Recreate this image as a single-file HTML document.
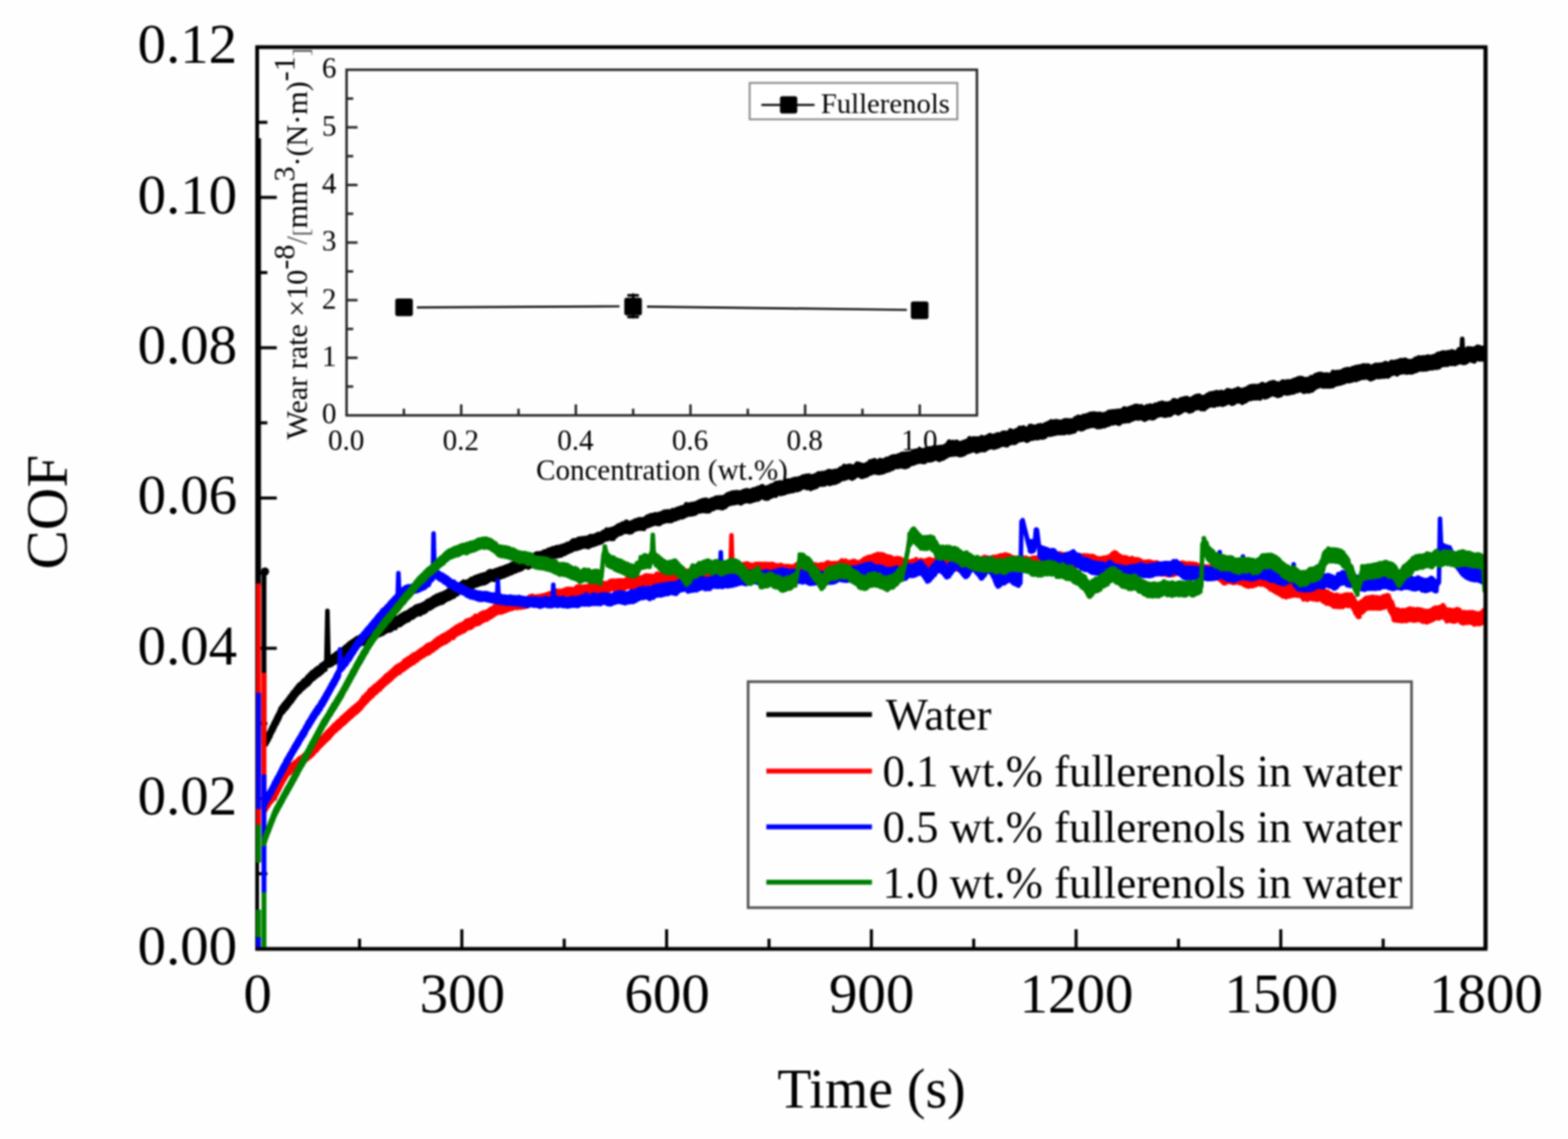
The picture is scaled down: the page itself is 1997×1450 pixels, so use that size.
<!DOCTYPE html>
<html lang="en"><head><meta charset="utf-8"><title>COF vs Time</title>
<style>html,body{margin:0;padding:0;background:#fff;}body{width:1997px;height:1450px;overflow:hidden;}svg{display:block;filter:blur(0.9px);}text{font-family:'Liberation Serif', serif;fill:#000;}</style></head><body>
<svg width="1997" height="1450" viewBox="0 0 1997 1450" role="img" aria-label="COF versus time chart">
<rect x="0" y="0" width="1997" height="1450" fill="#fefefe"/>
<g id="main-axes" stroke="#000" stroke-width="3.9" fill="none" stroke-linecap="butt">
<rect x="327.5" y="60.0" width="1564.5" height="1148.0" stroke-width="4.8"/>
<line x1="327.5" y1="1112.3" x2="340.5" y2="1112.3"/>
<line x1="327.5" y1="1016.7" x2="352.5" y2="1016.7"/>
<line x1="327.5" y1="921.0" x2="340.5" y2="921.0"/>
<line x1="327.5" y1="825.3" x2="352.5" y2="825.3"/>
<line x1="327.5" y1="729.7" x2="340.5" y2="729.7"/>
<line x1="327.5" y1="634.0" x2="352.5" y2="634.0"/>
<line x1="327.5" y1="538.3" x2="340.5" y2="538.3"/>
<line x1="327.5" y1="442.7" x2="352.5" y2="442.7"/>
<line x1="327.5" y1="347.0" x2="340.5" y2="347.0"/>
<line x1="327.5" y1="251.3" x2="352.5" y2="251.3"/>
<line x1="327.5" y1="155.7" x2="340.5" y2="155.7"/>
<line x1="457.9" y1="1208.0" x2="457.9" y2="1195.0"/>
<line x1="588.2" y1="1208.0" x2="588.2" y2="1183.0"/>
<line x1="718.6" y1="1208.0" x2="718.6" y2="1195.0"/>
<line x1="849.0" y1="1208.0" x2="849.0" y2="1183.0"/>
<line x1="979.4" y1="1208.0" x2="979.4" y2="1195.0"/>
<line x1="1109.8" y1="1208.0" x2="1109.8" y2="1183.0"/>
<line x1="1240.1" y1="1208.0" x2="1240.1" y2="1195.0"/>
<line x1="1370.5" y1="1208.0" x2="1370.5" y2="1183.0"/>
<line x1="1500.9" y1="1208.0" x2="1500.9" y2="1195.0"/>
<line x1="1631.2" y1="1208.0" x2="1631.2" y2="1183.0"/>
<line x1="1761.6" y1="1208.0" x2="1761.6" y2="1195.0"/>
</g>
<g id="main-labels" font-size="72.5">
<text x="302" y="1228.3" text-anchor="end">0.00</text>
<text x="302" y="1037.0" text-anchor="end">0.02</text>
<text x="302" y="845.6" text-anchor="end">0.04</text>
<text x="302" y="654.3" text-anchor="end">0.06</text>
<text x="302" y="463.0" text-anchor="end">0.08</text>
<text x="302" y="271.6" text-anchor="end">0.10</text>
<text x="302" y="80.3" text-anchor="end">0.12</text>
<text x="328.0" y="1288.5" text-anchor="middle">0</text>
<text x="588.8" y="1288.5" text-anchor="middle">300</text>
<text x="849.5" y="1288.5" text-anchor="middle">600</text>
<text x="1110.2" y="1288.5" text-anchor="middle">900</text>
<text x="1371.0" y="1288.5" text-anchor="middle">1200</text>
<text x="1631.8" y="1288.5" text-anchor="middle">1500</text>
<text x="1892.5" y="1288.5" text-anchor="middle">1800</text>
</g>
<text x="1110" y="1409.5" font-size="71" text-anchor="middle">Time (s)</text>
<text transform="translate(85,652) rotate(-90)" font-size="75" text-anchor="middle">COF</text>
<g id="inset-axes" stroke="#262626" stroke-width="3.1" fill="none">
<rect x="441.4" y="88.8" width="802.8" height="440.0" fill="#fefefe"/>
<line x1="441.4" y1="492.1" x2="449.9" y2="492.1"/>
<line x1="441.4" y1="455.5" x2="455.4" y2="455.5"/>
<line x1="441.4" y1="418.8" x2="449.9" y2="418.8"/>
<line x1="441.4" y1="382.1" x2="455.4" y2="382.1"/>
<line x1="441.4" y1="345.5" x2="449.9" y2="345.5"/>
<line x1="441.4" y1="308.8" x2="455.4" y2="308.8"/>
<line x1="441.4" y1="272.1" x2="449.9" y2="272.1"/>
<line x1="441.4" y1="235.5" x2="455.4" y2="235.5"/>
<line x1="441.4" y1="198.8" x2="449.9" y2="198.8"/>
<line x1="441.4" y1="162.1" x2="455.4" y2="162.1"/>
<line x1="441.4" y1="125.5" x2="449.9" y2="125.5"/>
<line x1="514.4" y1="528.8" x2="514.4" y2="520.3"/>
<line x1="587.4" y1="528.8" x2="587.4" y2="514.8"/>
<line x1="660.4" y1="528.8" x2="660.4" y2="520.3"/>
<line x1="733.4" y1="528.8" x2="733.4" y2="514.8"/>
<line x1="806.4" y1="528.8" x2="806.4" y2="520.3"/>
<line x1="879.4" y1="528.8" x2="879.4" y2="514.8"/>
<line x1="952.4" y1="528.8" x2="952.4" y2="520.3"/>
<line x1="1025.4" y1="528.8" x2="1025.4" y2="514.8"/>
<line x1="1098.4" y1="528.8" x2="1098.4" y2="520.3"/>
<line x1="1171.4" y1="528.8" x2="1171.4" y2="514.8"/>
</g>
<g id="inset-labels" font-size="37" fill="#222">
<text x="428.5" y="539.3" text-anchor="end" fill="#222">0</text>
<text x="428.5" y="466.0" text-anchor="end" fill="#222">1</text>
<text x="428.5" y="392.6" text-anchor="end" fill="#222">2</text>
<text x="428.5" y="319.3" text-anchor="end" fill="#222">3</text>
<text x="428.5" y="246.0" text-anchor="end" fill="#222">4</text>
<text x="428.5" y="172.6" text-anchor="end" fill="#222">5</text>
<text x="428.5" y="99.3" text-anchor="end" fill="#222">6</text>
<text x="440.9" y="573" text-anchor="middle" fill="#222">0.0</text>
<text x="586.9" y="573" text-anchor="middle" fill="#222">0.2</text>
<text x="732.9" y="573" text-anchor="middle" fill="#222">0.4</text>
<text x="878.9" y="573" text-anchor="middle" fill="#222">0.6</text>
<text x="1024.9" y="573" text-anchor="middle" fill="#222">0.8</text>
<text x="1170.9" y="573" text-anchor="middle" fill="#222">1.0</text>
<text x="843" y="610.5" text-anchor="middle" fill="#222">Concentration (wt.%)</text>
</g>
<text transform="translate(391,559.5) rotate(-90)" font-size="38.3" fill="#222">Wear rate ×10<tspan dy="-16">-8</tspan><tspan dy="16" fill="#555">/</tspan><tspan dy="2" font-size="30" fill="#555">[</tspan><tspan dy="-2">mm</tspan><tspan dy="-16">3</tspan><tspan dy="16">·(N·m)</tspan><tspan dy="-16">-1</tspan><tspan dy="18" font-size="30" fill="#555">]</tspan></text>
<g id="inset-data">
<path d="M531,391.3 L789,390 M824,390.3 L1155,394.5" stroke="#111" stroke-width="2.7" fill="none"/>
<path d="M806.3,375 V404 M800.3,376 H812.3 M800.3,403.5 H812.3" stroke="#000" stroke-width="3.4" fill="none" stroke-linecap="round"/>
<rect x="503.4" y="380.0" width="22.4" height="22.4" rx="3" fill="#000"/>
<rect x="795.1" y="379.1" width="22.4" height="22.4" rx="3" fill="#000"/>
<rect x="1160.1" y="383.8" width="22.4" height="22.4" rx="3" fill="#000"/>
</g>
<g id="inset-legend">
<rect x="954.8" y="105.6" width="264.4" height="46.3" fill="#fff" stroke="#8c8c8c" stroke-width="2.4"/>
<line x1="969.7" y1="133.7" x2="1037.4" y2="133.7" stroke="#111" stroke-width="2.8"/>
<rect x="993.4" y="122.6" width="22" height="22" rx="3" fill="#000"/>
<text x="1045.5" y="143.6" font-size="36.5" fill="#222">Fullerenols</text>
</g>
<clipPath id="plotclip"><rect x="325.0" y="60.0" width="1568.0" height="1149.0"/></clipPath>
<g id="curves" fill="none" stroke-linejoin="round" stroke-linecap="round" clip-path="url(#plotclip)">
<line x1="329.3" y1="176.0" x2="329.3" y2="746.0" stroke="#000" stroke-width="6.2" stroke-linecap="butt"/>
<line x1="336.2" y1="724.0" x2="336.2" y2="946.0" stroke="#000" stroke-width="6.2" stroke-linecap="butt"/>
<circle cx="337.5" cy="727.5" r="5.2" fill="#000"/>
<polyline stroke="#000000" stroke-width="5.8" points="338.0,948.1 338.3,940.2 338.7,947.8 339.0,938.6 339.3,946.3 339.7,938.3 340.0,945.7 340.3,937.3 340.7,944.4 341.0,936.3 341.3,943.2 341.5,935.0 341.8,942.4 342.1,934.0 342.3,941.2 342.6,932.8 342.9,940.3 343.1,932.0 343.4,939.0 343.7,931.3 343.9,938.3 344.2,929.9 344.5,937.1 344.7,928.6 345.0,935.8 345.2,927.3 345.5,934.3 345.8,926.3 346.0,933.4 346.3,924.9 346.6,932.2 346.8,924.6 347.1,931.4 347.4,923.4 347.6,930.7 347.9,921.9 348.2,929.2 348.4,920.8 348.7,928.6 349.0,919.5 349.2,926.9 349.5,919.1 349.8,926.3 350.0,917.6 350.3,924.9 350.6,916.9 350.8,923.6 351.1,915.3 351.4,922.7 351.6,914.1 351.9,922.2 352.2,913.3 352.4,920.8 352.7,912.0 353.0,920.1 353.2,911.6 353.5,918.5 353.8,909.8 354.0,917.8 354.3,909.5 354.5,916.5 354.8,908.6 355.1,916.2 355.3,906.9 355.6,914.8 355.9,906.0 356.1,913.2 356.4,904.9 356.7,912.5 356.9,903.0 357.2,911.0 357.5,902.0 357.7,909.7 358.0,901.5 358.4,908.5 358.7,900.1 359.1,908.1 359.5,899.5 359.9,907.0 360.2,898.2 360.6,906.7 361.0,897.3 361.3,905.0 361.7,896.1 362.1,904.3 362.5,895.7 362.8,903.1 363.2,894.7 363.6,903.0 364.0,893.5 364.3,902.2 364.7,892.8 365.1,900.8 365.4,891.9 365.8,900.4 366.2,891.1 366.6,898.8 366.9,889.9 367.3,898.3 367.7,888.9 368.0,897.1 368.4,887.9 368.8,896.2 369.2,886.7 369.5,895.5 369.9,885.9 370.3,894.2 370.7,885.1 371.0,893.5 371.4,884.0 371.8,893.0 372.1,883.3 372.5,891.2 372.9,881.4 373.3,890.3 373.6,881.0 374.0,889.4 374.4,880.3 374.7,888.6 375.1,879.6 375.5,887.4 375.9,878.3 376.2,886.2 376.6,877.2 377.0,885.4 377.4,876.8 377.7,884.4 378.1,875.3 378.5,883.6 378.8,874.6 379.2,882.5 379.6,873.7 380.0,882.0 380.3,872.7 380.7,881.3 381.1,871.6 381.6,880.8 382.0,871.1 382.5,879.5 382.9,870.7 383.4,878.5 383.8,869.7 384.3,877.9 384.7,868.9 385.2,876.8 385.6,868.0 386.1,876.2 386.5,866.7 387.0,875.6 387.4,865.9 387.9,874.6 388.3,866.0 388.7,873.7 389.2,864.9 389.6,873.0 390.1,863.8 390.5,872.6 391.0,863.0 391.4,871.8 391.9,861.2 392.3,871.2 392.8,861.8 393.2,870.2 393.7,860.8 394.1,869.4 394.6,858.6 395.0,867.8 395.5,859.2 395.9,866.9 396.3,857.5 396.8,865.8 397.2,855.8 397.7,865.2 398.1,855.8 398.6,864.7 399.0,855.0 399.5,863.9 399.9,854.3 400.4,863.1 400.8,854.0 401.3,862.3 401.7,852.7 402.2,861.5 402.6,852.2 403.1,860.4 403.5,851.4 404.0,860.3 404.5,850.5 404.9,859.2 405.4,850.4 405.9,859.2 406.4,849.9 406.9,858.5 407.3,848.9 407.8,857.0 408.3,848.1 408.8,856.8 409.3,846.3 409.7,856.2 410.2,846.4 410.7,854.9 411.2,845.6 411.7,854.2 412.1,844.7 412.6,853.6 413.1,844.5 413.6,852.8 414.1,843.1 414.5,852.3 415.0,842.5 415.5,847.5 415.5,845.9 415.5,846.2 415.5,844.7 415.6,845.0 415.6,843.5 415.6,843.8 415.6,842.4 415.6,842.7 415.6,841.1 415.6,841.4 415.6,839.9 415.7,840.2 415.7,838.7 415.7,839.0 415.7,837.5 415.7,837.9 415.7,836.3 415.7,836.7 415.7,835.2 415.8,835.4 415.8,833.9 415.8,834.3 415.8,832.7 415.8,833.0 415.8,831.5 415.8,831.8 415.9,830.3 415.9,830.7 415.9,829.1 415.9,829.4 415.9,827.9 415.9,828.2 415.9,826.7 415.9,827.0 416.0,825.5 416.0,825.8 416.0,824.4 416.0,824.7 416.0,823.2 416.0,823.5 416.0,821.9 416.0,822.3 416.1,820.7 416.1,821.1 416.1,819.5 416.1,819.8 416.1,818.3 416.1,818.7 416.1,817.1 416.2,817.5 416.2,815.9 416.2,816.2 416.2,814.6 416.2,815.0 416.2,813.5 416.2,813.9 416.2,812.3 416.3,812.6 416.3,811.1 416.3,811.4 416.3,809.9 416.3,810.2 416.3,808.7 416.3,809.0 416.3,807.5 416.4,807.8 416.4,806.3 416.4,806.7 416.4,805.1 416.4,805.5 416.4,803.9 416.4,804.2 416.5,802.7 416.5,803.0 416.5,801.5 416.5,801.8 416.5,800.3 416.5,800.6 416.5,799.1 416.5,799.4 416.6,797.9 416.6,798.3 416.6,796.7 416.6,797.1 416.6,795.6 416.6,795.9 416.6,794.4 416.6,794.7 416.7,793.1 416.7,793.5 416.7,791.9 416.7,792.3 416.7,790.7 416.7,791.1 416.7,789.5 416.8,789.9 416.8,788.3 416.8,788.6 416.8,787.1 416.8,787.5 416.8,785.9 416.8,786.2 416.8,784.7 416.9,785.1 416.9,783.5 416.9,783.8 416.9,782.3 416.9,782.7 416.9,781.1 416.9,781.5 416.9,779.9 417.0,780.3 417.0,778.7 417.0,779.1 417.0,777.6 417.0,779.1 417.0,778.7 417.0,780.3 417.1,780.0 417.1,781.5 417.1,781.1 417.1,782.7 417.1,782.4 417.1,783.9 417.1,783.6 417.2,785.1 417.2,784.8 417.2,786.3 417.2,786.0 417.2,787.5 417.2,787.2 417.2,788.7 417.2,788.4 417.3,789.9 417.3,789.6 417.3,791.1 417.3,790.7 417.3,792.3 417.3,792.0 417.3,793.5 417.4,793.2 417.4,794.7 417.4,794.4 417.4,795.9 417.4,795.6 417.4,797.2 417.4,796.8 417.5,798.3 417.5,797.9 417.5,799.5 417.5,799.3 417.5,800.8 417.5,800.5 417.5,802.0 417.6,801.6 417.6,803.2 417.6,802.8 417.6,804.4 417.6,804.0 417.6,805.6 417.6,805.2 417.7,806.8 417.7,806.4 417.7,808.0 417.7,807.6 417.7,809.1 417.7,808.8 417.7,810.3 417.8,810.0 417.8,811.5 417.8,811.2 417.8,812.7 417.8,812.4 417.8,814.0 417.8,813.6 417.8,815.1 417.9,814.8 417.9,816.4 417.9,816.0 417.9,817.6 417.9,817.3 417.9,818.8 417.9,818.5 418.0,820.0 418.0,819.7 418.0,821.2 418.0,820.9 418.0,822.5 418.0,822.1 418.0,823.7 418.1,823.3 418.1,824.8 418.1,824.5 418.1,826.0 418.1,825.7 418.1,827.2 418.1,826.9 418.2,828.4 418.2,828.1 418.2,829.7 418.2,829.3 418.2,830.8 418.2,830.6 418.2,832.0 418.2,831.7 418.3,833.2 418.3,832.9 418.3,834.5 418.3,834.2 418.3,835.6 418.3,835.3 418.3,836.9 418.4,836.5 418.4,838.1 418.4,837.8 418.4,839.3 418.4,838.9 418.4,840.4 418.4,840.2 418.5,841.6 418.5,841.4 418.5,842.9 418.5,838.3 419.0,847.5 419.6,837.7 420.1,846.7 420.6,837.4 421.2,846.8 421.7,837.2 422.2,846.0 422.8,836.6 423.3,845.5 423.9,835.2 424.4,844.2 424.9,834.6 425.5,843.4 426.0,834.1 426.5,843.7 427.0,832.9 427.4,842.7 427.9,832.2 428.4,841.6 428.9,831.7 429.4,841.5 429.8,831.2 430.3,840.3 430.8,830.1 431.3,839.9 431.8,829.7 432.2,838.7 432.7,829.5 433.2,838.1 433.7,828.3 434.1,838.1 434.6,828.2 435.1,836.7 435.6,827.1 436.1,836.7 436.5,826.5 437.0,835.4 437.5,825.6 438.0,834.6 438.5,825.1 438.9,833.8 439.4,823.9 439.9,833.5 440.4,823.0 440.9,832.0 441.3,822.6 441.8,831.6 442.3,822.0 442.8,830.5 443.2,820.7 443.7,829.9 444.2,819.9 444.7,829.1 445.2,819.1 445.6,828.8 446.1,818.2 446.6,827.9 447.1,818.1 447.6,826.6 448.0,817.1 448.5,826.5 449.0,816.4 449.5,825.3 450.1,815.7 450.6,824.5 451.2,815.2 451.7,824.0 452.2,814.1 452.8,823.9 453.3,814.0 453.9,822.7 454.4,812.4 454.9,822.0 455.5,812.2 456.0,821.6 456.6,812.2 457.1,821.6 457.6,811.4 458.2,820.4 458.7,810.3 459.3,819.9 459.8,810.0 460.4,819.8 460.9,810.1 461.4,819.6 462.0,809.3 462.5,819.4 463.1,808.9 463.6,818.0 464.1,808.7 464.7,818.5 465.2,808.0 465.8,817.2 466.3,806.5 466.8,817.5 467.4,806.4 467.9,816.4 468.5,806.0 469.0,815.3 469.5,805.2 470.1,815.2 470.6,804.9 471.2,814.0 471.7,804.2 472.2,813.9 472.8,803.7 473.3,813.4 473.9,802.8 474.4,812.7 474.9,802.1 475.5,812.4 476.0,801.3 476.6,811.9 477.1,801.4 477.7,810.8 478.2,800.7 478.7,810.3 479.3,800.0 479.8,810.0 480.4,799.5 480.9,809.1 481.4,799.9 482.0,808.9 482.5,798.8 483.1,808.7 483.6,798.1 484.1,808.0 484.7,796.6 485.2,807.1 485.8,797.5 486.3,806.6 486.9,796.9 487.4,806.8 487.9,795.7 488.5,805.4 489.0,795.4 489.6,805.0 490.1,794.8 490.6,804.8 491.2,794.7 491.7,803.8 492.3,793.9 492.8,803.2 493.3,793.4 493.9,803.2 494.4,792.2 495.0,802.8 495.5,792.3 496.0,802.3 496.6,791.6 497.1,802.5 497.7,791.2 498.2,802.1 498.8,790.4 499.3,800.8 499.8,789.4 500.4,799.4 500.9,789.3 501.5,799.1 502.0,789.4 502.5,798.6 503.1,788.1 503.6,799.6 504.1,786.5 504.6,797.5 505.2,787.9 505.7,796.8 506.2,787.3 506.7,796.4 507.3,786.3 507.8,796.1 508.3,786.0 508.8,795.8 509.4,784.5 509.9,795.6 510.4,784.9 510.9,794.4 511.5,783.1 512.0,793.8 512.5,783.5 513.0,793.2 513.6,781.9 514.1,792.4 514.6,781.8 515.1,791.9 515.7,780.7 516.2,791.1 516.7,780.3 517.2,790.6 517.8,779.8 518.3,789.8 518.8,779.9 519.4,789.9 519.9,778.9 520.4,789.4 520.9,778.1 521.5,788.2 522.0,777.8 522.5,787.0 523.0,776.6 523.6,786.3 524.1,776.0 524.6,786.6 525.1,775.9 525.7,786.0 526.2,775.1 526.7,785.3 527.2,774.4 527.8,784.4 528.3,773.2 528.8,783.7 529.3,773.1 529.9,783.0 530.4,771.9 530.9,782.1 531.4,771.7 532.0,782.2 532.5,771.5 533.0,781.3 533.6,770.8 534.1,780.8 534.6,771.0 535.2,782.0 535.7,770.6 536.2,781.1 536.8,770.2 537.3,780.3 537.9,769.4 538.4,779.1 538.9,769.5 539.5,779.2 540.0,768.3 540.5,779.4 541.1,768.1 541.6,777.6 542.1,767.3 542.7,777.9 543.2,766.4 543.7,776.2 544.3,765.5 544.8,775.4 545.3,764.6 545.9,774.8 546.4,764.9 546.9,774.8 547.5,764.2 548.0,774.5 548.6,763.2 549.1,773.2 549.6,763.2 550.2,773.0 550.7,762.3 551.2,772.6 551.8,761.0 552.3,771.1 552.8,760.4 553.4,770.6 553.9,759.9 554.4,770.5 555.0,759.8 555.5,769.9 556.0,758.4 556.6,768.9 557.1,758.8 557.6,769.2 558.2,758.4 558.7,768.2 559.3,757.2 559.8,768.1 560.3,757.4 560.9,767.3 561.4,756.4 561.9,767.3 562.5,757.0 563.0,767.3 563.5,755.7 564.1,766.8 564.6,755.9 565.1,765.9 565.7,755.7 566.2,765.0 566.8,754.1 567.3,764.3 567.8,753.7 568.4,763.6 568.9,753.6 569.4,763.1 570.0,752.8 570.5,762.9 571.0,751.5 571.6,762.4 572.1,751.7 572.6,762.1 573.2,751.0 573.7,761.4 574.2,749.6 574.8,760.7 575.3,749.4 575.9,759.5 576.4,749.7 576.9,759.6 577.5,749.1 578.0,759.5 578.5,748.5 579.1,758.2 579.6,746.7 580.1,757.4 580.7,747.1 581.2,756.6 581.8,746.3 582.3,756.7 582.8,744.8 583.4,755.3 583.9,744.3 584.4,754.7 585.0,744.0 585.5,753.9 586.0,744.0 586.6,753.5 587.1,743.6 587.6,753.6 588.2,742.2 588.7,753.2 589.2,742.5 589.8,753.1 590.3,740.5 590.9,752.1 591.4,742.1 591.9,751.8 592.5,741.7 593.0,751.4 593.6,740.9 594.1,751.4 594.7,740.3 595.2,750.5 595.8,740.3 596.4,751.3 596.9,739.5 597.5,749.2 598.1,738.8 598.6,748.8 599.2,738.2 599.8,747.7 600.3,737.0 600.9,747.6 601.4,736.9 602.0,747.4 602.6,736.7 603.1,746.7 603.7,735.9 604.2,746.2 604.8,735.0 605.4,745.4 605.9,735.2 606.5,744.7 607.1,734.3 607.6,745.2 608.2,733.7 608.8,743.6 609.3,733.3 609.9,743.5 610.4,733.6 611.0,743.9 611.6,732.6 612.1,743.0 612.7,732.2 613.2,742.6 613.8,731.8 614.4,742.8 614.9,732.4 615.5,741.9 616.1,731.3 616.6,742.5 617.2,731.0 617.8,741.6 618.3,730.8 618.9,741.5 619.4,730.6 620.0,741.0 620.6,729.9 621.1,739.6 621.7,728.4 622.3,739.4 622.8,727.6 623.4,738.7 623.9,727.2 624.5,737.9 625.1,727.1 625.6,737.6 626.2,727.6 626.8,737.2 627.3,727.1 627.9,737.6 628.5,727.6 629.0,738.3 629.6,727.0 630.1,737.6 630.7,726.4 631.3,737.3 631.8,725.7 632.4,737.0 633.0,725.3 633.5,736.6 634.1,725.8 634.6,736.3 635.2,724.9 635.8,735.4 636.3,724.1 636.9,735.0 637.5,724.6 638.0,734.8 638.6,723.4 639.2,734.2 639.7,723.8 640.3,733.3 640.8,723.0 641.4,733.8 642.0,722.4 642.5,733.1 643.1,721.8 643.7,732.6 644.2,721.4 644.8,731.8 645.4,721.0 645.9,731.9 646.5,720.6 647.0,731.4 647.6,720.2 648.2,730.7 648.7,719.8 649.3,730.1 649.9,719.3 650.4,730.1 651.0,718.5 651.5,729.7 652.1,718.4 652.7,728.8 653.2,717.3 653.8,727.8 654.4,717.2 654.9,727.7 655.5,716.8 656.1,727.7 656.6,715.9 657.2,726.4 657.7,715.7 658.3,726.6 658.9,715.6 659.4,725.5 660.0,715.4 660.6,725.8 661.1,714.2 661.7,724.9 662.3,713.9 662.8,725.0 663.4,713.9 663.9,724.5 664.5,712.5 665.1,723.5 665.6,712.8 666.2,723.1 666.8,711.9 667.3,721.9 667.9,711.4 668.5,721.4 669.0,710.9 669.6,720.8 670.1,710.3 670.7,721.4 671.3,710.7 671.8,721.0 672.4,710.1 673.0,722.5 673.5,709.4 674.1,721.6 674.6,710.2 675.2,721.3 675.8,710.1 676.3,720.7 676.9,709.3 677.5,720.0 678.0,708.9 678.6,719.5 679.2,708.3 679.7,718.2 680.3,707.0 680.8,718.1 681.4,706.7 682.0,716.7 682.5,704.9 683.1,716.5 683.7,705.6 684.2,716.1 684.8,704.3 685.4,716.4 685.9,704.6 686.5,715.3 687.0,704.6 687.6,714.7 688.2,704.3 688.7,714.3 689.3,704.2 689.9,714.1 690.4,703.3 691.0,714.1 691.5,703.1 692.1,713.8 692.7,702.3 693.2,713.4 693.8,701.9 694.4,712.9 694.9,702.0 695.5,712.6 696.1,701.6 696.6,711.5 697.2,701.4 697.7,710.9 698.3,699.9 698.9,710.7 699.4,699.8 700.0,711.1 700.6,699.3 701.1,710.2 701.7,699.3 702.3,709.4 702.9,698.7 703.4,709.0 704.0,698.0 704.6,709.0 705.1,697.9 705.7,708.8 706.3,697.7 706.9,708.4 707.4,697.2 708.0,707.5 708.6,696.6 709.1,708.2 709.7,696.5 710.3,707.6 710.9,697.1 711.4,707.9 712.0,696.4 712.6,707.4 713.1,696.4 713.7,706.7 714.3,695.5 714.9,707.1 715.4,695.6 716.0,706.2 716.6,695.4 717.1,705.7 717.7,694.3 718.3,705.1 718.9,694.1 719.4,705.0 720.0,694.3 720.6,703.9 721.1,693.6 721.7,703.5 722.3,692.4 722.9,703.2 723.4,692.3 724.0,702.5 724.6,692.1 725.1,702.1 725.7,691.9 726.3,701.5 726.9,690.7 727.4,700.7 728.0,690.4 728.6,700.7 729.1,688.7 729.7,699.4 730.3,687.8 730.9,698.6 731.4,688.1 732.0,698.4 732.6,688.0 733.1,699.0 733.7,688.0 734.3,698.7 734.9,687.9 735.4,698.3 736.0,686.4 736.6,698.0 737.1,686.0 737.7,697.6 738.3,685.7 738.9,697.3 739.4,685.3 740.0,696.3 740.6,685.8 741.1,696.1 741.7,685.3 742.3,696.0 742.9,685.1 743.4,695.8 744.0,684.8 744.6,695.4 745.1,685.2 745.7,695.9 746.3,685.1 746.9,695.4 747.4,685.2 748.0,695.1 748.6,684.2 749.1,696.7 749.7,684.2 750.3,695.5 750.9,683.9 751.4,695.4 752.0,682.5 752.6,694.7 753.1,683.2 753.7,694.1 754.3,682.6 754.9,694.1 755.4,683.1 756.0,693.8 756.6,682.1 757.1,692.3 757.7,682.4 758.3,692.3 758.9,681.3 759.4,692.6 760.0,680.9 760.6,691.4 761.1,680.1 761.7,691.6 762.3,679.7 762.9,690.8 763.4,680.5 764.0,691.1 764.6,680.0 765.1,689.8 765.7,679.5 766.3,690.0 766.9,678.4 767.4,689.1 768.0,677.5 768.6,688.1 769.1,676.9 769.7,687.3 770.3,676.3 770.9,686.7 771.4,676.0 772.0,686.0 772.6,674.2 773.1,686.6 773.7,675.1 774.3,685.8 774.9,675.1 775.4,685.9 776.0,674.8 776.6,685.7 777.1,673.9 777.7,685.6 778.3,675.2 778.9,686.0 779.4,674.8 780.0,685.2 780.6,672.8 781.1,686.0 781.7,673.7 782.3,684.4 782.9,673.3 783.4,682.6 784.0,671.3 784.6,682.4 785.1,671.5 785.7,681.2 786.3,669.6 786.9,680.6 787.4,669.6 788.0,679.8 788.6,668.4 789.1,679.0 789.7,668.7 790.3,679.5 790.9,667.8 791.4,679.1 792.0,667.2 792.6,678.1 793.1,666.5 793.7,677.4 794.3,666.1 794.9,676.9 795.4,666.7 796.0,677.1 796.6,666.4 797.1,676.1 797.7,664.1 798.3,677.0 798.9,666.3 799.4,676.8 800.0,665.5 800.6,677.4 801.2,665.6 801.7,677.8 802.3,666.7 802.9,677.6 803.5,665.8 804.0,677.3 804.6,664.9 805.2,676.8 805.8,664.9 806.4,674.9 806.9,663.9 807.5,674.2 808.1,663.1 808.7,674.4 809.2,662.6 809.8,674.2 810.4,662.3 811.0,673.4 811.6,661.8 812.1,673.2 812.7,661.8 813.3,672.6 813.9,661.2 814.5,673.0 815.0,660.8 815.6,672.0 816.2,661.2 816.8,672.9 817.3,661.6 817.9,673.1 818.5,661.2 819.1,672.7 819.7,660.9 820.2,673.4 820.8,660.3 821.4,671.2 822.0,659.7 822.5,670.3 823.1,659.6 823.7,670.1 824.3,657.6 824.9,669.8 825.4,657.5 826.0,669.1 826.6,658.2 827.2,668.8 827.7,656.6 828.3,668.6 828.9,655.9 829.5,668.1 830.1,655.9 830.6,667.5 831.2,656.1 831.8,666.7 832.4,655.3 832.9,666.9 833.5,655.4 834.1,666.7 834.7,654.6 835.3,666.4 835.8,655.0 836.4,666.7 837.0,655.4 837.6,667.2 838.2,654.7 838.7,666.9 839.3,654.7 839.9,667.0 840.5,654.0 841.0,666.1 841.6,654.3 842.2,664.7 842.8,653.2 843.4,664.8 843.9,653.1 844.5,664.1 845.1,652.0 845.7,664.1 846.2,651.3 846.8,662.8 847.4,651.7 848.0,663.0 848.6,651.1 849.1,662.6 849.7,651.7 850.3,663.4 850.9,651.0 851.4,663.0 852.0,651.7 852.6,663.4 853.2,651.6 853.8,662.6 854.3,650.8 854.9,663.4 855.5,650.6 856.1,662.4 856.6,649.3 857.2,661.4 857.8,650.4 858.4,661.3 859.0,649.5 859.5,661.4 860.1,649.3 860.7,660.7 861.3,648.3 861.8,660.3 862.4,648.5 863.0,659.8 863.6,647.4 864.2,659.7 864.7,647.3 865.3,658.1 865.9,647.0 866.5,658.2 867.1,647.1 867.6,658.4 868.2,645.9 868.8,658.6 869.4,646.1 869.9,658.2 870.5,645.3 871.1,657.7 871.7,645.7 872.3,656.6 872.8,644.2 873.4,656.3 874.0,642.0 874.6,655.8 875.1,642.8 875.7,654.3 876.3,643.1 876.9,654.9 877.5,642.3 878.0,654.1 878.6,642.2 879.2,655.2 879.8,642.2 880.3,654.4 880.9,642.6 881.5,653.9 882.1,641.5 882.7,654.6 883.2,641.8 883.8,653.9 884.4,641.7 885.0,653.8 885.5,640.9 886.1,653.4 886.7,641.1 887.3,652.0 887.9,640.0 888.4,651.6 889.0,639.8 889.6,651.0 890.2,638.7 890.8,650.5 891.3,639.2 891.9,651.1 892.5,637.7 893.1,650.9 893.6,637.4 894.2,650.0 894.8,636.9 895.4,649.9 896.0,637.0 896.5,649.3 897.1,636.5 897.7,650.9 898.3,638.0 898.8,649.3 899.4,636.2 900.0,649.9 900.6,637.5 901.2,651.0 901.8,639.0 902.3,650.2 902.9,637.5 903.5,650.5 904.1,637.4 904.7,648.8 905.3,636.4 905.9,648.5 906.4,636.4 907.0,647.6 907.6,635.3 908.2,648.0 908.8,635.4 909.4,646.9 910.0,634.9 910.5,646.2 911.1,634.2 911.7,646.4 912.3,633.4 912.9,646.4 913.5,633.8 914.1,645.3 914.6,633.7 915.2,645.8 915.8,633.2 916.4,646.2 917.0,634.0 917.6,646.6 918.2,633.1 918.8,645.5 919.3,632.8 919.9,647.0 920.5,634.0 921.1,646.3 921.7,633.5 922.3,645.2 922.9,632.9 923.4,645.7 924.0,631.5 924.6,644.1 925.2,630.7 925.8,643.4 926.4,629.5 927.0,642.0 927.5,629.8 928.1,641.9 928.7,628.6 929.3,641.7 929.9,628.1 930.5,640.4 931.1,627.6 931.6,641.1 932.2,627.5 932.8,639.8 933.4,626.9 934.0,640.7 934.6,627.3 935.2,640.5 935.7,626.8 936.3,639.5 936.9,627.5 937.5,640.1 938.1,626.5 938.7,639.0 939.3,627.0 939.8,639.5 940.4,626.9 941.0,639.6 941.6,626.8 942.2,639.7 942.8,627.2 943.4,640.9 943.9,628.1 944.5,639.5 945.1,626.2 945.7,639.5 946.3,626.2 946.9,638.8 947.5,625.0 948.0,637.5 948.6,624.6 949.2,638.2 949.8,625.0 950.4,636.9 951.0,624.1 951.6,637.8 952.1,624.2 952.7,638.2 953.3,625.0 953.9,638.3 954.5,625.2 955.1,638.6 955.7,625.0 956.2,637.7 956.8,624.4 957.4,637.8 958.0,623.9 958.6,636.7 959.2,623.1 959.8,636.2 960.4,623.2 960.9,636.9 961.5,623.4 962.1,636.2 962.7,622.4 963.3,635.4 963.9,622.8 964.5,635.8 965.0,621.1 965.6,635.8 966.2,621.5 966.8,633.8 967.4,621.4 968.0,634.0 968.6,620.1 969.1,632.8 969.7,619.4 970.3,632.5 970.9,618.8 971.5,632.4 972.1,620.1 972.7,632.9 973.2,620.4 973.8,634.4 974.4,621.2 975.0,634.7 975.6,621.4 976.2,634.9 976.8,620.5 977.3,634.1 977.9,620.6 978.5,634.5 979.1,620.2 979.7,632.7 980.3,619.1 980.9,632.4 981.4,618.7 982.0,632.4 982.6,618.0 983.2,631.2 983.8,617.9 984.4,631.2 985.0,617.6 985.5,630.5 986.1,616.6 986.7,629.3 987.3,615.8 987.9,631.1 988.5,614.9 989.1,629.2 989.6,614.7 990.2,629.0 990.8,614.8 991.4,627.8 992.0,614.5 992.6,628.6 993.2,614.1 993.8,628.7 994.3,614.2 994.9,628.8 995.5,614.5 996.1,627.9 996.7,614.9 997.3,627.7 997.9,614.5 998.4,628.1 999.0,613.9 999.6,627.3 1000.2,613.2 1000.8,627.1 1001.4,612.0 1002.0,625.4 1002.5,611.9 1003.1,625.8 1003.7,612.9 1004.3,626.1 1004.9,611.7 1005.5,625.4 1006.1,611.9 1006.6,625.6 1007.2,612.5 1007.8,625.4 1008.4,611.2 1009.0,624.5 1009.6,610.3 1010.2,625.2 1010.7,610.1 1011.3,623.7 1011.9,609.9 1012.5,623.5 1013.1,609.6 1013.7,623.5 1014.3,609.6 1014.8,624.0 1015.4,609.9 1016.0,623.6 1016.6,609.5 1017.2,622.8 1017.8,609.0 1018.4,623.0 1018.9,609.0 1019.5,621.8 1020.1,608.2 1020.7,621.1 1021.3,607.7 1021.9,620.1 1022.5,606.7 1023.0,620.5 1023.6,606.8 1024.2,620.2 1024.8,606.4 1025.4,619.1 1026.0,606.3 1026.6,619.2 1027.1,605.6 1027.7,621.5 1028.3,605.9 1028.9,620.0 1029.5,605.6 1030.1,620.1 1030.7,605.5 1031.2,620.7 1031.8,606.7 1032.4,622.5 1033.0,606.7 1033.6,621.7 1034.2,607.7 1034.8,620.8 1035.4,606.8 1035.9,621.2 1036.5,605.7 1037.1,620.0 1037.7,605.4 1038.3,619.3 1038.9,606.0 1039.5,619.9 1040.0,604.5 1040.6,618.9 1041.2,603.6 1041.8,617.1 1042.4,602.7 1043.0,617.1 1043.6,602.6 1044.1,616.2 1044.7,602.9 1045.3,616.8 1045.9,603.1 1046.5,617.2 1047.1,602.1 1047.7,616.6 1048.2,603.7 1048.8,616.2 1049.4,603.5 1050.0,616.9 1050.6,602.0 1051.2,615.7 1051.8,601.4 1052.3,614.8 1052.9,601.2 1053.5,614.7 1054.1,600.7 1054.7,615.6 1055.3,599.6 1055.9,614.6 1056.4,600.0 1057.0,616.1 1057.6,599.9 1058.2,614.3 1058.8,600.9 1059.4,614.6 1060.0,601.6 1060.5,614.8 1061.1,601.5 1061.7,614.9 1062.3,599.7 1062.9,614.7 1063.5,600.1 1064.1,614.3 1064.6,599.4 1065.2,612.6 1065.8,599.5 1066.4,613.3 1067.0,599.0 1067.6,612.6 1068.2,598.6 1068.8,612.2 1069.3,597.9 1069.9,610.3 1070.5,596.4 1071.1,610.2 1071.7,596.5 1072.3,610.0 1072.9,596.0 1073.4,608.9 1074.0,595.0 1074.6,609.7 1075.2,593.2 1075.8,609.3 1076.4,594.4 1077.0,608.8 1077.5,594.6 1078.1,608.1 1078.7,594.2 1079.3,608.1 1079.9,593.5 1080.5,607.5 1081.1,593.2 1081.6,607.1 1082.2,593.0 1082.8,607.3 1083.4,594.3 1084.0,608.6 1084.6,593.6 1085.2,609.3 1085.7,595.5 1086.3,608.7 1086.9,594.8 1087.5,608.1 1088.1,594.2 1088.7,606.8 1089.3,592.8 1089.8,605.8 1090.4,591.9 1091.0,605.3 1091.6,590.2 1092.2,604.2 1092.8,591.7 1093.4,604.8 1093.9,590.7 1094.5,605.7 1095.1,592.2 1095.7,605.4 1096.3,591.5 1096.9,606.9 1097.5,592.3 1098.0,607.2 1098.6,592.4 1099.2,606.6 1099.8,592.1 1100.4,606.4 1101.0,592.3 1101.6,606.0 1102.1,591.8 1102.7,605.2 1103.3,591.3 1103.9,605.3 1104.5,590.3 1105.1,604.5 1105.7,590.3 1106.2,603.2 1106.8,589.6 1107.4,602.5 1108.0,587.5 1108.6,602.8 1109.2,588.5 1109.8,602.5 1110.4,587.8 1110.9,600.8 1111.5,586.7 1112.1,600.6 1112.7,586.2 1113.3,601.3 1113.9,586.0 1114.5,600.7 1115.0,587.1 1115.6,601.7 1116.2,587.5 1116.8,601.0 1117.4,587.4 1118.0,601.6 1118.6,587.2 1119.1,602.1 1119.7,587.9 1120.3,602.1 1120.9,585.7 1121.5,601.2 1122.1,586.7 1122.7,600.8 1123.2,587.0 1123.8,601.4 1124.4,586.8 1125.0,601.1 1125.6,585.9 1126.2,599.9 1126.8,586.4 1127.3,599.1 1127.9,585.7 1128.5,599.7 1129.1,584.1 1129.7,598.1 1130.3,584.4 1130.9,598.3 1131.4,584.1 1132.0,598.6 1132.6,583.5 1133.2,597.8 1133.8,582.8 1134.4,597.5 1135.0,581.9 1135.5,596.8 1136.1,582.2 1136.7,596.7 1137.3,581.2 1137.9,595.3 1138.5,580.9 1139.1,594.7 1139.6,581.5 1140.2,594.6 1140.8,581.0 1141.4,594.4 1142.0,580.9 1142.6,594.0 1143.2,580.5 1143.8,594.5 1144.3,579.6 1144.9,593.3 1145.5,579.5 1146.1,592.9 1146.7,578.9 1147.3,593.9 1147.9,578.8 1148.4,592.8 1149.0,577.6 1149.6,593.0 1150.2,578.5 1150.8,594.3 1151.4,577.6 1152.0,592.4 1152.5,578.0 1153.1,594.7 1153.7,578.4 1154.3,592.8 1154.9,577.2 1155.5,593.0 1156.1,578.5 1156.6,593.5 1157.2,578.0 1157.8,591.4 1158.4,576.8 1159.0,591.4 1159.6,577.7 1160.2,590.5 1160.7,577.0 1161.3,590.4 1161.9,576.6 1162.5,589.4 1163.1,574.9 1163.7,590.1 1164.3,575.2 1164.8,588.7 1165.4,573.9 1166.0,588.3 1166.6,574.4 1167.2,588.6 1167.8,573.6 1168.4,588.0 1168.9,573.5 1169.5,588.0 1170.1,573.1 1170.7,587.5 1171.3,573.8 1171.9,587.7 1172.5,572.7 1173.0,587.3 1173.6,574.1 1174.2,587.9 1174.8,573.5 1175.4,588.2 1176.0,573.7 1176.6,587.6 1177.1,573.1 1177.7,588.1 1178.3,572.3 1178.9,586.2 1179.5,572.0 1180.1,586.0 1180.7,572.1 1181.2,585.9 1181.8,571.2 1182.4,586.0 1183.0,570.8 1183.6,586.0 1184.2,570.8 1184.8,585.5 1185.4,571.6 1185.9,585.8 1186.5,571.6 1187.1,584.9 1187.7,570.2 1188.3,585.1 1188.9,570.2 1189.5,584.1 1190.0,569.6 1190.6,583.0 1191.2,569.7 1191.8,583.5 1192.4,569.8 1193.0,583.0 1193.6,569.3 1194.1,584.3 1194.7,569.3 1195.3,585.0 1195.9,570.3 1196.5,585.5 1197.1,570.5 1197.7,583.8 1198.2,569.0 1198.8,584.0 1199.4,570.1 1200.0,584.0 1200.6,568.8 1201.2,583.7 1201.8,569.6 1202.4,582.8 1203.0,568.2 1203.5,581.6 1204.1,567.5 1204.7,581.3 1205.3,566.9 1205.9,581.0 1206.5,565.6 1207.1,579.6 1207.7,564.0 1208.3,579.3 1208.9,562.2 1209.4,578.2 1210.0,564.3 1210.6,579.2 1211.2,563.3 1211.8,578.8 1212.4,564.5 1213.0,578.6 1213.6,562.7 1214.2,578.6 1214.8,563.3 1215.4,577.8 1215.9,563.6 1216.5,578.4 1217.1,563.2 1217.7,577.5 1218.3,562.5 1218.9,578.3 1219.5,563.1 1220.1,578.7 1220.7,564.1 1221.3,579.0 1221.9,564.7 1222.4,579.3 1223.0,564.8 1223.6,579.4 1224.2,563.8 1224.8,579.0 1225.4,563.9 1226.0,578.7 1226.6,563.0 1227.2,578.5 1227.8,562.8 1228.3,577.3 1228.9,562.1 1229.5,577.0 1230.1,562.5 1230.7,575.6 1231.3,561.3 1231.9,574.9 1232.5,560.7 1233.1,575.4 1233.7,559.8 1234.3,574.0 1234.8,557.9 1235.4,574.5 1236.0,558.6 1236.6,574.1 1237.2,559.3 1237.8,573.7 1238.4,558.6 1239.0,573.4 1239.6,558.2 1240.2,572.2 1240.7,559.0 1241.3,572.7 1241.9,558.2 1242.5,572.6 1243.1,558.6 1243.7,574.9 1244.3,559.1 1244.9,573.2 1245.5,558.2 1246.1,573.9 1246.7,559.5 1247.2,573.6 1247.8,558.7 1248.4,572.9 1249.0,559.3 1249.6,572.2 1250.2,556.4 1250.8,572.8 1251.4,557.9 1252.0,573.0 1252.6,557.3 1253.1,572.5 1253.7,557.9 1254.3,573.0 1254.9,557.3 1255.5,571.8 1256.1,556.5 1256.7,570.7 1257.3,555.9 1257.9,570.7 1258.5,555.9 1259.1,570.2 1259.6,554.6 1260.2,568.3 1260.8,553.8 1261.4,569.0 1262.0,554.6 1262.6,568.8 1263.2,554.9 1263.8,569.5 1264.4,555.4 1265.0,569.6 1265.6,555.2 1266.1,569.8 1266.7,554.5 1267.3,568.6 1267.9,554.3 1268.5,569.3 1269.1,554.6 1269.7,568.7 1270.3,552.9 1270.9,567.8 1271.5,553.6 1272.0,568.1 1272.6,553.5 1273.2,567.4 1273.8,553.1 1274.4,566.7 1275.0,552.5 1275.6,565.6 1276.2,551.8 1276.8,565.8 1277.4,550.8 1278.0,566.0 1278.5,552.4 1279.1,565.9 1279.7,550.8 1280.3,566.7 1280.9,551.9 1281.5,566.3 1282.1,552.4 1282.7,566.9 1283.3,551.0 1283.9,565.1 1284.4,550.9 1285.0,563.8 1285.6,549.9 1286.2,564.3 1286.8,548.0 1287.4,562.3 1288.0,549.0 1288.6,562.7 1289.2,549.2 1289.8,563.6 1290.4,549.2 1290.9,563.2 1291.5,549.2 1292.1,563.8 1292.7,549.5 1293.3,563.3 1293.9,547.9 1294.5,562.2 1295.1,548.1 1295.7,561.2 1296.3,547.2 1296.9,561.0 1297.4,546.1 1298.0,559.2 1298.6,544.7 1299.2,559.6 1299.8,545.0 1300.4,560.1 1301.0,544.8 1301.6,560.0 1302.2,545.4 1302.8,559.0 1303.3,544.2 1303.9,558.7 1304.5,544.8 1305.1,559.1 1305.7,546.1 1306.3,560.4 1306.9,546.0 1307.5,561.1 1308.1,546.4 1308.7,560.9 1309.3,545.9 1309.8,560.0 1310.4,544.6 1311.0,559.5 1311.6,542.4 1312.2,558.8 1312.8,542.1 1313.4,558.3 1314.0,542.7 1314.6,556.4 1315.2,543.0 1315.7,558.3 1316.3,543.5 1316.9,557.7 1317.5,543.6 1318.1,557.4 1318.7,544.2 1319.3,557.6 1319.9,542.9 1320.5,557.0 1321.1,543.1 1321.7,557.9 1322.2,541.8 1322.8,556.9 1323.4,542.5 1324.0,556.8 1324.6,541.5 1325.2,555.8 1325.8,541.4 1326.4,556.9 1327.0,542.5 1327.6,556.5 1328.1,542.1 1328.7,557.0 1329.3,541.5 1329.9,555.7 1330.5,541.6 1331.1,556.0 1331.7,540.0 1332.3,554.3 1332.9,540.5 1333.5,553.6 1334.1,540.0 1334.6,553.3 1335.2,538.5 1335.8,553.4 1336.4,537.9 1337.0,553.5 1337.6,538.1 1338.2,553.3 1338.8,536.4 1339.4,552.4 1340.0,538.3 1340.6,552.9 1341.1,537.0 1341.7,552.4 1342.3,536.8 1342.9,552.3 1343.5,536.3 1344.1,551.1 1344.7,537.4 1345.3,551.2 1345.9,536.2 1346.5,551.7 1347.0,536.9 1347.6,550.5 1348.2,537.3 1348.8,550.7 1349.4,536.9 1350.0,551.5 1350.6,536.8 1351.2,551.4 1351.8,537.9 1352.4,550.9 1353.0,537.0 1353.5,551.1 1354.1,536.1 1354.7,551.5 1355.3,535.4 1355.9,549.9 1356.5,535.6 1357.1,550.9 1357.7,535.0 1358.3,550.5 1358.9,535.6 1359.4,550.1 1360.0,535.1 1360.6,549.7 1361.2,535.6 1361.8,550.9 1362.4,535.9 1363.0,549.8 1363.6,535.2 1364.2,549.4 1364.8,535.4 1365.4,549.9 1365.9,535.5 1366.5,548.8 1367.1,535.0 1367.7,549.4 1368.3,534.3 1368.9,548.6 1369.5,532.5 1370.1,546.6 1370.7,532.2 1371.3,545.7 1371.9,531.9 1372.4,544.9 1373.0,530.7 1373.6,545.6 1374.2,531.2 1374.8,545.9 1375.4,530.9 1376.0,545.3 1376.6,531.9 1377.2,546.7 1377.8,531.3 1378.3,545.6 1378.9,531.5 1379.5,545.8 1380.1,529.5 1380.7,544.8 1381.3,529.7 1381.9,544.4 1382.5,529.5 1383.1,542.7 1383.7,528.9 1384.3,542.4 1384.8,528.5 1385.4,543.3 1386.0,528.3 1386.6,542.3 1387.2,527.8 1387.8,542.6 1388.4,526.8 1389.0,542.4 1389.6,527.4 1390.2,541.5 1390.7,526.6 1391.3,541.6 1391.9,526.3 1392.5,542.2 1393.1,527.0 1393.7,540.8 1394.3,526.6 1394.9,541.0 1395.5,526.7 1396.1,542.9 1396.7,527.7 1397.2,543.3 1397.8,528.1 1398.4,543.9 1399.0,529.1 1399.6,543.6 1400.2,526.6 1400.8,542.5 1401.4,528.6 1402.0,543.5 1402.6,528.2 1403.1,542.2 1403.7,527.4 1404.3,542.5 1404.9,527.8 1405.5,541.3 1406.1,527.4 1406.7,542.6 1407.3,527.2 1407.9,541.4 1408.5,527.1 1409.1,541.1 1409.6,526.2 1410.2,541.1 1410.8,526.6 1411.4,540.3 1412.0,524.4 1412.6,540.3 1413.2,524.4 1413.8,538.7 1414.4,524.1 1415.0,538.2 1415.6,524.7 1416.1,538.3 1416.7,523.7 1417.3,539.2 1417.9,524.0 1418.5,537.8 1419.1,523.6 1419.7,538.1 1420.3,523.6 1420.9,538.2 1421.5,523.7 1422.0,538.2 1422.6,523.2 1423.2,539.0 1423.8,523.5 1424.4,538.4 1425.0,523.0 1425.6,539.5 1426.2,523.8 1426.8,537.1 1427.4,523.0 1428.0,537.2 1428.6,523.1 1429.2,537.0 1429.8,522.2 1430.4,536.2 1431.0,520.6 1431.5,535.9 1432.1,519.9 1432.7,536.5 1433.3,520.8 1433.9,536.2 1434.5,521.8 1435.1,535.9 1435.7,521.0 1436.3,535.5 1436.9,520.2 1437.5,536.1 1438.1,520.8 1438.7,535.0 1439.3,519.3 1439.9,534.8 1440.5,519.6 1441.1,533.1 1441.7,518.4 1442.3,533.9 1442.9,518.5 1443.5,533.5 1444.0,518.3 1444.6,532.8 1445.2,516.8 1445.8,532.6 1446.4,518.2 1447.0,532.0 1447.6,516.7 1448.2,532.5 1448.8,516.8 1449.4,532.8 1450.0,518.1 1450.6,531.6 1451.2,517.7 1451.8,532.4 1452.4,518.2 1453.0,532.4 1453.6,517.1 1454.2,532.6 1454.8,518.8 1455.4,533.0 1456.0,518.8 1456.5,533.1 1457.1,519.7 1457.7,534.3 1458.3,518.6 1458.9,532.9 1459.5,518.8 1460.1,533.1 1460.7,517.2 1461.3,532.0 1461.9,517.9 1462.5,532.2 1463.1,517.6 1463.7,531.3 1464.3,516.3 1464.9,531.1 1465.5,516.4 1466.1,531.8 1466.7,516.6 1467.3,532.7 1467.9,517.6 1468.5,532.4 1469.0,517.6 1469.6,532.2 1470.2,516.9 1470.8,531.2 1471.4,515.2 1472.0,529.9 1472.6,515.6 1473.2,529.6 1473.8,515.2 1474.4,529.2 1475.0,514.8 1475.6,528.7 1476.2,513.6 1476.8,528.5 1477.4,514.3 1478.0,527.9 1478.6,513.8 1479.2,528.1 1479.8,512.7 1480.4,528.4 1481.0,514.2 1481.5,528.6 1482.1,513.3 1482.7,529.1 1483.3,514.2 1483.9,528.4 1484.5,513.7 1485.1,529.1 1485.7,514.2 1486.3,527.9 1486.9,514.2 1487.5,528.1 1488.1,514.3 1488.7,528.1 1489.3,513.1 1489.9,528.5 1490.5,513.0 1491.1,527.6 1491.7,512.6 1492.3,526.2 1492.9,512.1 1493.5,526.0 1494.0,510.2 1494.6,524.3 1495.2,509.5 1495.8,524.2 1496.4,510.0 1497.0,524.4 1497.6,510.5 1498.2,525.1 1498.8,510.5 1499.4,524.9 1500.0,511.3 1500.6,526.3 1501.2,510.5 1501.8,525.7 1502.4,510.2 1503.0,523.7 1503.5,508.7 1504.1,524.4 1504.7,508.2 1505.3,523.5 1505.9,508.6 1506.5,522.1 1507.1,507.7 1507.7,522.3 1508.3,507.1 1508.9,521.7 1509.4,506.8 1510.0,521.5 1510.6,507.4 1511.2,521.3 1511.8,506.7 1512.4,522.7 1513.0,508.1 1513.6,521.8 1514.2,508.4 1514.8,523.9 1515.4,508.8 1515.9,522.9 1516.5,509.6 1517.1,523.1 1517.7,507.3 1518.3,522.9 1518.9,507.0 1519.5,521.7 1520.1,506.5 1520.7,520.3 1521.3,505.4 1521.9,520.0 1522.4,504.6 1523.0,519.1 1523.6,504.5 1524.2,519.8 1524.8,504.0 1525.4,518.7 1526.0,504.7 1526.6,518.4 1527.2,503.7 1527.8,518.7 1528.3,504.9 1528.9,519.9 1529.5,505.1 1530.1,520.9 1530.7,505.8 1531.3,520.5 1531.9,506.8 1532.5,520.6 1533.1,506.1 1533.7,521.0 1534.3,504.8 1534.8,519.8 1535.4,504.9 1536.0,519.0 1536.6,504.6 1537.2,518.1 1537.8,502.6 1538.4,516.7 1539.0,503.2 1539.6,516.6 1540.2,501.8 1540.7,516.3 1541.3,500.9 1541.9,515.3 1542.5,501.7 1543.1,515.5 1543.7,500.7 1544.3,516.1 1544.9,500.4 1545.5,516.0 1546.1,500.5 1546.7,516.5 1547.2,499.9 1547.8,514.9 1548.4,500.8 1549.0,514.3 1549.6,499.1 1550.2,515.1 1550.8,500.0 1551.4,515.1 1552.0,499.7 1552.6,514.9 1553.1,499.8 1553.7,514.4 1554.3,499.8 1554.9,514.6 1555.5,499.0 1556.1,515.0 1556.7,499.6 1557.3,515.3 1557.9,500.0 1558.5,514.5 1559.1,500.8 1559.6,514.0 1560.2,499.3 1560.8,514.0 1561.4,498.5 1562.0,513.2 1562.6,497.3 1563.2,511.4 1563.8,496.7 1564.4,510.9 1565.0,497.8 1565.6,511.5 1566.1,498.1 1566.7,512.9 1567.3,497.4 1567.9,512.2 1568.5,498.2 1569.1,514.2 1569.7,499.0 1570.3,513.0 1570.9,498.6 1571.5,513.3 1572.0,497.0 1572.6,511.7 1573.2,496.5 1573.8,510.6 1574.4,496.4 1575.0,511.1 1575.6,496.2 1576.2,511.2 1576.8,494.9 1577.4,510.5 1578.0,496.0 1578.6,510.8 1579.2,496.2 1579.8,511.2 1580.4,497.5 1581.0,512.0 1581.5,496.9 1582.1,512.9 1582.7,497.4 1583.3,511.4 1583.9,495.9 1584.5,511.1 1585.1,495.6 1585.7,511.2 1586.3,495.7 1586.9,510.3 1587.5,495.0 1588.1,509.1 1588.7,494.8 1589.3,508.1 1589.9,493.2 1590.5,508.1 1591.1,493.3 1591.7,507.4 1592.3,492.0 1592.9,508.0 1593.5,493.0 1594.0,507.3 1594.6,491.7 1595.2,507.2 1595.8,491.3 1596.4,506.7 1597.0,491.3 1597.6,507.1 1598.2,491.8 1598.8,506.8 1599.4,491.6 1600.0,506.0 1600.6,491.5 1601.2,507.0 1601.8,492.7 1602.4,506.4 1603.0,492.1 1603.6,506.0 1604.2,490.9 1604.8,507.3 1605.4,490.5 1606.0,504.0 1606.5,489.7 1607.1,503.7 1607.7,488.9 1608.3,504.3 1608.9,489.3 1609.5,504.2 1610.1,490.2 1610.7,505.8 1611.3,490.9 1611.9,505.6 1612.5,490.8 1613.1,505.3 1613.7,489.7 1614.3,504.9 1614.9,489.2 1615.5,503.3 1616.1,488.1 1616.7,502.2 1617.3,487.6 1617.9,503.0 1618.5,487.1 1619.0,502.3 1619.6,487.1 1620.2,501.4 1620.8,487.7 1621.4,501.2 1622.0,486.4 1622.6,502.1 1623.2,487.2 1623.8,501.3 1624.4,487.9 1625.0,503.1 1625.6,488.1 1626.2,503.4 1626.8,488.2 1627.4,504.2 1628.0,490.1 1628.6,503.6 1629.2,489.5 1629.8,503.2 1630.4,488.1 1631.0,503.1 1631.5,488.1 1632.1,501.7 1632.7,486.5 1633.3,500.6 1633.9,485.6 1634.5,500.0 1635.1,486.0 1635.7,500.4 1636.3,486.2 1636.9,500.3 1637.5,486.5 1638.1,500.8 1638.7,487.0 1639.3,500.4 1639.9,485.4 1640.5,500.8 1641.1,486.6 1641.7,500.7 1642.3,485.7 1642.9,500.0 1643.5,485.6 1644.0,500.2 1644.6,485.6 1645.2,499.3 1645.8,485.0 1646.4,498.5 1647.0,484.4 1647.6,499.6 1648.2,483.7 1648.8,498.4 1649.4,483.4 1650.0,497.4 1650.6,483.2 1651.2,497.6 1651.8,482.4 1652.4,498.0 1653.0,482.5 1653.5,496.1 1654.1,481.4 1654.7,496.2 1655.3,481.9 1655.9,496.2 1656.5,481.2 1657.1,497.0 1657.7,483.0 1658.3,497.1 1658.9,481.7 1659.4,498.0 1660.0,483.5 1660.6,498.9 1661.2,483.2 1661.8,498.6 1662.4,483.0 1663.0,498.0 1663.6,482.7 1664.2,497.7 1664.8,482.4 1665.4,497.1 1665.9,483.2 1666.5,498.3 1667.1,482.9 1667.7,496.8 1668.3,482.3 1668.9,496.9 1669.5,480.2 1670.1,497.4 1670.7,481.8 1671.3,497.0 1671.9,480.7 1672.4,495.1 1673.0,480.9 1673.6,494.9 1674.2,478.7 1674.8,494.0 1675.4,477.7 1676.0,492.8 1676.6,478.0 1677.2,491.7 1677.8,477.0 1678.3,492.3 1678.9,476.5 1679.5,491.5 1680.1,476.7 1680.7,490.8 1681.3,475.9 1681.9,490.9 1682.5,476.2 1683.1,491.5 1683.7,477.2 1684.3,491.9 1684.8,476.6 1685.4,492.2 1686.0,477.5 1686.6,491.7 1687.2,477.4 1687.8,491.8 1688.4,477.0 1689.0,491.3 1689.6,476.7 1690.2,492.0 1690.7,477.3 1691.3,491.7 1691.9,477.7 1692.5,492.2 1693.1,477.1 1693.7,491.3 1694.3,477.2 1694.9,491.9 1695.5,476.7 1696.1,489.9 1696.7,475.7 1697.2,491.7 1697.8,473.5 1698.4,490.9 1699.0,474.0 1699.6,488.9 1700.2,475.1 1700.8,489.4 1701.4,473.9 1702.0,488.9 1702.6,474.0 1703.1,489.0 1703.7,473.5 1704.3,488.3 1704.9,474.5 1705.5,488.1 1706.1,473.8 1706.7,488.4 1707.3,474.1 1707.9,487.8 1708.5,472.6 1709.1,487.1 1709.6,473.0 1710.2,487.2 1710.8,471.8 1711.4,486.8 1712.0,470.8 1712.6,485.4 1713.2,470.6 1713.8,485.3 1714.4,470.6 1715.0,485.4 1715.6,470.0 1716.1,484.4 1716.7,470.9 1717.3,485.1 1717.9,469.8 1718.5,485.3 1719.1,470.6 1719.7,484.5 1720.3,469.8 1720.9,484.7 1721.5,470.4 1722.0,484.4 1722.6,468.6 1723.2,483.3 1723.8,468.3 1724.4,483.1 1725.0,468.5 1725.6,482.2 1726.2,467.7 1726.8,483.8 1727.4,467.1 1728.0,482.2 1728.6,467.9 1729.2,482.6 1729.8,467.0 1730.4,482.6 1731.0,466.7 1731.5,481.4 1732.1,466.4 1732.7,481.2 1733.3,466.8 1733.9,481.1 1734.5,466.1 1735.1,480.5 1735.7,465.5 1736.3,480.9 1736.9,465.2 1737.5,480.8 1738.1,465.4 1738.7,480.2 1739.3,465.7 1739.9,480.1 1740.5,465.4 1741.1,480.6 1741.7,465.5 1742.3,480.7 1742.9,465.4 1743.5,481.4 1744.0,467.1 1744.6,482.3 1745.2,467.4 1745.8,482.8 1746.4,467.2 1747.0,481.4 1747.6,467.4 1748.2,481.9 1748.8,466.1 1749.4,481.3 1750.0,465.3 1750.6,480.6 1751.2,464.8 1751.8,479.4 1752.4,464.3 1753.0,479.1 1753.6,465.1 1754.2,479.6 1754.8,465.4 1755.4,480.2 1756.0,464.5 1756.5,479.4 1757.1,464.5 1757.7,479.9 1758.3,464.4 1758.9,479.2 1759.5,464.4 1760.1,479.3 1760.7,464.0 1761.3,479.2 1761.9,464.8 1762.5,479.6 1763.1,463.8 1763.7,479.2 1764.3,462.2 1764.9,478.8 1765.5,464.8 1766.1,478.6 1766.7,463.0 1767.3,479.3 1767.9,463.9 1768.5,478.8 1769.0,463.2 1769.6,477.4 1770.2,463.1 1770.8,476.9 1771.4,461.4 1772.0,476.3 1772.6,460.7 1773.2,475.9 1773.8,460.8 1774.4,475.0 1775.0,461.1 1775.6,474.7 1776.2,461.1 1776.8,475.4 1777.4,460.8 1778.0,475.2 1778.6,460.2 1779.2,476.7 1779.8,460.7 1780.4,474.0 1781.0,460.0 1781.5,475.0 1782.1,459.1 1782.7,473.7 1783.3,459.8 1783.9,473.7 1784.5,458.5 1785.1,474.2 1785.7,459.4 1786.3,473.8 1786.9,459.5 1787.5,473.7 1788.1,458.4 1788.7,473.3 1789.3,458.0 1789.9,473.6 1790.5,459.0 1791.1,474.4 1791.7,458.8 1792.3,473.7 1792.9,459.3 1793.5,474.2 1794.0,460.5 1794.6,473.9 1795.2,460.0 1795.8,473.8 1796.4,460.4 1797.0,474.2 1797.6,459.6 1798.2,474.2 1798.8,459.2 1799.4,473.4 1800.0,458.9 1800.6,473.1 1801.2,458.7 1801.8,472.6 1802.4,456.9 1803.0,472.3 1803.6,456.3 1804.2,470.7 1804.8,456.5 1805.3,471.4 1805.9,455.9 1806.5,470.8 1807.1,455.0 1807.7,469.7 1808.3,455.4 1808.9,469.6 1809.5,455.8 1810.1,469.6 1810.7,455.8 1811.3,470.7 1811.9,454.8 1812.5,470.4 1813.1,455.6 1813.7,469.2 1814.3,454.9 1814.9,470.1 1815.4,454.8 1816.0,470.3 1816.6,454.6 1817.2,469.1 1817.8,454.2 1818.4,469.6 1819.0,453.8 1819.6,468.9 1820.2,454.8 1820.8,469.2 1821.4,455.0 1822.0,468.3 1822.6,454.5 1823.2,468.0 1823.8,454.2 1824.4,469.0 1825.0,453.7 1825.5,467.7 1826.1,453.6 1826.7,467.9 1827.3,453.1 1827.9,466.8 1828.5,452.7 1829.1,468.3 1829.7,452.6 1830.3,466.2 1830.9,450.7 1831.5,466.4 1832.1,450.4 1832.7,467.6 1833.3,450.3 1833.9,464.8 1834.5,449.8 1835.1,465.1 1835.7,449.9 1836.2,465.2 1836.8,448.8 1837.4,464.3 1838.0,449.8 1838.6,463.6 1839.2,448.6 1839.8,464.7 1840.4,449.2 1841.0,464.0 1841.6,449.9 1842.2,464.1 1842.8,449.0 1843.4,464.5 1844.0,448.5 1844.6,462.9 1845.2,448.3 1845.8,462.8 1846.3,448.6 1846.9,462.3 1847.5,448.2 1848.1,463.4 1848.7,447.3 1849.3,463.0 1849.9,447.5 1850.5,462.4 1851.1,448.7 1851.7,463.4 1852.3,448.6 1852.9,463.5 1853.5,449.0 1854.1,463.1 1854.7,448.3 1855.3,462.1 1855.9,447.6 1856.4,461.8 1857.0,446.3 1857.6,460.9 1858.2,444.7 1858.8,461.3 1859.4,445.7 1860.0,459.7 1860.6,445.7 1861.2,455.0 1861.2,452.9 1861.3,453.9 1861.3,451.7 1861.3,452.6 1861.3,450.6 1861.4,451.5 1861.4,449.5 1861.4,450.3 1861.5,448.2 1861.5,449.2 1861.5,447.1 1861.6,448.0 1861.6,445.9 1861.6,446.7 1861.6,444.6 1861.7,445.4 1861.7,443.4 1861.7,444.2 1861.8,442.1 1861.8,443.0 1861.8,441.0 1861.9,441.7 1861.9,439.7 1861.9,440.6 1861.9,438.5 1862.0,439.5 1862.0,437.3 1862.0,438.3 1862.1,436.3 1862.1,437.1 1862.1,435.1 1862.2,436.1 1862.2,433.7 1862.2,434.7 1862.2,432.6 1862.3,433.4 1862.3,431.3 1862.3,433.4 1862.4,432.5 1862.4,434.6 1862.4,433.7 1862.5,435.9 1862.5,435.0 1862.5,437.1 1862.6,436.3 1862.6,438.4 1862.6,437.5 1862.7,439.7 1862.7,438.7 1862.7,440.9 1862.8,439.9 1862.8,441.9 1862.8,441.1 1862.9,443.2 1862.9,442.3 1863.0,444.3 1863.0,443.5 1863.0,445.4 1863.1,444.6 1863.1,446.8 1863.1,445.7 1863.2,448.0 1863.2,447.1 1863.2,449.2 1863.3,448.4 1863.3,450.7 1863.3,449.7 1863.4,451.7 1863.4,451.0 1863.4,453.1 1863.5,452.2 1863.5,462.1 1864.1,446.9 1864.7,461.5 1865.3,447.3 1865.9,461.9 1866.5,445.7 1867.0,460.8 1867.6,446.4 1868.2,460.7 1868.8,443.9 1869.4,458.8 1870.0,443.3 1870.6,458.5 1871.2,443.6 1871.8,458.5 1872.3,444.0 1872.9,458.5 1873.5,443.7 1874.1,458.5 1874.7,443.9 1875.3,459.5 1875.9,445.5 1876.5,459.7 1877.1,445.0 1877.7,460.1 1878.2,444.0 1878.8,458.3 1879.4,443.0 1880.0,457.6 1880.6,442.7 1881.2,457.2 1881.8,441.3 1882.4,456.9 1883.0,441.7 1883.6,456.5 1884.2,441.8 1884.7,457.7 1885.3,443.1 1885.9,457.4 1886.5,443.2 1887.1,457.4 1887.7,443.0 1888.3,457.7 1888.9,442.9 1889.5,457.1 1890.0,442.9 1890.6,456.7 1891.2,442.4 1891.8,457.9 1892.4,442.0 1893.0,458.8"/>
<line x1="329.3" y1="742.8" x2="329.3" y2="1050.0" stroke="#f00" stroke-width="6.2" stroke-linecap="butt"/>
<line x1="336.2" y1="856.6" x2="336.2" y2="1026.0" stroke="#f00" stroke-width="6.2" stroke-linecap="butt"/>
<polyline stroke="#ff0000" stroke-width="5.8" points="336.0,1033.7 336.4,1026.0 336.7,1033.2 337.1,1025.0 337.4,1031.8 337.8,1024.1 338.1,1031.4 338.4,1023.5 338.8,1030.2 339.1,1021.9 339.5,1029.1 339.9,1021.1 340.2,1027.4 340.6,1019.6 340.9,1026.9 341.2,1018.8 341.6,1025.8 341.9,1017.9 342.3,1024.3 342.6,1016.1 343.0,1023.5 343.4,1015.6 343.7,1022.4 344.1,1014.3 344.5,1021.7 344.8,1013.6 345.2,1020.3 345.6,1012.8 345.9,1020.0 346.3,1011.9 346.7,1018.6 347.1,1011.1 347.4,1018.4 347.8,1010.0 348.2,1017.0 348.5,1009.5 348.9,1016.8 349.3,1008.1 349.6,1015.3 350.0,1007.8 350.3,1014.1 350.6,1006.5 350.9,1013.7 351.1,1005.1 351.4,1012.1 351.7,1004.4 352.0,1011.3 352.3,1003.2 352.6,1009.9 352.9,1001.9 353.1,1009.3 353.4,1000.6 353.7,1008.0 354.0,999.4 354.3,1007.1 354.6,998.3 354.9,1006.2 355.1,997.5 355.4,1004.5 355.7,996.7 356.0,1003.4 356.3,995.0 356.6,1002.8 356.9,994.6 357.1,1001.2 357.4,992.8 357.7,1000.3 358.0,992.4 358.3,999.2 358.6,991.0 358.9,998.1 359.2,990.4 359.5,997.0 359.8,989.1 360.1,996.0 360.4,988.1 360.7,994.9 361.0,986.6 361.3,993.7 361.6,985.8 361.9,992.6 362.2,984.4 362.5,992.1 362.8,983.7 363.1,990.7 363.4,982.4 363.7,990.0 364.0,981.3 364.3,989.0 364.6,980.0 364.9,987.4 365.2,979.6 365.5,986.8 366.0,977.8 366.5,985.9 366.9,977.6 367.4,984.3 367.9,976.7 368.4,983.7 368.8,976.1 369.3,984.0 369.8,974.7 370.3,982.5 370.7,974.6 371.2,981.4 371.7,973.2 372.2,981.1 372.6,972.6 373.1,980.4 373.6,972.5 374.1,979.4 374.6,971.7 375.0,979.0 375.5,970.3 376.0,978.2 376.5,970.2 376.9,977.7 377.4,969.4 377.9,976.5 378.4,968.5 378.8,976.3 379.3,967.7 379.8,975.1 380.3,966.6 380.8,974.8 381.2,965.5 381.7,974.0 382.2,965.9 382.7,973.4 383.1,964.7 383.6,973.1 384.1,963.9 384.6,972.2 385.0,963.9 385.5,970.8 386.0,962.7 386.5,970.8 386.9,961.6 387.4,969.5 387.9,960.9 388.4,968.7 388.9,960.4 389.3,968.1 389.8,959.7 390.3,967.1 390.8,959.1 391.2,966.4 391.7,958.1 392.2,965.9 392.7,957.6 393.1,965.2 393.6,956.5 394.1,964.1 394.6,955.9 395.0,963.4 395.5,954.9 396.0,962.5 396.4,954.0 396.8,961.6 397.2,953.0 397.7,961.1 398.1,952.5 398.5,960.5 398.9,951.0 399.3,959.0 399.8,950.7 400.2,958.1 400.6,949.6 401.0,956.9 401.4,949.0 401.8,956.5 402.2,948.1 402.7,955.9 403.1,946.8 403.5,955.0 403.9,946.1 404.3,954.1 404.8,944.8 405.2,952.9 405.6,944.0 406.0,951.6 406.4,943.0 406.8,951.2 407.2,942.3 407.7,950.1 408.1,941.5 408.5,949.0 408.9,940.2 409.3,948.8 409.8,940.0 410.2,947.5 410.6,939.1 411.0,946.8 411.4,937.9 411.8,946.2 412.2,937.6 412.7,944.8 413.1,936.5 413.5,944.5 413.9,935.1 414.3,943.5 414.8,934.4 415.2,942.2 415.6,933.5 416.0,942.1 416.4,932.9 416.8,940.9 417.2,931.6 417.7,940.3 418.1,930.7 418.5,939.1 418.9,930.5 419.3,939.2 419.8,929.1 420.2,937.5 420.6,928.7 421.0,936.6 421.4,927.6 421.8,935.9 422.2,926.6 422.7,935.2 423.1,926.1 423.5,933.6 423.9,924.8 424.3,933.2 424.8,924.7 425.2,932.0 425.6,923.0 426.0,931.4 426.4,922.7 426.9,930.2 427.4,921.6 427.8,930.2 428.2,920.8 428.7,928.8 429.1,919.8 429.6,928.1 430.1,918.7 430.5,927.5 430.9,918.2 431.4,927.1 431.9,917.3 432.3,926.0 432.8,917.0 433.2,925.0 433.6,916.1 434.1,924.4 434.6,914.7 435.0,922.9 435.4,913.8 435.9,922.6 436.4,913.1 436.8,921.9 437.2,912.1 437.7,921.0 438.2,911.6 438.6,920.5 439.1,910.9 439.5,919.6 439.9,909.8 440.4,918.0 440.9,909.0 441.3,918.0 441.8,908.5 442.2,917.1 442.7,907.8 443.1,916.0 443.6,906.7 444.0,915.3 444.4,905.7 444.9,914.5 445.4,905.3 445.8,913.9 446.2,904.1 446.7,913.1 447.2,904.2 447.6,911.8 448.1,903.0 448.5,911.6 449.0,901.7 449.4,910.1 449.9,901.4 450.3,909.8 450.8,900.4 451.2,909.1 451.7,900.3 452.1,908.3 452.6,898.6 453.0,907.8 453.5,898.6 453.9,906.6 454.4,897.3 454.8,906.4 455.2,897.2 455.7,905.6 456.2,895.9 456.6,904.5 457.0,895.1 457.4,903.6 457.8,894.7 458.2,903.0 458.6,893.8 459.0,901.9 459.5,892.8 459.9,901.2 460.3,891.2 460.7,900.3 461.1,890.8 461.5,898.5 461.9,889.3 462.3,897.7 462.7,887.5 463.1,897.4 463.5,887.5 463.9,895.6 464.4,886.9 464.8,895.5 465.2,885.3 465.6,894.0 466.0,885.4 466.4,893.6 466.8,883.7 467.2,893.1 467.6,883.4 468.0,892.0 468.4,882.1 468.8,890.8 469.3,881.9 469.7,890.2 470.1,880.3 470.5,889.5 470.9,878.5 471.3,887.8 471.7,878.4 472.2,887.8 472.6,877.4 473.1,886.4 473.5,876.8 474.0,886.5 474.4,876.7 474.9,885.1 475.3,875.2 475.8,884.3 476.2,874.5 476.7,883.1 477.1,873.7 477.6,882.2 478.0,872.7 478.5,882.1 478.9,872.5 479.4,881.4 479.8,872.0 480.3,880.3 480.7,871.0 481.2,879.0 481.6,869.9 482.1,878.7 482.6,869.2 483.0,877.9 483.5,868.5 483.9,877.8 484.4,867.2 484.8,876.0 485.3,866.9 485.7,875.4 486.2,866.2 486.6,874.8 487.1,864.8 487.5,873.9 488.0,864.4 488.4,872.6 488.9,863.4 489.3,871.7 489.8,862.5 490.2,871.4 490.7,861.4 491.1,869.9 491.6,860.1 492.1,869.6 492.5,860.2 493.0,868.4 493.4,859.6 493.9,868.2 494.3,858.1 494.8,867.6 495.2,858.0 495.7,866.4 496.1,857.4 496.6,865.9 497.0,856.5 497.5,865.1 497.9,855.2 498.4,864.0 498.8,854.9 499.3,863.5 499.7,854.1 500.2,862.2 500.6,852.6 501.1,861.3 501.5,852.0 502.0,860.9 502.5,851.3 503.0,860.1 503.5,850.2 504.0,859.4 504.5,848.9 504.9,857.8 505.4,849.1 505.9,857.9 506.4,848.4 506.9,856.7 507.4,847.2 507.9,856.4 508.4,846.8 508.9,856.5 509.4,846.4 509.8,855.4 510.3,846.0 510.8,854.2 511.3,845.1 511.8,853.5 512.3,844.6 512.8,853.1 513.3,843.5 513.8,852.9 514.3,843.0 514.7,851.7 515.2,840.9 515.7,850.9 516.2,841.6 516.7,850.5 517.2,840.4 517.7,849.7 518.2,839.5 518.7,849.2 519.2,838.4 519.7,848.0 520.1,838.3 520.6,847.5 521.1,837.4 521.6,846.9 522.1,837.6 522.6,846.4 523.1,836.1 523.6,845.6 524.1,835.3 524.6,844.8 525.0,834.6 525.5,844.2 526.0,834.1 526.5,843.1 527.0,833.2 527.5,843.5 528.0,833.3 528.5,842.0 529.0,832.4 529.5,841.3 529.9,832.5 530.4,841.2 530.9,831.6 531.4,840.8 531.9,831.0 532.4,839.3 532.9,829.8 533.4,838.5 533.9,829.4 534.4,838.1 534.9,828.4 535.4,837.7 535.9,828.0 536.5,836.3 537.0,826.8 537.5,836.0 538.0,826.3 538.5,835.5 539.0,826.3 539.5,835.2 540.0,825.2 540.5,834.4 541.0,824.5 541.5,833.3 542.0,823.5 542.5,832.5 543.0,823.1 543.5,832.1 544.1,821.5 544.6,832.4 545.1,821.8 545.6,831.0 546.1,820.6 546.6,831.3 547.1,820.8 547.6,829.8 548.1,819.8 548.6,829.5 549.1,819.8 549.6,829.2 550.1,819.3 550.6,828.1 551.1,818.4 551.7,827.8 552.2,817.7 552.7,826.3 553.2,816.7 553.7,825.7 554.2,815.6 554.7,825.5 555.2,815.0 555.7,824.9 556.2,815.0 556.7,823.5 557.2,813.3 557.7,822.6 558.2,812.5 558.7,822.7 559.3,812.1 559.8,821.4 560.3,811.9 560.8,820.9 561.3,810.9 561.8,820.7 562.3,810.5 562.8,819.9 563.3,809.4 563.8,819.1 564.4,809.0 564.9,818.9 565.4,809.0 565.9,818.0 566.4,807.9 567.0,818.1 567.5,807.5 568.0,817.4 568.5,806.9 569.0,816.7 569.6,806.5 570.1,816.0 570.6,805.6 571.1,814.8 571.7,804.6 572.2,814.7 572.7,804.3 573.2,813.2 573.7,803.6 574.3,812.5 574.8,803.4 575.3,812.0 575.8,801.7 576.3,811.5 576.9,801.4 577.4,812.1 577.9,800.8 578.4,810.2 578.9,799.6 579.5,809.3 580.0,799.6 580.5,808.7 581.0,798.4 581.5,807.5 582.1,797.5 582.6,807.4 583.1,797.3 583.6,806.8 584.1,797.1 584.7,806.2 585.2,795.8 585.7,805.9 586.2,795.3 586.8,804.5 587.3,795.0 587.8,804.8 588.3,794.6 588.8,804.1 589.4,794.3 589.9,803.5 590.4,793.4 590.9,803.5 591.4,793.4 592.0,802.6 592.5,791.6 593.0,801.4 593.5,790.8 594.1,801.0 594.6,790.0 595.2,799.5 595.7,789.9 596.2,798.9 596.8,789.6 597.3,799.0 597.9,789.0 598.4,799.5 598.9,789.3 599.5,798.8 600.0,789.0 600.6,798.6 601.1,788.2 601.6,797.6 602.2,786.9 602.7,796.5 603.3,786.3 603.8,795.6 604.3,785.8 604.9,795.0 605.4,783.8 606.0,794.7 606.5,784.5 607.0,794.1 607.6,785.0 608.1,794.6 608.7,783.8 609.2,794.1 609.7,784.1 610.3,793.9 610.8,783.7 611.4,792.7 611.9,781.4 612.4,791.6 613.0,781.4 613.5,791.5 614.1,780.5 614.6,789.9 615.1,780.2 615.7,789.7 616.2,779.3 616.8,789.8 617.3,779.7 617.8,789.4 618.4,779.4 618.9,789.1 619.5,778.8 620.0,788.9 620.5,778.3 621.1,788.0 621.6,777.6 622.2,787.4 622.7,777.5 623.2,786.5 623.8,776.3 624.3,785.6 624.8,775.2 625.4,785.6 625.9,775.4 626.5,784.1 627.0,774.3 627.5,784.2 628.1,773.9 628.6,783.1 629.2,772.7 629.7,782.3 630.2,771.5 630.8,781.7 631.3,771.9 631.8,781.3 632.4,771.2 632.9,780.4 633.5,770.2 634.0,779.5 634.6,769.7 635.2,779.8 635.8,769.2 636.4,779.5 637.0,769.2 637.5,779.6 638.1,769.1 638.7,779.9 639.3,769.0 639.9,779.3 640.5,768.4 641.1,778.0 641.7,768.6 642.3,778.3 642.9,767.7 643.4,778.0 644.0,767.6 644.6,777.5 645.2,768.0 645.8,776.8 646.4,766.8 647.0,776.5 647.6,767.0 648.2,775.8 648.8,766.4 649.3,775.7 649.9,765.3 650.5,775.0 651.1,765.2 651.7,775.3 652.3,764.7 652.9,774.4 653.5,764.2 654.1,774.3 654.7,764.7 655.2,773.7 655.8,763.4 656.4,773.6 657.0,764.1 657.6,773.0 658.2,763.4 658.8,774.0 659.4,762.9 660.0,772.9 660.6,763.1 661.1,772.7 661.7,763.3 662.3,773.5 662.9,763.7 663.5,773.4 664.1,763.0 664.7,773.4 665.3,762.8 665.9,773.2 666.5,762.8 667.0,772.8 667.6,762.7 668.2,772.8 668.8,762.5 669.4,771.5 670.0,762.1 670.6,771.3 671.2,761.6 671.8,772.1 672.4,760.9 673.0,770.8 673.6,760.6 674.2,769.6 674.8,759.5 675.4,769.8 676.0,758.9 676.6,768.9 677.2,759.1 677.8,768.4 678.4,758.3 679.0,769.2 679.6,759.1 680.2,769.5 680.8,759.9 681.4,769.2 682.0,759.7 682.6,770.1 683.2,759.8 683.8,769.5 684.4,759.1 685.0,769.5 685.6,759.6 686.2,769.4 686.8,759.0 687.4,768.6 688.0,758.9 688.6,769.0 689.2,758.4 689.8,768.9 690.4,758.3 691.0,768.8 691.6,758.0 692.2,768.5 692.8,758.2 693.4,768.0 694.0,758.5 694.6,769.0 695.2,756.9 695.8,767.3 696.4,756.8 697.0,766.3 697.6,756.3 698.2,765.7 698.8,755.6 699.4,765.6 700.0,755.8 700.6,765.4 701.2,755.1 701.8,766.0 702.4,756.1 702.9,765.8 703.5,755.6 704.1,766.1 704.7,755.9 705.3,764.9 705.9,755.1 706.5,764.1 707.1,754.5 707.6,763.5 708.2,753.7 708.8,763.2 709.4,752.0 710.0,762.6 710.6,752.9 711.2,763.0 711.8,752.4 712.4,762.5 712.9,752.5 713.5,762.8 714.1,752.7 714.7,763.3 715.3,753.4 715.9,762.1 716.5,751.6 717.1,762.5 717.6,751.6 718.2,761.9 718.8,751.1 719.4,761.3 720.0,751.0 720.6,760.2 721.2,750.0 721.8,760.8 722.4,749.9 722.9,759.5 723.5,749.7 724.1,759.8 724.7,749.7 725.3,759.7 725.9,749.7 726.5,759.5 727.1,750.2 727.6,760.0 728.2,750.0 728.8,760.0 729.4,750.1 730.0,760.1 730.6,750.1 731.2,760.3 731.8,749.9 732.4,759.2 732.9,748.9 733.5,758.3 734.1,747.9 734.7,757.2 735.3,746.6 735.9,756.4 736.5,746.6 737.1,756.8 737.6,746.5 738.2,756.3 738.8,746.6 739.4,757.2 740.0,747.2 740.6,756.9 741.2,746.8 741.8,757.1 742.4,746.8 743.0,757.3 743.6,747.1 744.2,756.7 744.8,747.0 745.3,757.1 745.9,746.5 746.5,757.2 747.1,747.2 747.7,756.3 748.3,746.3 748.9,756.1 749.5,745.9 750.1,755.9 750.7,744.9 751.3,755.1 751.9,743.9 752.5,754.2 753.1,744.6 753.7,754.1 754.3,743.4 754.9,753.4 755.4,743.9 756.0,753.9 756.6,743.2 757.2,753.8 757.8,743.3 758.4,753.9 759.0,744.0 759.6,754.4 760.2,743.8 760.8,753.9 761.4,744.1 762.0,754.7 762.6,745.2 763.2,754.6 763.8,744.2 764.4,754.4 765.0,743.9 765.5,753.7 766.1,743.0 766.7,752.9 767.3,742.7 767.9,752.0 768.5,742.1 769.1,753.1 769.7,742.5 770.3,752.8 770.9,742.4 771.5,752.5 772.1,742.8 772.7,753.2 773.3,742.6 773.9,752.5 774.5,741.8 775.0,751.8 775.6,740.9 776.2,751.6 776.8,740.4 777.4,750.1 778.0,739.5 778.6,749.5 779.2,739.9 779.8,749.4 780.4,739.2 781.0,750.2 781.6,739.5 782.2,749.9 782.8,739.6 783.4,749.4 784.0,740.1 784.6,750.4 785.1,739.2 785.7,749.8 786.3,739.6 786.9,749.7 787.5,739.0 788.1,749.3 788.7,739.0 789.3,748.7 789.9,739.1 790.5,749.2 791.1,738.6 791.7,749.0 792.3,739.5 792.9,749.9 793.5,739.1 794.1,749.3 794.7,739.7 795.2,749.4 795.8,738.6 796.4,748.7 797.0,738.2 797.6,748.2 798.2,737.2 798.8,747.3 799.4,737.2 800.0,746.5 800.6,736.5 801.2,747.0 801.8,737.8 802.4,747.6 803.0,738.1 803.6,747.6 804.2,738.8 804.8,749.1 805.4,738.9 806.0,747.8 806.6,737.8 807.2,747.4 807.8,737.0 808.4,746.1 809.0,735.7 809.6,746.3 810.1,734.6 810.7,744.6 811.3,735.3 811.9,745.6 812.5,734.9 813.1,746.0 813.7,735.8 814.3,746.4 814.9,736.2 815.5,746.0 816.1,736.6 816.7,746.4 817.3,735.0 817.9,745.2 818.5,734.6 819.1,745.1 819.7,734.4 820.3,744.1 820.9,733.2 821.5,743.7 822.1,732.6 822.7,743.4 823.3,732.5 823.9,743.7 824.5,733.3 825.1,743.1 825.7,733.3 826.3,742.8 826.9,732.6 827.5,743.0 828.1,732.9 828.7,743.6 829.3,733.5 829.9,744.3 830.4,733.2 831.0,744.0 831.6,734.3 832.2,744.8 832.8,733.4 833.4,743.8 834.0,733.4 834.6,743.3 835.2,732.3 835.8,741.8 836.4,730.5 837.0,741.9 837.6,730.7 838.2,741.0 838.8,730.7 839.4,741.2 840.0,730.7 840.6,740.6 841.2,731.0 841.8,740.9 842.4,730.5 843.0,740.8 843.6,730.4 844.2,740.8 844.8,731.1 845.5,741.4 846.1,731.5 846.7,741.9 847.3,730.9 847.9,742.2 848.5,731.3 849.1,741.8 849.7,731.0 850.3,741.2 850.9,730.5 851.5,741.5 852.1,730.7 852.7,740.5 853.3,729.9 853.9,740.2 854.5,729.1 855.2,740.3 855.8,729.5 856.4,739.9 857.0,729.7 857.6,738.8 858.2,729.1 858.8,739.1 859.4,728.1 860.0,739.4 860.6,729.5 861.2,739.0 861.8,729.5 862.4,739.8 863.0,730.3 863.6,740.2 864.2,730.4 864.8,741.7 865.5,730.6 866.1,740.2 866.7,729.5 867.3,740.3 867.9,728.9 868.5,738.8 869.1,728.0 869.7,738.2 870.3,727.3 870.9,737.4 871.5,727.1 872.1,738.0 872.7,727.6 873.3,736.9 873.9,727.3 874.5,736.9 875.2,726.4 875.8,736.7 876.4,727.0 877.0,737.1 877.6,727.0 878.2,737.7 878.8,726.5 879.4,738.8 880.0,727.3 880.6,737.8 881.2,726.8 881.8,737.2 882.4,726.7 883.0,737.2 883.6,727.5 884.2,737.6 884.8,727.3 885.4,737.3 886.0,727.7 886.6,737.9 887.2,727.6 887.8,737.6 888.4,726.9 889.0,737.8 889.6,727.5 890.2,738.0 890.8,726.9 891.4,738.1 892.0,727.4 892.6,736.8 893.2,726.1 893.8,737.2 894.4,726.2 895.0,735.6 895.6,725.0 896.2,735.7 896.8,724.4 897.4,734.9 898.0,724.7 898.6,734.8 899.2,724.0 899.8,734.4 900.4,724.4 901.0,735.0 901.6,725.0 902.2,734.5 902.8,724.3 903.4,734.7 904.0,723.9 904.6,734.8 905.2,723.5 905.8,733.7 906.4,723.5 907.0,734.1 907.6,722.9 908.2,733.1 908.8,722.7 909.4,733.1 910.0,723.6 910.6,733.7 911.2,723.2 911.8,733.8 912.4,722.5 913.0,734.2 913.6,723.5 914.2,734.3 914.8,723.1 915.4,734.1 916.0,724.1 916.6,735.3 917.2,723.7 917.8,734.6 918.4,724.2 919.0,734.6 919.6,723.7 920.2,734.0 920.8,724.0 921.4,734.3 922.0,723.9 922.6,734.4 923.2,724.0 923.8,733.4 924.4,723.6 925.0,733.6 925.6,723.7 926.2,734.1 926.8,723.3 927.4,733.4 928.0,722.8 928.6,733.7 929.2,723.3 929.8,733.4 930.4,726.6 930.4,727.1 930.4,725.4 930.4,725.9 930.5,724.2 930.5,724.7 930.5,722.9 930.5,723.4 930.5,721.6 930.5,722.1 930.6,720.5 930.6,720.9 930.6,719.3 930.6,719.8 930.6,718.0 930.6,718.5 930.7,716.9 930.7,717.4 930.7,715.7 930.7,716.1 930.7,714.3 930.7,714.9 930.8,713.3 930.8,713.7 930.8,712.0 930.8,712.5 930.8,710.8 930.8,711.2 930.8,709.5 930.9,710.0 930.9,708.3 930.9,708.7 930.9,707.1 930.9,707.5 930.9,705.8 931.0,706.3 931.0,704.6 931.0,705.0 931.0,703.3 931.0,703.8 931.0,702.2 931.1,702.6 931.1,700.9 931.1,701.3 931.1,699.7 931.1,700.2 931.1,698.5 931.2,699.0 931.2,697.3 931.2,697.8 931.2,696.1 931.2,696.7 931.2,694.9 931.2,695.4 931.3,693.8 931.3,694.3 931.3,692.5 931.3,693.0 931.3,691.2 931.3,691.8 931.4,690.0 931.4,690.5 931.4,688.8 931.4,689.2 931.4,687.6 931.4,688.0 931.5,686.3 931.5,686.8 931.5,685.2 931.5,685.6 931.5,683.9 931.5,684.3 931.6,682.7 931.6,683.1 931.6,681.4 931.6,681.9 931.6,681.5 931.6,683.2 931.6,682.7 931.7,684.4 931.7,684.0 931.7,685.6 931.7,685.3 931.7,686.9 931.8,686.5 931.8,688.1 931.8,687.7 931.8,689.3 931.8,688.9 931.8,690.6 931.9,690.2 931.9,691.8 931.9,691.2 931.9,692.9 931.9,692.5 931.9,694.1 932.0,693.6 932.0,695.3 932.0,694.7 932.0,696.4 932.0,696.0 932.0,697.6 932.0,697.3 932.1,698.9 932.1,698.5 932.1,700.1 932.1,699.8 932.1,701.4 932.1,700.9 932.2,702.6 932.2,702.1 932.2,703.8 932.2,703.3 932.2,704.9 932.2,704.5 932.3,706.2 932.3,705.7 932.3,707.3 932.3,707.0 932.3,708.6 932.4,708.1 932.4,709.8 932.4,709.3 932.4,711.1 932.4,710.6 932.4,712.3 932.4,711.8 932.5,713.4 932.5,713.0 932.5,714.6 932.5,714.1 932.5,715.8 932.5,715.4 932.6,717.0 932.6,716.5 932.6,718.2 932.6,717.8 932.6,719.4 932.6,719.1 932.7,720.7 932.7,720.3 932.7,722.0 932.7,721.6 932.7,723.3 932.8,722.8 932.8,724.5 932.8,723.9 932.8,732.2 933.4,719.6 934.0,729.8 934.6,719.6 935.2,729.9 935.8,718.8 936.4,728.7 937.0,718.0 937.6,729.2 938.2,718.5 938.8,729.1 939.4,718.3 940.0,729.9 940.6,719.0 941.2,729.3 941.8,718.9 942.4,729.7 943.0,718.9 943.6,729.7 944.2,719.4 944.8,729.2 945.4,718.4 946.0,729.7 946.6,718.8 947.2,729.6 947.8,718.0 948.4,728.9 949.0,717.9 949.6,728.7 950.2,717.9 950.9,728.1 951.5,717.2 952.1,728.4 952.7,718.1 953.3,728.9 953.9,718.2 954.5,729.4 955.1,718.7 955.7,729.7 956.3,718.9 956.9,730.0 957.5,719.8 958.1,730.6 958.7,720.0 959.3,729.8 959.9,719.0 960.5,729.4 961.1,718.9 961.7,729.2 962.3,718.0 962.9,729.3 963.5,718.1 964.1,729.3 964.8,718.0 965.4,728.4 966.0,718.0 966.6,729.2 967.2,717.7 967.8,728.4 968.4,718.7 969.0,729.3 969.6,718.0 970.2,729.1 970.8,718.3 971.4,729.0 972.0,717.8 972.7,729.0 973.3,717.8 973.9,728.6 974.5,718.1 975.1,728.9 975.7,718.0 976.3,729.5 976.9,718.1 977.5,729.3 978.1,718.6 978.7,729.3 979.3,718.0 979.9,728.8 980.6,718.7 981.2,729.6 981.8,718.2 982.4,729.6 983.0,717.9 983.6,728.5 984.2,718.2 984.8,728.6 985.4,718.4 986.0,729.8 986.6,719.2 987.2,730.1 987.8,719.8 988.5,730.6 989.1,719.7 989.7,730.4 990.3,720.2 990.9,731.1 991.5,720.5 992.1,731.0 992.7,719.5 993.3,730.7 993.9,719.7 994.5,730.8 995.1,719.1 995.7,731.0 996.4,720.2 997.0,731.1 997.6,720.8 998.2,731.7 998.8,721.1 999.4,731.9 1000.0,721.4 1000.6,731.5 1001.2,720.4 1001.8,731.7 1002.4,721.0 1003.0,731.7 1003.6,720.9 1004.2,732.0 1004.8,720.8 1005.4,731.7 1006.0,720.9 1006.6,731.7 1007.2,721.3 1007.8,731.7 1008.4,721.5 1009.0,731.9 1009.6,721.2 1010.2,731.8 1010.8,721.3 1011.4,731.2 1012.0,720.5 1012.6,732.0 1013.2,720.5 1013.8,731.2 1014.4,718.4 1015.0,731.2 1015.6,719.1 1016.2,729.6 1016.8,718.6 1017.4,728.6 1018.0,718.4 1018.6,728.6 1019.2,718.7 1019.8,728.9 1020.4,718.3 1021.0,729.6 1021.6,717.4 1022.2,729.8 1022.8,718.1 1023.4,729.0 1024.0,718.8 1024.6,729.0 1025.2,718.7 1025.8,729.4 1026.4,717.7 1027.0,728.9 1027.6,718.1 1028.2,728.9 1028.8,718.3 1029.4,728.5 1030.0,718.0 1030.6,729.6 1031.2,718.3 1031.8,729.7 1032.4,718.4 1033.0,729.3 1033.6,719.3 1034.2,730.2 1034.8,719.1 1035.4,729.6 1036.0,718.3 1036.6,730.2 1037.2,718.3 1037.8,729.1 1038.4,718.4 1039.0,729.9 1039.6,718.8 1040.2,729.6 1040.8,719.3 1041.4,730.3 1042.0,719.2 1042.6,729.5 1043.2,719.5 1043.8,730.6 1044.4,718.9 1045.0,730.4 1045.6,718.5 1046.2,730.2 1046.8,718.6 1047.4,729.3 1048.0,718.6 1048.6,730.1 1049.2,718.7 1049.8,730.2 1050.4,719.0 1051.0,728.6 1051.6,717.4 1052.2,730.2 1052.8,718.1 1053.4,728.2 1054.0,715.8 1054.6,728.5 1055.2,716.9 1055.8,727.4 1056.4,716.5 1057.0,727.7 1057.6,717.1 1058.2,727.6 1058.8,717.6 1059.4,727.9 1060.0,717.2 1060.6,728.8 1061.2,717.1 1061.8,728.4 1062.4,716.9 1063.0,728.4 1063.6,716.8 1064.2,727.9 1064.8,717.0 1065.4,728.8 1066.0,717.8 1066.6,728.5 1067.2,717.0 1067.8,728.0 1068.4,716.3 1069.1,726.8 1069.7,715.3 1070.3,726.9 1070.9,715.0 1071.5,726.2 1072.1,713.5 1072.7,725.6 1073.3,714.7 1073.9,726.6 1074.5,714.6 1075.1,725.7 1075.7,715.0 1076.3,725.6 1076.9,713.6 1077.5,726.0 1078.1,715.2 1078.7,726.4 1079.3,715.6 1079.9,725.8 1080.5,715.5 1081.1,726.1 1081.7,715.3 1082.3,727.5 1082.9,715.4 1083.5,726.9 1084.1,715.6 1084.7,725.7 1085.3,714.7 1085.9,725.9 1086.6,714.6 1087.2,725.6 1087.8,714.0 1088.4,725.2 1089.0,714.6 1089.6,726.8 1090.2,715.3 1090.8,726.0 1091.4,715.4 1092.0,726.5 1092.6,715.8 1093.2,727.6 1093.8,716.5 1094.4,726.6 1095.0,715.7 1095.6,726.3 1096.2,714.9 1096.7,725.9 1097.3,714.5 1097.9,724.2 1098.5,713.3 1099.0,723.6 1099.6,712.7 1100.2,723.9 1100.8,711.5 1101.3,722.2 1101.9,711.0 1102.5,722.4 1103.1,711.0 1103.7,722.2 1104.2,709.8 1104.8,721.5 1105.4,709.6 1106.0,721.1 1106.5,709.0 1107.1,720.7 1107.7,709.1 1108.3,720.3 1108.8,709.2 1109.4,720.2 1110.0,708.5 1110.6,719.8 1111.1,708.4 1111.7,718.9 1112.3,707.4 1112.9,718.5 1113.4,707.7 1114.0,718.1 1114.6,706.4 1115.1,718.5 1115.7,706.2 1116.3,717.7 1116.9,706.0 1117.4,717.1 1118.0,705.1 1118.6,718.0 1119.1,705.3 1119.7,716.1 1120.3,705.7 1120.9,716.9 1121.4,705.6 1122.0,715.7 1122.6,705.3 1123.1,717.1 1123.7,705.9 1124.3,718.2 1124.8,706.0 1125.4,718.5 1126.0,706.6 1126.5,718.0 1127.1,707.3 1127.7,718.8 1128.2,707.6 1128.8,719.5 1129.3,708.2 1129.9,720.0 1130.5,708.7 1131.0,719.8 1131.6,708.5 1132.2,719.7 1132.7,708.8 1133.3,719.9 1133.9,708.8 1134.4,721.3 1135.0,710.2 1135.6,721.2 1136.2,710.2 1136.8,721.1 1137.4,711.1 1138.0,721.6 1138.7,711.5 1139.3,722.8 1139.9,711.2 1140.5,722.3 1141.1,710.7 1141.7,722.9 1142.3,711.3 1142.9,721.7 1143.5,710.5 1144.1,721.5 1144.8,710.8 1145.4,721.3 1146.0,710.9 1146.6,722.3 1147.2,711.5 1147.8,723.2 1148.4,712.2 1149.0,724.6 1149.6,713.5 1150.2,724.8 1150.9,714.1 1151.5,725.1 1152.1,714.5 1152.7,725.7 1153.3,714.6 1153.9,725.9 1154.5,714.1 1155.1,725.5 1155.7,714.4 1156.3,725.6 1157.0,714.7 1157.6,725.5 1158.2,715.1 1158.8,725.6 1159.4,714.7 1160.0,725.7 1160.6,714.4 1161.2,725.3 1161.8,713.8 1162.4,725.2 1163.0,714.2 1163.6,724.7 1164.2,713.9 1164.8,725.6 1165.5,713.1 1166.1,724.5 1166.7,711.9 1167.3,724.8 1167.9,713.3 1168.5,724.6 1169.1,713.7 1169.7,724.4 1170.3,713.8 1170.9,724.8 1171.5,713.4 1172.1,724.4 1172.7,713.0 1173.3,725.3 1173.9,713.1 1174.5,724.9 1175.2,714.0 1175.8,725.9 1176.4,713.8 1177.0,725.8 1177.6,714.5 1178.2,724.9 1178.8,714.1 1179.4,724.9 1180.0,712.9 1180.6,725.3 1181.2,712.8 1181.8,724.1 1182.4,712.9 1183.0,723.4 1183.6,711.6 1184.2,723.5 1184.8,712.7 1185.5,724.0 1186.1,712.7 1186.7,724.5 1187.3,712.8 1187.9,725.1 1188.5,713.3 1189.1,724.8 1189.7,713.6 1190.3,726.5 1190.9,712.7 1191.5,724.8 1192.1,714.2 1192.7,725.6 1193.3,713.9 1193.9,726.2 1194.5,714.3 1195.2,726.6 1195.8,714.5 1196.4,725.9 1197.0,713.2 1197.6,725.6 1198.2,713.7 1198.8,724.2 1199.4,713.3 1200.0,724.4 1200.6,713.4 1201.2,724.3 1201.8,713.4 1202.4,724.4 1203.0,712.5 1203.6,723.7 1204.2,712.8 1204.8,724.5 1205.5,712.9 1206.1,724.8 1206.7,713.3 1207.3,724.9 1207.9,713.7 1208.5,725.2 1209.1,714.5 1209.7,726.4 1210.3,714.9 1210.9,726.2 1211.5,714.6 1212.1,725.9 1212.7,714.5 1213.3,725.8 1213.9,713.3 1214.5,724.7 1215.2,713.1 1215.8,724.4 1216.4,713.4 1217.0,724.5 1217.6,712.9 1218.2,724.5 1218.8,713.4 1219.4,725.2 1220.0,713.1 1220.6,725.0 1221.2,713.5 1221.8,724.7 1222.4,713.2 1223.0,726.2 1223.6,713.1 1224.2,725.4 1224.8,713.6 1225.5,726.2 1226.1,714.2 1226.7,726.6 1227.3,714.3 1227.9,726.5 1228.5,713.9 1229.1,725.3 1229.7,713.9 1230.3,724.7 1230.9,713.6 1231.5,724.6 1232.1,712.7 1232.7,724.5 1233.3,712.5 1233.9,724.8 1234.5,712.2 1235.2,723.6 1235.8,711.8 1236.4,723.7 1237.0,711.5 1237.6,723.2 1238.2,710.9 1238.8,722.8 1239.4,712.5 1240.0,724.1 1240.6,712.4 1241.2,724.5 1241.8,713.4 1242.4,724.5 1243.0,713.6 1243.6,725.3 1244.2,713.4 1244.8,725.3 1245.4,712.3 1246.0,724.7 1246.6,712.4 1247.2,723.7 1247.8,712.2 1248.4,722.6 1249.0,711.0 1249.6,722.7 1250.2,710.5 1250.8,722.6 1251.4,710.3 1252.0,721.3 1252.6,710.2 1253.2,721.1 1253.8,708.9 1254.4,720.7 1255.0,709.8 1255.6,721.4 1256.2,709.5 1256.8,721.6 1257.4,711.1 1258.0,722.9 1258.6,711.6 1259.2,723.4 1259.8,712.1 1260.4,723.3 1261.0,711.5 1261.6,721.8 1262.2,710.5 1262.8,721.4 1263.4,709.4 1264.0,720.7 1264.6,709.4 1265.2,720.4 1265.8,708.9 1266.4,720.2 1267.0,709.2 1267.6,720.4 1268.2,709.1 1268.8,721.5 1269.4,708.6 1270.0,721.4 1270.5,709.0 1271.1,720.2 1271.6,708.9 1272.1,721.5 1272.6,707.6 1273.2,720.7 1273.7,708.6 1274.2,720.8 1274.8,707.0 1275.3,721.9 1275.8,707.6 1276.4,719.7 1276.9,707.0 1277.4,718.4 1277.9,707.1 1278.5,717.6 1279.0,706.3 1279.5,717.6 1280.1,705.9 1280.6,718.9 1281.1,706.0 1281.6,718.0 1282.2,706.6 1282.7,718.7 1283.2,706.7 1283.8,718.2 1284.3,706.8 1284.8,718.0 1285.4,707.1 1285.9,719.6 1286.4,708.0 1286.9,719.7 1287.5,709.2 1288.0,721.0 1288.6,709.3 1289.2,721.1 1289.8,709.4 1290.4,721.8 1291.0,709.7 1291.6,721.9 1292.2,710.2 1292.8,721.7 1293.4,710.4 1294.0,721.5 1294.6,710.4 1295.2,722.7 1295.8,710.0 1296.5,721.6 1297.1,710.8 1297.7,722.6 1298.3,710.4 1298.9,722.5 1299.5,710.0 1300.1,722.1 1300.7,710.7 1301.3,722.1 1301.9,710.3 1302.5,722.9 1303.1,710.6 1303.7,721.8 1304.3,710.1 1304.9,722.5 1305.5,710.1 1306.1,721.7 1306.7,709.8 1307.3,722.0 1307.9,710.9 1308.5,722.4 1309.1,711.5 1309.7,722.7 1310.3,711.2 1310.9,724.2 1311.5,711.2 1312.2,724.0 1312.8,711.9 1313.4,723.8 1314.0,711.6 1314.6,722.9 1315.2,710.2 1315.8,722.2 1316.4,709.9 1317.0,722.7 1317.6,710.4 1318.2,721.8 1318.8,709.9 1319.4,722.2 1320.0,711.3 1320.6,722.2 1321.2,710.7 1321.8,722.6 1322.4,709.7 1323.0,722.2 1323.6,711.0 1324.2,723.0 1324.7,710.4 1325.3,722.0 1325.9,710.1 1326.5,722.5 1327.1,710.0 1327.7,722.8 1328.3,709.9 1328.9,722.2 1329.5,710.7 1330.1,723.5 1330.7,711.3 1331.3,723.6 1331.9,710.6 1332.5,723.3 1333.1,711.0 1333.6,722.9 1334.2,710.3 1334.8,722.3 1335.4,709.7 1336.0,721.8 1336.6,708.0 1337.2,719.7 1337.8,707.0 1338.4,718.9 1339.0,706.7 1339.6,720.1 1340.2,708.2 1340.8,720.3 1341.4,708.2 1341.9,720.0 1342.5,708.1 1343.1,720.2 1343.7,709.1 1344.3,720.1 1344.9,708.8 1345.5,719.4 1346.1,707.3 1346.7,718.9 1347.3,706.1 1347.9,718.1 1348.5,706.5 1349.1,718.2 1349.7,704.3 1350.3,717.5 1350.8,705.2 1351.4,718.4 1352.0,706.2 1352.6,718.6 1353.2,705.5 1353.8,718.2 1354.4,706.0 1355.0,718.1 1355.6,706.1 1356.2,719.9 1356.8,705.8 1357.4,718.7 1358.0,705.6 1358.7,718.7 1359.3,705.4 1359.9,718.7 1360.5,705.9 1361.1,718.2 1361.7,706.0 1362.3,718.6 1362.9,706.2 1363.5,718.6 1364.1,706.8 1364.8,719.4 1365.4,707.0 1366.0,719.2 1366.6,707.5 1367.2,720.3 1367.8,707.9 1368.4,720.2 1369.0,707.9 1369.6,720.5 1370.2,708.2 1370.9,720.5 1371.5,707.1 1372.1,720.4 1372.7,708.7 1373.3,720.8 1373.9,708.9 1374.5,720.3 1375.1,707.6 1375.7,720.9 1376.3,708.1 1377.0,719.7 1377.6,707.5 1378.2,720.6 1378.8,707.2 1379.4,719.9 1380.0,707.2 1380.6,720.2 1381.2,706.8 1381.8,719.7 1382.4,707.6 1383.0,720.2 1383.6,708.2 1384.2,721.3 1384.8,707.1 1385.5,720.4 1386.1,707.6 1386.7,720.9 1387.3,708.0 1387.9,720.3 1388.5,708.7 1389.1,720.4 1389.7,707.6 1390.3,721.2 1390.9,708.9 1391.5,720.6 1392.1,707.8 1392.7,722.0 1393.3,708.4 1393.9,722.1 1394.5,709.8 1395.2,723.1 1395.8,710.0 1396.4,722.7 1397.0,711.8 1397.6,723.7 1398.2,710.6 1398.8,725.0 1399.4,712.6 1400.0,724.2 1400.6,711.0 1401.2,723.6 1401.8,710.8 1402.4,723.9 1403.0,711.3 1403.6,722.7 1404.2,710.3 1404.8,722.7 1405.4,710.2 1406.0,723.0 1406.6,710.0 1407.2,723.5 1407.8,710.3 1408.4,722.6 1409.0,710.2 1409.6,723.9 1410.2,709.2 1410.8,722.6 1411.4,709.7 1412.0,721.2 1412.6,708.8 1413.1,720.3 1413.7,707.8 1414.3,720.6 1414.9,707.3 1415.4,718.9 1416.0,706.0 1416.6,717.8 1417.1,704.6 1417.7,717.6 1418.3,704.7 1418.9,715.6 1419.4,703.2 1420.0,715.8 1420.6,703.3 1421.1,716.2 1421.7,704.2 1422.3,717.3 1422.9,705.8 1423.4,719.1 1424.0,706.2 1424.6,720.1 1425.1,707.4 1425.7,721.6 1426.3,707.7 1426.9,720.9 1427.4,708.4 1428.0,721.5 1428.6,709.2 1429.2,721.0 1429.8,709.7 1430.4,722.6 1431.0,709.5 1431.6,721.8 1432.2,709.5 1432.8,723.1 1433.4,710.6 1434.0,722.6 1434.6,709.6 1435.2,723.4 1435.8,711.0 1436.4,723.5 1437.0,711.2 1437.6,723.1 1438.2,711.2 1438.8,723.2 1439.4,711.1 1440.0,723.7 1440.6,711.0 1441.2,723.4 1441.8,710.3 1442.4,724.4 1442.9,711.1 1443.5,724.1 1444.1,711.9 1444.7,724.6 1445.3,712.1 1445.9,724.4 1446.5,712.2 1447.1,724.3 1447.6,712.2 1448.2,725.0 1448.8,711.9 1449.4,725.0 1450.0,713.4 1450.6,725.2 1451.2,712.9 1451.8,726.1 1452.4,713.5 1452.9,726.8 1453.5,714.4 1454.1,727.0 1454.7,715.1 1455.3,728.7 1455.9,715.8 1456.5,729.2 1457.1,716.0 1457.6,728.7 1458.2,715.2 1458.8,728.2 1459.4,715.8 1460.0,728.2 1460.6,715.1 1461.2,727.8 1461.8,715.3 1462.4,727.0 1463.0,714.6 1463.6,728.7 1464.2,715.9 1464.8,728.6 1465.5,715.4 1466.1,728.5 1466.7,715.6 1467.3,729.5 1467.9,715.9 1468.5,728.8 1469.1,716.3 1469.7,728.6 1470.3,716.3 1470.9,729.2 1471.5,716.2 1472.1,729.2 1472.7,715.8 1473.3,729.1 1473.9,716.1 1474.5,729.3 1475.2,717.6 1475.8,729.8 1476.4,717.7 1477.0,730.7 1477.6,717.8 1478.2,731.0 1478.8,717.8 1479.4,731.0 1480.0,718.6 1480.6,731.1 1481.2,717.3 1481.8,731.1 1482.4,716.9 1483.0,730.6 1483.6,718.3 1484.2,730.4 1484.8,717.2 1485.5,731.8 1486.1,718.3 1486.7,731.5 1487.3,719.0 1487.9,732.2 1488.5,718.1 1489.1,732.3 1489.7,719.2 1490.3,731.7 1490.9,718.3 1491.5,732.0 1492.1,718.2 1492.7,731.9 1493.3,717.9 1493.9,732.2 1494.5,718.2 1495.2,731.1 1495.8,718.4 1496.4,730.5 1497.0,718.4 1497.6,730.8 1498.2,718.0 1498.8,730.0 1499.4,717.5 1500.0,729.0 1500.6,717.0 1501.2,729.7 1501.8,717.0 1502.4,729.7 1503.0,716.9 1503.6,730.8 1504.2,717.3 1504.8,729.7 1505.5,716.1 1506.1,729.8 1506.7,716.3 1507.3,730.7 1507.9,716.7 1508.5,730.0 1509.1,716.9 1509.7,731.8 1510.3,717.7 1510.9,730.8 1511.5,718.0 1512.1,731.3 1512.7,718.3 1513.3,731.4 1513.9,717.2 1514.5,731.2 1515.2,717.9 1515.8,730.3 1516.4,717.4 1517.0,730.6 1517.6,717.7 1518.2,730.0 1518.8,717.6 1519.4,731.5 1520.0,717.6 1520.6,731.5 1521.2,718.3 1521.8,731.1 1522.4,719.0 1523.0,732.6 1523.6,718.1 1524.2,731.9 1524.8,719.8 1525.5,733.2 1526.1,720.4 1526.7,733.3 1527.3,719.9 1527.9,734.2 1528.5,721.3 1529.1,733.6 1529.7,720.6 1530.3,734.0 1530.9,721.9 1531.5,734.6 1532.1,722.0 1532.7,735.5 1533.3,722.7 1533.9,734.9 1534.5,721.5 1535.2,734.9 1535.8,721.2 1536.4,735.5 1537.0,721.4 1537.6,734.5 1538.2,722.2 1538.8,734.6 1539.4,721.2 1540.0,735.9 1540.6,722.2 1541.2,735.7 1541.8,723.2 1542.4,735.8 1542.9,724.1 1543.5,736.6 1544.1,723.2 1544.7,736.4 1545.3,723.6 1545.9,736.8 1546.5,723.2 1547.1,735.4 1547.6,723.4 1548.2,735.3 1548.8,722.7 1549.4,736.2 1550.0,723.5 1550.6,736.6 1551.2,724.2 1551.8,736.4 1552.4,724.6 1552.9,737.0 1553.5,725.4 1554.1,738.2 1554.7,725.5 1555.3,739.5 1555.9,725.7 1556.5,740.1 1557.1,726.8 1557.6,741.5 1558.2,728.7 1558.8,742.7 1559.4,729.9 1560.0,742.6 1560.6,727.2 1561.2,741.0 1561.8,728.5 1562.4,741.3 1563.0,728.2 1563.6,740.6 1564.2,727.4 1564.8,739.9 1565.4,726.7 1566.0,740.8 1566.6,727.8 1567.2,741.1 1567.8,727.2 1568.4,741.0 1569.0,728.0 1569.6,742.0 1570.2,729.1 1570.8,742.2 1571.4,728.4 1572.0,742.0 1572.6,728.2 1573.2,740.8 1573.8,728.0 1574.4,741.5 1575.0,727.2 1575.6,740.8 1576.2,727.9 1576.8,740.8 1577.4,728.6 1578.0,742.1 1578.6,728.5 1579.2,742.5 1579.8,728.9 1580.4,742.0 1581.0,728.6 1581.6,741.7 1582.2,729.1 1582.8,743.7 1583.4,730.6 1584.0,744.3 1584.6,731.2 1585.2,744.2 1585.8,732.2 1586.4,745.8 1587.0,731.3 1587.6,745.5 1588.2,732.5 1588.8,746.3 1589.4,732.3 1590.0,747.0 1590.6,732.7 1591.2,746.1 1591.8,733.3 1592.4,746.2 1593.0,732.3 1593.6,746.4 1594.2,733.4 1594.8,745.6 1595.5,732.9 1596.1,746.2 1596.7,732.1 1597.3,745.3 1597.9,731.0 1598.5,744.4 1599.1,730.8 1599.7,744.8 1600.3,731.0 1600.9,743.6 1601.5,731.0 1602.1,743.5 1602.7,729.7 1603.3,743.3 1603.9,729.3 1604.5,743.3 1605.2,729.6 1605.8,744.3 1606.4,730.9 1607.0,743.8 1607.6,730.6 1608.2,743.5 1608.8,730.4 1609.4,744.1 1610.0,730.9 1610.5,744.8 1611.1,730.8 1611.6,745.1 1612.1,732.2 1612.6,744.6 1613.2,732.4 1613.7,746.4 1614.2,732.6 1614.8,747.3 1615.3,734.2 1615.8,747.9 1616.3,735.6 1616.9,748.5 1617.4,736.5 1617.9,750.2 1618.5,737.4 1619.0,750.6 1619.5,736.9 1620.0,750.5 1620.6,738.5 1621.1,751.7 1621.6,739.2 1622.2,752.3 1622.7,739.1 1623.2,752.2 1623.7,739.2 1624.3,753.6 1624.8,740.0 1625.3,753.2 1625.8,739.7 1626.4,754.8 1626.9,741.1 1627.4,755.1 1628.0,741.2 1628.5,755.7 1629.0,742.6 1629.5,755.8 1630.1,743.3 1630.6,757.2 1631.1,743.6 1631.7,757.1 1632.2,744.4 1632.7,757.4 1633.2,744.2 1633.8,759.3 1634.3,744.2 1634.8,758.9 1635.4,744.7 1635.9,758.7 1636.4,745.2 1636.9,758.6 1637.5,745.7 1638.0,760.3 1638.5,746.3 1639.1,759.8 1639.6,745.0 1640.1,759.7 1640.6,745.9 1641.2,758.9 1641.7,744.1 1642.2,759.0 1642.7,744.5 1643.3,759.1 1643.8,744.9 1644.3,758.1 1644.8,743.8 1645.4,758.3 1645.9,744.4 1646.4,758.3 1646.9,743.5 1647.5,757.2 1648.0,743.2 1648.5,757.2 1649.0,743.4 1649.6,757.6 1650.1,743.8 1650.6,758.1 1651.1,744.8 1651.7,758.3 1652.2,744.0 1652.7,758.3 1653.2,744.3 1653.7,758.2 1654.3,743.8 1654.8,757.6 1655.3,744.5 1655.8,758.4 1656.3,745.5 1656.9,759.4 1657.4,746.2 1657.9,759.9 1658.4,747.6 1659.0,760.4 1659.5,747.4 1660.0,763.0 1660.6,748.9 1661.2,762.2 1661.8,748.3 1662.4,762.6 1663.0,749.0 1663.6,762.8 1664.2,749.3 1664.8,763.6 1665.5,749.1 1666.1,762.6 1666.7,748.9 1667.3,762.7 1667.9,749.4 1668.5,761.6 1669.1,748.3 1669.7,761.6 1670.3,747.2 1670.9,761.5 1671.5,747.3 1672.1,763.0 1672.7,748.0 1673.3,762.2 1673.9,749.1 1674.5,762.7 1675.2,749.0 1675.8,763.3 1676.4,750.2 1677.0,763.5 1677.6,750.1 1678.2,763.6 1678.8,748.6 1679.4,763.2 1680.0,748.6 1680.5,762.7 1681.1,749.0 1681.6,762.5 1682.2,749.6 1682.7,763.5 1683.3,750.0 1683.8,764.2 1684.4,751.4 1684.9,765.6 1685.5,751.0 1686.0,765.3 1686.5,752.6 1687.1,766.7 1687.6,752.4 1688.2,766.6 1688.7,753.5 1689.3,768.5 1689.8,754.3 1690.4,767.6 1690.9,753.3 1691.5,767.3 1692.0,754.6 1692.6,768.5 1693.2,755.9 1693.8,769.3 1694.4,755.9 1695.0,769.2 1695.6,756.1 1696.2,770.2 1696.8,757.2 1697.4,770.9 1698.0,757.8 1698.6,772.4 1699.2,758.6 1699.8,771.3 1700.4,757.6 1701.0,771.4 1701.6,757.8 1702.2,772.7 1702.8,757.2 1703.4,772.0 1704.0,758.2 1704.6,771.6 1705.2,759.2 1705.8,772.8 1706.4,759.6 1707.0,772.0 1707.6,758.5 1708.2,771.9 1708.8,758.9 1709.4,772.9 1710.0,758.4 1710.6,772.5 1711.2,757.8 1711.9,771.5 1712.5,757.1 1713.1,770.7 1713.8,757.5 1714.4,770.5 1715.0,756.8 1715.6,771.0 1716.2,756.7 1716.9,771.7 1717.5,757.4 1718.1,770.0 1718.8,757.9 1719.4,770.9 1720.0,756.9 1720.4,770.9 1720.7,756.9 1721.1,771.2 1721.4,757.9 1721.8,771.7 1722.1,759.3 1722.5,772.8 1722.9,759.9 1723.2,773.0 1723.6,760.8 1723.9,774.6 1724.3,762.0 1724.6,776.2 1725.0,764.1 1725.4,777.6 1725.7,765.7 1726.1,780.2 1726.4,766.1 1726.8,781.0 1727.1,768.8 1727.5,781.4 1727.9,770.0 1728.2,782.8 1728.6,770.7 1728.9,784.0 1729.3,772.5 1729.6,785.2 1730.0,771.8 1730.4,785.5 1730.9,770.8 1731.3,785.2 1731.7,767.7 1732.2,781.5 1732.6,768.4 1733.0,780.1 1733.5,766.0 1733.9,780.2 1734.3,766.1 1734.8,779.9 1735.2,766.1 1735.7,778.1 1736.1,764.8 1736.5,778.3 1737.0,763.7 1737.4,776.8 1737.8,762.9 1738.3,776.4 1738.7,762.5 1739.1,775.3 1739.6,761.3 1740.0,774.1 1740.6,760.8 1741.2,774.8 1741.8,761.5 1742.4,774.0 1743.0,761.4 1743.6,773.9 1744.2,760.5 1744.8,774.6 1745.5,760.6 1746.1,774.1 1746.7,760.4 1747.3,773.0 1747.9,759.7 1748.5,774.5 1749.1,759.8 1749.7,774.7 1750.3,761.0 1750.9,774.0 1751.5,761.6 1752.1,773.7 1752.7,760.3 1753.3,774.6 1753.9,760.4 1754.5,774.7 1755.2,760.7 1755.8,774.5 1756.4,761.7 1757.0,774.0 1757.6,761.7 1758.2,774.6 1758.8,761.7 1759.4,773.5 1760.0,760.1 1760.6,773.8 1761.2,759.4 1761.8,773.1 1762.5,758.9 1763.1,773.3 1763.7,758.9 1764.3,772.0 1764.9,758.3 1765.5,772.3 1766.2,758.2 1766.8,771.6 1767.4,757.6 1768.0,770.2 1768.2,758.2 1768.5,772.2 1768.8,759.1 1769.0,773.5 1769.2,761.3 1769.5,775.4 1769.8,762.0 1770.0,776.8 1770.2,763.7 1770.5,777.9 1770.8,764.7 1771.0,778.7 1771.2,765.6 1771.5,779.3 1771.8,766.0 1772.0,780.0 1772.2,767.2 1772.5,779.8 1772.8,766.7 1773.0,781.9 1773.2,768.4 1773.5,782.8 1773.8,770.8 1774.0,784.0 1774.2,771.0 1774.5,785.8 1774.8,773.7 1775.0,788.8 1775.2,774.1 1775.5,787.8 1775.8,775.3 1776.0,789.6 1776.6,776.9 1777.2,789.9 1777.8,775.9 1778.4,789.9 1779.0,776.0 1779.7,790.2 1780.3,775.8 1780.9,789.5 1781.5,777.1 1782.1,790.4 1782.7,777.1 1783.3,790.4 1783.9,777.6 1784.5,790.5 1785.1,777.7 1785.7,790.9 1786.3,776.7 1787.0,790.5 1787.6,777.1 1788.2,790.3 1788.8,777.0 1789.4,790.4 1790.0,777.4 1790.6,790.3 1791.2,777.6 1791.8,790.5 1792.4,776.0 1793.0,789.8 1793.6,775.5 1794.2,788.4 1794.8,776.1 1795.4,789.1 1796.0,774.7 1796.6,788.9 1797.2,776.4 1797.8,789.5 1798.4,776.1 1799.0,789.8 1799.6,775.4 1800.2,790.0 1800.8,776.5 1801.4,790.0 1802.0,776.1 1802.6,789.6 1803.2,777.2 1803.8,789.6 1804.4,775.7 1805.0,789.5 1805.6,775.5 1806.2,788.7 1806.8,776.5 1807.4,789.1 1808.0,776.3 1808.6,789.6 1809.2,776.0 1809.8,790.0 1810.4,776.9 1811.0,790.8 1811.6,776.8 1812.2,791.6 1812.8,777.3 1813.4,790.7 1814.0,777.4 1814.6,791.1 1815.2,777.8 1815.8,791.4 1816.4,778.0 1817.0,792.3 1817.6,778.3 1818.2,791.0 1818.8,777.9 1819.4,791.3 1820.0,777.7 1820.6,790.9 1821.2,777.8 1821.8,789.8 1822.4,776.8 1823.0,789.9 1823.6,776.9 1824.2,788.3 1824.8,775.7 1825.4,788.9 1826.0,774.3 1826.6,787.4 1827.2,774.4 1827.8,786.2 1828.4,773.3 1829.0,787.0 1829.6,774.0 1830.2,786.2 1830.8,774.2 1831.4,786.4 1832.0,774.2 1832.5,787.3 1833.0,772.9 1833.5,786.6 1833.9,773.3 1834.4,786.3 1834.9,773.0 1835.4,785.5 1835.9,772.1 1836.3,784.4 1836.8,771.7 1837.3,784.8 1837.8,770.3 1838.2,784.2 1838.7,771.7 1839.1,786.3 1839.5,773.4 1840.0,787.0 1840.4,774.6 1840.8,787.9 1841.3,775.5 1841.7,788.1 1842.1,775.4 1842.6,791.0 1843.0,776.0 1843.6,789.6 1844.2,776.9 1844.8,789.8 1845.4,776.9 1846.0,790.0 1846.6,776.2 1847.2,789.6 1847.9,777.5 1848.5,790.3 1849.1,776.9 1849.7,791.1 1850.3,778.0 1850.9,791.0 1851.5,778.7 1852.1,791.3 1852.7,776.6 1853.3,791.0 1853.9,777.6 1854.5,790.0 1855.1,775.7 1855.8,789.9 1856.4,775.4 1857.0,788.9 1857.6,776.3 1858.2,789.9 1858.8,776.7 1859.4,790.1 1860.0,778.8 1860.6,792.3 1861.2,779.2 1861.8,792.0 1862.4,779.5 1863.1,793.6 1863.7,779.5 1864.3,793.3 1864.9,779.1 1865.5,792.2 1866.1,779.7 1866.7,792.5 1867.3,780.2 1867.9,793.1 1868.6,779.6 1869.2,792.2 1869.8,779.4 1870.4,792.4 1871.0,779.6 1871.6,792.6 1872.2,779.3 1872.8,792.5 1873.4,779.3 1874.1,793.2 1874.7,780.3 1875.3,793.3 1875.9,779.5 1876.5,793.7 1877.1,781.0 1877.7,795.1 1878.3,780.3 1878.9,793.6 1879.6,780.5 1880.2,793.8 1880.8,781.8 1881.4,793.8 1882.0,781.4 1882.6,794.7 1883.2,781.1 1883.8,793.6 1884.4,781.0 1885.1,794.3 1885.7,780.5 1886.3,793.3 1886.9,779.7 1887.5,793.2 1888.1,779.1 1888.7,792.0 1889.3,777.1 1889.9,791.8 1890.6,777.5 1891.2,792.2 1891.8,779.7 1892.4,793.5 1893.0,780.0"/>
<line x1="329.3" y1="882.0" x2="329.3" y2="1030.0" stroke="#00f" stroke-width="6.2" stroke-linecap="butt"/>
<line x1="329.3" y1="1193.0" x2="329.3" y2="1206.0" stroke="#00f" stroke-width="6.2" stroke-linecap="butt"/>
<line x1="336.2" y1="986.0" x2="336.2" y2="1136.0" stroke="#00f" stroke-width="6.2" stroke-linecap="butt"/>
<polyline stroke="#0000ff" stroke-width="5.8" points="336.0,1027.3 336.3,1019.9 336.6,1025.9 336.9,1018.3 337.2,1025.0 337.5,1017.8 337.8,1023.9 338.2,1016.9 338.5,1022.8 338.8,1016.2 339.1,1021.6 339.4,1014.6 339.7,1020.6 340.0,1013.8 340.3,1019.9 340.6,1012.6 340.9,1018.5 341.2,1011.5 341.5,1017.3 341.8,1009.7 342.2,1016.7 342.5,1009.1 342.8,1015.5 343.1,1008.2 343.4,1014.5 343.7,1007.0 344.0,1013.4 344.3,1006.6 344.6,1012.4 344.8,1005.2 345.1,1011.0 345.4,1004.4 345.7,1010.3 346.0,1003.0 346.2,1009.4 346.5,1001.8 346.8,1007.7 347.1,1001.1 347.4,1007.0 347.6,999.9 347.9,1005.9 348.2,998.3 348.5,1005.0 348.7,997.3 349.0,1003.8 349.3,996.0 349.6,1002.6 349.9,995.1 350.1,1001.1 350.4,994.4 350.7,1000.4 351.0,993.1 351.3,999.1 351.5,991.8 351.8,997.9 352.1,990.8 352.4,997.1 352.7,989.9 352.9,995.9 353.2,988.8 353.5,995.3 353.8,988.3 354.1,994.3 354.3,987.5 354.6,993.0 354.9,985.9 355.2,992.1 355.4,984.7 355.7,991.0 356.0,984.1 356.3,989.7 356.6,982.6 356.8,988.8 357.1,981.7 357.4,987.9 357.7,980.2 358.0,987.0 358.2,979.5 358.5,985.8 358.8,978.3 359.1,984.6 359.4,976.6 359.6,983.1 359.9,976.0 360.2,982.2 360.5,974.9 360.8,981.9 361.0,974.0 361.3,981.5 361.6,973.4 361.9,980.0 362.1,972.4 362.4,978.2 362.7,971.2 363.0,977.7 363.3,969.8 363.5,976.5 363.8,968.5 364.1,975.1 364.4,967.5 364.7,973.9 364.9,966.5 365.2,973.2 365.5,965.6 365.8,972.7 366.1,964.7 366.4,971.2 366.7,963.8 367.0,970.2 367.3,962.3 367.6,969.3 367.9,961.6 368.2,967.6 368.6,960.0 368.9,966.9 369.2,959.6 369.5,966.0 369.8,958.5 370.1,965.3 370.4,957.4 370.7,963.5 371.0,956.2 371.3,962.7 371.6,955.1 371.9,961.4 372.2,953.9 372.5,960.3 372.8,953.3 373.1,959.2 373.4,952.2 373.7,958.5 374.0,950.6 374.3,957.2 374.6,949.8 375.0,956.5 375.3,948.4 375.6,955.2 375.9,947.5 376.2,954.1 376.5,947.0 376.8,953.4 377.1,945.6 377.4,952.1 377.7,944.3 378.0,951.3 378.3,943.9 378.6,950.6 378.9,942.4 379.2,949.4 379.5,941.6 379.8,948.7 380.1,940.3 380.4,947.5 380.8,939.3 381.1,946.1 381.4,938.8 381.7,945.3 382.0,937.5 382.3,943.7 382.6,936.6 382.9,942.9 383.2,935.1 383.5,941.6 383.8,934.3 384.1,940.6 384.4,933.1 384.7,940.3 385.0,932.3 385.3,938.8 385.6,931.2 385.9,937.8 386.2,930.3 386.5,937.2 386.9,929.3 387.2,936.7 387.5,928.4 387.8,934.8 388.1,927.4 388.4,934.0 388.7,925.6 389.0,933.7 389.3,924.6 389.6,931.5 389.9,924.1 390.2,930.1 390.5,922.8 390.8,929.3 391.1,921.9 391.4,928.3 391.7,920.0 392.0,927.0 392.3,919.2 392.6,926.3 392.9,918.4 393.3,925.6 393.6,917.4 393.9,924.7 394.2,916.4 394.5,923.7 394.8,915.6 395.1,922.1 395.4,914.3 395.7,921.4 396.0,913.5 396.3,920.5 396.7,912.0 397.0,919.1 397.3,911.4 397.7,918.4 398.0,909.6 398.3,917.2 398.7,909.2 399.0,916.2 399.3,908.5 399.7,914.9 400.0,906.7 400.3,914.0 400.7,905.7 401.0,912.8 401.3,905.1 401.7,912.2 402.0,904.0 402.3,910.6 402.7,903.0 403.0,909.3 403.3,902.0 403.7,908.7 404.0,900.6 404.3,908.7 404.7,900.1 405.0,906.5 405.3,899.1 405.7,906.6 406.0,898.4 406.3,904.8 406.7,897.4 407.0,904.1 407.3,896.4 407.7,903.1 408.0,895.2 408.3,902.8 408.7,893.5 409.0,900.7 409.3,892.9 409.7,899.6 410.0,892.1 410.3,898.6 410.7,891.2 411.0,898.1 411.3,889.5 411.6,896.6 411.9,888.8 412.2,896.1 412.5,887.9 412.8,894.9 413.1,886.8 413.4,893.6 413.7,885.5 414.0,892.7 414.3,884.4 414.6,892.0 414.9,883.9 415.2,890.3 415.5,882.2 415.8,889.7 416.1,881.9 416.4,888.6 416.7,880.3 417.0,887.5 417.3,879.3 417.6,885.9 417.9,878.4 418.2,885.1 418.5,877.4 418.7,884.5 419.0,875.9 419.3,882.9 419.6,875.4 419.9,882.1 420.2,874.3 420.5,880.8 420.8,873.1 421.1,879.9 421.4,871.5 421.7,878.7 422.0,871.1 422.3,877.9 422.6,870.0 422.9,876.4 423.2,868.7 423.5,875.5 423.8,867.6 424.1,874.6 424.4,866.7 424.7,873.4 425.0,865.4 425.3,872.5 425.6,864.8 425.9,871.5 426.2,863.8 426.5,870.6 426.8,862.2 427.1,869.2 427.4,860.9 427.6,868.3 427.9,859.8 428.2,867.1 428.5,858.9 428.8,865.6 429.1,857.6 429.4,864.9 429.7,856.4 430.0,864.0 430.3,856.0 430.6,862.7 430.8,854.7 431.1,861.6 431.4,853.3 431.7,860.2 432.0,855.6 432.0,855.8 432.0,854.5 432.1,854.6 432.1,853.3 432.1,853.4 432.1,852.1 432.1,852.1 432.2,850.9 432.2,851.0 432.2,849.6 432.2,849.7 432.2,848.4 432.3,848.6 432.3,847.2 432.3,847.3 432.3,846.0 432.3,846.1 432.4,844.7 432.4,844.9 432.4,843.6 432.4,843.7 432.4,842.4 432.5,842.5 432.5,841.1 432.5,841.3 432.5,840.0 432.6,840.1 432.6,838.8 432.6,838.9 432.6,837.6 432.6,837.7 432.7,836.4 432.7,836.5 432.7,835.2 432.7,835.3 432.7,833.9 432.8,834.1 432.8,832.8 432.8,832.9 432.8,831.6 432.8,831.7 432.9,830.3 432.9,830.5 432.9,829.2 432.9,829.3 432.9,827.9 433.0,828.1 433.0,826.7 433.0,826.9 433.0,826.7 433.1,828.0 433.1,827.9 433.2,829.3 433.2,829.1 433.2,830.5 433.3,830.4 433.3,831.7 433.3,831.6 433.4,832.9 433.4,832.7 433.5,834.1 433.5,834.0 433.5,835.3 433.6,835.2 433.6,836.5 433.7,836.4 433.7,837.7 433.7,837.6 433.8,838.9 433.8,838.8 433.8,840.1 433.9,840.0 433.9,841.3 434.0,841.2 434.0,842.5 434.0,842.4 434.1,843.7 434.1,843.6 434.2,845.0 434.2,844.8 434.2,846.1 434.3,846.0 434.3,847.4 434.3,847.2 434.4,848.6 434.4,848.4 434.5,849.7 434.5,846.0 434.9,853.1 435.3,845.3 435.6,851.9 436.0,844.4 436.4,851.0 436.8,843.0 437.2,850.3 437.6,842.0 437.9,849.2 438.3,840.8 438.7,847.9 439.1,840.5 439.5,847.2 439.9,839.0 440.2,846.7 440.6,838.3 441.0,845.6 441.4,837.6 441.7,844.5 442.1,836.1 442.4,843.3 442.8,835.2 443.1,841.9 443.4,834.0 443.8,840.8 444.1,833.0 444.4,840.2 444.8,832.2 445.1,840.0 445.5,831.5 445.8,838.5 446.1,830.3 446.5,837.7 446.8,829.1 447.1,836.5 447.5,828.2 447.8,835.0 448.2,827.0 448.5,833.9 448.8,826.5 449.2,833.2 449.5,825.1 449.8,832.2 450.2,824.3 450.5,831.1 450.9,822.9 451.2,830.2 451.5,822.1 451.9,828.9 452.2,820.9 452.5,827.8 452.9,820.1 453.2,827.0 453.6,818.7 453.9,826.0 454.2,818.4 454.6,825.0 454.9,816.7 455.2,823.6 455.6,816.4 455.9,823.3 456.3,815.4 456.6,821.8 457.0,814.2 457.4,820.7 457.8,813.5 458.1,819.7 458.5,812.5 458.9,819.4 459.3,811.1 459.7,818.3 460.1,810.1 460.5,818.2 460.9,809.7 461.2,816.6 461.6,808.1 462.0,815.2 462.4,806.7 462.8,814.1 463.2,806.5 463.6,813.1 464.0,805.2 464.3,812.6 464.7,804.5 465.1,810.9 465.5,803.2 465.9,810.0 466.3,802.6 466.7,809.3 467.1,801.1 467.4,808.3 467.8,801.0 468.2,807.8 468.6,799.5 469.0,806.5 469.4,799.1 469.8,806.0 470.2,798.3 470.5,805.0 470.9,797.1 471.3,803.8 471.7,796.0 472.1,803.5 472.5,794.9 472.9,802.4 473.3,794.6 473.7,801.6 474.1,793.3 474.4,800.2 474.8,792.1 475.2,799.1 475.6,791.2 476.0,798.3 476.4,790.2 476.8,797.1 477.2,789.7 477.6,797.0 478.0,788.9 478.4,795.4 478.8,787.3 479.2,794.9 479.5,786.8 479.9,793.6 480.3,785.7 480.7,792.5 481.1,784.4 481.5,792.0 481.9,784.0 482.3,790.6 482.7,782.6 483.1,790.0 483.5,782.1 483.9,789.4 484.3,781.2 484.6,787.8 485.0,780.2 485.4,786.7 485.8,779.1 486.2,786.1 486.6,778.2 487.0,785.6 487.4,776.7 487.9,783.8 488.3,776.6 488.7,783.4 489.1,775.6 489.6,782.6 490.0,774.8 490.4,781.8 490.9,774.2 491.3,781.0 491.7,773.1 492.1,780.1 492.6,771.8 493.0,779.3 493.4,771.3 493.9,778.3 494.3,770.6 494.7,777.1 495.1,769.7 495.6,776.3 496.0,768.5 496.4,775.9 496.9,767.2 497.3,774.6 497.7,766.5 498.1,773.9 498.6,765.4 499.0,773.1 499.4,765.2 499.9,771.6 500.3,763.7 500.7,771.7 501.1,763.3 501.6,769.7 502.0,761.7 502.4,769.3 502.8,761.0 503.2,769.0 503.6,760.6 504.0,767.8 504.4,759.5 504.8,766.9 505.2,758.7 505.6,765.6 506.0,757.7 506.4,761.4 506.4,760.1 506.4,760.2 506.5,758.8 506.5,759.0 506.5,757.6 506.5,757.8 506.5,756.4 506.6,756.6 506.6,755.2 506.6,755.3 506.6,754.0 506.6,754.1 506.7,752.7 506.7,752.9 506.7,751.5 506.7,751.6 506.7,750.2 506.8,750.4 506.8,749.0 506.8,749.2 506.8,747.8 506.8,748.0 506.9,746.6 506.9,746.8 506.9,745.5 506.9,745.6 506.9,744.3 506.9,744.4 507.0,743.1 507.0,743.2 507.0,741.8 507.0,741.9 507.0,740.6 507.1,740.7 507.1,739.4 507.1,739.5 507.1,738.1 507.1,738.3 507.2,736.9 507.2,737.1 507.2,735.7 507.2,735.8 507.2,734.4 507.3,734.6 507.3,733.3 507.3,733.4 507.3,732.0 507.3,732.2 507.4,730.9 507.4,731.0 507.4,729.6 507.4,731.0 507.5,730.8 507.5,732.1 507.5,732.0 507.6,733.4 507.6,733.2 507.6,734.7 507.6,734.4 507.7,735.8 507.7,735.6 507.7,737.0 507.8,736.9 507.8,738.2 507.8,738.1 507.9,739.4 507.9,739.2 507.9,740.6 508.0,740.5 508.0,741.8 508.0,741.6 508.1,743.0 508.1,742.9 508.1,744.2 508.1,744.0 508.2,745.4 508.2,745.2 508.2,746.6 508.3,746.4 508.3,747.8 508.3,747.6 508.4,748.9 508.4,748.8 508.4,750.2 508.5,750.0 508.5,751.3 508.5,751.2 508.6,752.6 508.6,752.4 508.6,753.8 508.6,753.6 508.7,755.0 508.7,754.8 508.7,756.2 508.8,755.9 508.8,760.8 509.3,752.5 509.8,759.8 510.3,751.7 510.8,759.3 511.3,751.2 511.8,758.3 512.3,750.9 512.8,758.1 513.3,750.4 513.8,756.9 514.3,749.5 514.8,756.7 515.3,748.7 515.8,756.2 516.3,747.7 516.8,754.8 517.3,747.6 517.9,754.8 518.5,746.9 519.1,754.4 519.7,746.4 520.3,754.1 520.9,746.6 521.5,754.3 522.1,746.8 522.7,753.6 523.3,746.5 523.9,753.9 524.5,745.7 525.2,753.9 525.8,746.2 526.4,753.3 527.0,746.1 527.6,753.2 528.2,745.3 528.8,752.9 529.4,745.4 530.0,752.8 530.6,745.3 531.2,752.3 531.8,745.1 532.4,752.2 532.9,744.4 533.5,751.2 534.0,744.0 534.6,751.0 535.1,742.6 535.7,750.2 536.2,742.2 536.7,750.2 537.3,742.3 537.8,749.3 538.4,741.2 538.9,749.1 539.5,741.4 540.0,748.9 540.5,741.0 541.1,748.2 541.6,740.1 542.2,746.9 542.7,739.4 543.3,746.1 543.8,739.0 544.3,745.5 544.9,737.6 545.4,745.0 546.0,737.4 546.5,744.1 547.1,736.5 547.6,740.8 548.1,739.6 548.5,739.8 549.0,738.7 549.4,739.0 549.9,737.8 550.3,738.2 550.8,737.0 551.2,737.3 551.2,736.0 551.2,736.2 551.2,734.8 551.2,735.0 551.3,733.6 551.3,733.7 551.3,732.4 551.3,732.5 551.3,731.1 551.3,731.3 551.3,729.9 551.3,730.1 551.3,728.7 551.3,728.9 551.4,727.4 551.4,727.6 551.4,726.3 551.4,726.4 551.4,725.1 551.4,725.3 551.4,723.8 551.4,724.0 551.4,722.6 551.5,722.8 551.5,721.4 551.5,721.6 551.5,720.3 551.5,720.4 551.5,719.1 551.5,719.2 551.5,717.8 551.5,718.0 551.5,716.7 551.6,716.8 551.6,715.4 551.6,715.6 551.6,714.2 551.6,714.4 551.6,713.0 551.6,713.2 551.6,711.8 551.6,712.0 551.7,710.6 551.7,710.7 551.7,709.3 551.7,709.5 551.7,708.2 551.7,708.3 551.7,706.9 551.7,707.1 551.7,705.6 551.7,705.8 551.8,704.5 551.8,704.7 551.8,703.2 551.8,703.5 551.8,702.0 551.8,702.2 551.8,700.9 551.8,701.0 551.8,699.7 551.9,699.8 551.9,698.5 551.9,698.6 551.9,697.3 551.9,697.5 551.9,696.1 551.9,696.2 551.9,694.9 551.9,695.0 551.9,693.6 552.0,693.8 552.0,692.5 552.0,692.6 552.0,691.2 552.0,691.4 552.0,690.0 552.0,690.2 552.0,688.8 552.0,688.9 552.1,687.6 552.1,687.8 552.1,686.4 552.1,686.6 552.1,685.2 552.1,685.3 552.1,684.0 552.1,684.2 552.1,682.8 552.1,683.0 552.2,681.6 552.2,681.7 552.2,680.4 552.2,680.6 552.2,679.2 552.2,680.5 552.2,680.4 552.2,681.8 552.3,681.6 552.3,682.9 552.3,682.8 552.3,684.1 552.3,683.9 552.3,685.3 552.4,685.1 552.4,686.4 552.4,686.3 552.4,687.7 552.4,687.5 552.4,688.9 552.5,688.7 552.5,690.1 552.5,689.9 552.5,691.3 552.5,691.1 552.5,692.5 552.5,692.3 552.6,693.7 552.6,693.6 552.6,694.9 552.6,694.7 552.6,696.1 552.6,695.9 552.7,697.3 552.7,697.2 552.7,698.5 552.7,698.3 552.7,699.7 552.7,699.6 552.8,701.0 552.8,700.8 552.8,702.2 552.8,702.0 552.8,703.3 552.8,703.2 552.8,704.5 552.9,704.4 552.9,705.7 552.9,705.5 552.9,707.0 552.9,706.8 552.9,708.2 553.0,708.0 553.0,709.3 553.0,709.2 553.0,710.5 553.0,710.4 553.0,711.8 553.0,711.6 553.1,712.9 553.1,712.8 553.1,714.2 553.1,714.0 553.1,715.3 553.1,715.2 553.2,716.6 553.2,716.4 553.2,717.8 553.2,717.6 553.2,718.9 553.2,718.8 553.3,720.2 553.3,720.0 553.3,721.4 553.3,721.2 553.3,722.6 553.3,722.5 553.3,723.8 553.4,723.7 553.4,725.0 553.4,724.8 553.4,726.2 553.4,726.0 553.4,727.4 553.5,727.2 553.5,728.6 553.5,728.4 553.5,729.7 553.5,729.6 553.5,731.0 553.6,730.8 553.6,732.2 553.6,732.0 553.6,733.4 554.2,732.3 554.8,732.7 555.5,731.6 556.1,732.1 556.7,727.6 557.2,735.6 557.7,728.5 558.2,735.9 558.7,728.8 559.2,736.7 559.7,729.9 560.3,737.8 560.8,730.5 561.3,737.8 561.8,731.0 562.3,738.6 562.8,731.5 563.3,739.1 563.8,731.7 564.3,740.1 564.8,732.7 565.3,740.9 565.8,733.5 566.3,741.6 566.8,733.7 567.4,742.2 567.9,734.6 568.4,742.7 568.9,734.9 569.4,743.1 569.9,735.7 570.4,744.6 570.9,737.3 571.4,745.5 572.0,737.4 572.5,746.2 573.0,738.3 573.5,746.4 574.0,739.8 574.6,747.4 575.1,740.0 575.6,747.7 576.1,740.2 576.6,747.9 577.2,741.1 577.7,748.9 578.2,740.4 578.7,749.7 579.3,741.8 579.8,750.2 580.3,742.7 580.8,750.8 581.3,743.5 581.9,751.3 582.4,743.7 582.9,752.0 583.4,744.5 583.9,752.7 584.5,745.2 585.0,753.0 585.5,745.0 586.0,753.2 586.6,745.5 587.1,753.3 587.7,745.6 588.2,753.9 588.8,746.4 589.3,755.1 589.8,747.0 590.4,755.3 590.9,748.0 591.5,755.7 592.0,747.7 592.6,756.4 593.1,749.5 593.6,757.1 594.2,749.8 594.7,758.3 595.3,750.4 595.8,758.5 596.4,750.6 596.9,759.2 597.4,751.5 598.0,759.3 598.5,751.5 599.1,760.4 599.6,751.8 600.2,760.1 600.7,752.2 601.3,760.7 601.9,752.5 602.5,760.7 603.1,752.9 603.7,761.3 604.3,753.5 604.9,761.4 605.5,753.1 606.1,761.9 606.7,753.9 607.3,762.5 607.9,754.5 608.5,762.8 609.1,754.9 609.7,762.8 610.4,754.5 611.0,763.7 611.6,754.7 612.2,763.2 612.8,754.8 613.4,763.5 614.0,755.5 614.6,763.6 615.2,755.2 615.8,763.3 616.4,755.1 617.0,762.7 617.6,755.3 618.2,763.1 618.8,754.9 619.4,763.7 620.0,755.4 620.6,764.1 621.2,755.5 621.9,763.9 622.5,756.4 623.1,764.6 623.7,756.5 624.3,764.9 625.0,756.6 625.6,764.7 626.2,756.8 626.8,765.6 627.4,757.0 628.0,765.1 628.7,757.2 629.3,765.5 629.9,757.0 630.5,765.4 631.1,757.6 631.8,766.3 632.4,757.9 633.0,762.4 633.0,761.0 633.1,761.2 633.1,759.8 633.1,760.0 633.1,758.6 633.2,758.8 633.2,757.4 633.2,757.5 633.2,756.1 633.3,756.4 633.3,754.9 633.3,755.1 633.3,753.6 633.4,753.9 633.4,752.5 633.4,752.7 633.4,751.3 633.5,751.5 633.5,750.1 633.5,750.4 633.6,748.9 633.6,749.1 633.6,747.7 633.6,747.9 633.7,746.5 633.7,746.7 633.7,745.3 633.7,745.5 633.8,744.1 633.8,744.3 633.8,742.9 633.8,743.1 633.9,741.6 633.9,741.8 633.9,740.4 633.9,740.6 634.0,739.2 634.0,739.3 634.0,739.1 634.1,740.5 634.1,740.3 634.1,741.7 634.1,741.5 634.2,742.9 634.2,742.7 634.2,744.1 634.3,743.9 634.3,745.4 634.3,745.1 634.4,746.6 634.4,746.4 634.4,747.8 634.5,747.5 634.5,749.0 634.5,748.7 634.5,750.2 634.6,750.0 634.6,751.4 634.6,751.3 634.7,752.7 634.7,752.4 634.7,753.8 634.8,753.6 634.8,755.1 634.8,754.9 634.8,756.3 634.9,756.1 634.9,757.5 634.9,757.2 635.0,758.7 635.0,758.4 635.0,759.8 635.1,759.6 635.1,761.0 635.1,760.7 635.1,762.2 635.2,761.9 635.2,766.9 635.8,759.0 636.4,766.6 637.0,758.4 637.6,766.9 638.2,758.6 638.8,767.7 639.4,759.3 640.0,767.3 640.6,759.4 641.3,767.5 641.9,759.5 642.5,767.8 643.1,759.6 643.7,768.2 644.3,759.6 644.9,768.1 645.5,759.8 646.1,768.6 646.7,760.1 647.3,768.2 647.9,759.8 648.5,768.0 649.1,760.1 649.7,768.3 650.3,759.5 650.9,768.5 651.5,760.0 652.2,767.9 652.8,760.3 653.4,768.8 654.0,760.1 654.6,768.8 655.2,760.5 655.8,768.9 656.4,760.6 657.0,768.4 657.6,760.3 658.2,769.0 658.8,760.9 659.4,769.2 660.0,760.4 660.6,769.5 661.2,760.0 661.8,769.6 662.4,760.9 663.0,769.1 663.7,761.3 664.3,769.5 664.9,761.0 665.5,769.8 666.1,761.6 666.7,769.5 667.3,761.4 667.9,770.2 668.5,762.0 669.1,770.5 669.7,761.7 670.3,770.7 670.9,762.2 671.5,771.6 672.1,762.0 672.7,771.1 673.3,762.3 673.9,770.4 674.6,762.0 675.2,770.2 675.8,762.2 676.4,770.6 677.0,762.3 677.6,770.3 678.2,761.8 678.8,770.6 679.4,762.3 680.0,771.1 680.6,762.4 681.2,770.9 681.8,761.9 682.4,771.0 683.0,762.0 683.6,771.0 684.2,762.6 684.8,771.1 685.4,762.8 686.0,771.1 686.6,763.1 687.2,772.3 687.8,763.5 688.4,772.3 689.0,762.7 689.6,771.9 690.2,762.7 690.8,771.5 691.4,762.2 692.1,771.2 692.7,762.1 693.3,770.4 693.9,761.6 694.5,769.8 695.1,761.5 695.7,770.4 696.3,761.8 696.9,771.4 697.5,762.1 698.1,771.7 698.7,762.5 699.3,771.9 699.9,763.2 700.5,771.3 701.1,762.9 701.7,771.7 702.3,763.1 702.9,771.8 703.5,766.6 703.5,766.9 703.6,765.4 703.6,765.6 703.6,764.2 703.7,764.4 703.7,762.9 703.7,763.1 703.8,761.7 703.8,761.9 703.8,760.4 703.9,760.7 703.9,759.2 703.9,759.4 704.0,758.0 704.0,758.2 704.0,756.7 704.1,757.0 704.1,755.5 704.1,755.7 704.2,754.2 704.2,754.5 704.2,753.1 704.3,753.4 704.3,751.9 704.3,752.2 704.4,750.7 704.4,750.9 704.4,749.5 704.5,749.8 704.5,748.3 704.5,748.6 704.6,747.1 704.6,747.4 704.6,745.8 704.7,746.1 704.7,744.5 704.7,746.0 704.8,745.7 704.8,747.2 704.8,746.9 704.9,748.4 704.9,748.1 705.0,749.6 705.0,749.4 705.0,750.9 705.1,750.6 705.1,752.1 705.1,751.8 705.2,753.4 705.2,753.1 705.2,754.5 705.3,754.3 705.3,755.8 705.4,755.4 705.4,757.0 705.4,756.7 705.5,758.2 705.5,758.0 705.5,759.5 705.6,759.2 705.6,760.8 705.6,760.5 705.7,762.0 705.7,761.7 705.7,763.3 705.8,762.9 705.8,764.4 705.9,764.1 705.9,765.6 705.9,765.3 706.0,766.8 706.0,762.2 706.6,770.8 707.2,761.4 707.8,770.4 708.4,761.1 709.0,770.1 709.7,761.5 710.3,771.5 710.9,761.5 711.5,771.0 712.1,762.0 712.7,770.8 713.3,762.4 713.9,770.7 714.5,762.0 715.1,770.9 715.7,762.3 716.3,771.4 717.0,760.9 717.6,771.5 718.2,762.4 718.8,770.8 719.4,762.8 720.0,771.5 720.6,762.5 721.2,771.4 721.8,763.0 722.4,772.1 723.0,763.4 723.6,772.1 724.2,763.0 724.8,771.8 725.4,762.5 726.0,771.2 726.6,762.0 727.2,771.0 727.8,761.5 728.4,771.3 729.0,760.9 729.6,770.6 730.2,761.5 730.8,770.9 731.4,761.9 732.0,771.1 732.6,761.6 733.3,771.1 733.9,761.9 734.5,771.2 735.1,762.0 735.7,771.5 736.3,761.0 736.9,771.0 737.5,760.8 738.1,770.1 738.7,760.4 739.3,769.0 739.9,759.8 740.5,769.6 741.1,759.1 741.7,768.8 742.3,759.7 742.9,769.2 743.5,759.5 744.1,769.7 744.7,759.9 745.3,765.4 745.4,763.9 745.5,764.3 745.5,762.6 745.6,763.0 745.7,761.4 745.8,761.9 745.8,760.3 745.9,760.7 746.0,759.1 746.1,759.5 746.2,757.8 746.2,758.3 746.3,756.7 746.4,757.0 746.5,756.7 746.6,758.3 746.6,758.0 746.7,759.5 746.8,759.2 746.9,760.7 747.0,760.4 747.0,761.9 747.1,761.6 747.2,763.1 747.3,762.7 747.3,764.4 747.4,763.9 747.5,769.4 748.1,759.8 748.8,769.6 749.4,759.7 750.0,769.6 750.6,758.8 751.2,769.5 751.9,758.7 752.5,769.1 753.1,758.1 753.8,768.4 754.4,758.0 755.0,768.3 755.6,758.6 756.2,768.8 756.9,756.7 757.5,767.9 758.1,757.9 758.8,768.7 759.4,758.3 760.0,768.7 760.6,757.8 761.2,768.8 761.8,758.2 762.4,768.5 763.0,758.5 763.6,768.9 764.2,758.6 764.8,769.2 765.5,757.5 766.1,768.0 766.7,757.0 767.3,767.5 767.9,756.6 768.5,767.0 769.1,756.6 769.7,767.1 770.3,756.7 770.9,767.7 771.5,757.9 772.1,768.1 772.7,757.2 773.3,768.5 773.9,757.2 774.5,769.0 775.2,758.6 775.8,769.3 776.4,758.5 777.0,768.9 777.6,757.7 778.2,769.3 778.8,758.0 779.4,768.7 780.0,758.2 780.6,768.2 781.2,757.6 781.8,767.6 782.4,755.8 783.0,766.9 783.6,755.5 784.2,767.1 784.8,755.1 785.5,765.7 786.1,755.1 786.7,765.7 787.3,755.1 787.9,766.2 788.5,754.0 789.1,766.3 789.7,753.9 790.3,765.7 790.9,754.6 791.5,766.0 792.1,754.7 792.7,767.0 793.3,754.9 793.9,766.8 794.5,754.6 795.2,767.6 795.8,755.6 796.4,768.0 797.0,755.9 797.6,766.9 798.2,755.4 798.8,766.9 799.4,755.2 800.0,766.3 800.6,755.0 801.2,766.9 801.8,754.4 802.4,766.4 803.0,754.2 803.6,765.4 804.2,752.7 804.8,766.0 805.4,753.6 806.0,766.3 806.6,754.4 807.2,765.8 807.8,753.9 808.4,765.0 809.0,752.3 809.6,764.9 810.1,752.0 810.7,763.7 811.3,752.1 811.9,763.0 812.5,750.5 813.1,762.8 813.7,750.1 814.3,761.6 814.9,750.1 815.5,761.5 816.1,749.4 816.7,761.2 817.3,749.4 817.9,761.4 818.5,749.0 819.1,761.3 819.7,748.5 820.3,760.2 820.9,749.3 821.5,760.2 822.1,749.3 822.7,760.7 823.3,749.1 823.9,759.9 824.5,749.1 825.1,761.0 825.7,748.4 826.3,760.7 826.9,748.9 827.5,762.5 828.1,749.1 828.7,761.6 829.3,748.9 829.9,760.2 830.4,748.7 831.0,760.5 831.6,747.9 832.2,760.8 832.8,747.0 833.4,758.0 834.0,746.1 834.6,757.9 835.2,746.1 835.8,758.4 836.4,746.2 837.0,757.4 837.6,745.6 838.2,758.0 838.8,745.9 839.4,757.7 840.0,746.1 840.6,757.2 841.2,745.2 841.8,758.1 842.4,744.5 843.0,757.1 843.6,744.6 844.2,756.4 844.8,744.1 845.4,757.0 846.0,744.8 846.6,756.4 847.2,744.1 847.8,756.0 848.4,744.3 849.0,756.4 849.6,743.5 850.1,755.8 850.7,744.2 851.3,756.0 851.9,743.7 852.5,755.3 853.1,743.5 853.7,754.4 854.3,742.6 854.9,754.2 855.5,742.9 856.1,754.3 856.7,743.4 857.3,755.3 857.9,742.8 858.5,754.5 859.1,742.4 859.7,755.3 860.3,743.6 860.9,756.0 861.5,743.3 862.1,754.9 862.7,742.0 863.3,753.9 863.9,740.7 864.5,752.2 865.1,740.2 865.7,752.1 866.3,739.6 866.9,751.3 867.5,739.5 868.1,750.4 868.7,738.9 869.3,751.0 869.9,737.1 870.4,750.3 871.0,737.5 871.6,749.9 872.2,737.6 872.8,750.7 873.4,738.6 874.0,751.1 874.6,738.6 875.2,751.5 875.8,740.3 876.4,753.1 877.0,741.0 877.6,752.6 878.2,740.2 878.8,751.9 879.4,738.7 880.0,751.2 880.6,739.1 881.2,752.0 881.8,739.6 882.4,750.9 883.0,739.4 883.6,751.5 884.2,739.4 884.8,750.9 885.4,738.8 886.0,750.6 886.6,739.2 887.2,751.5 887.8,739.3 888.4,750.3 889.0,738.6 889.7,749.5 890.3,738.0 890.9,749.8 891.5,737.5 892.1,749.0 892.7,736.2 893.3,748.7 893.9,736.2 894.5,748.2 895.1,736.2 895.7,748.9 896.3,736.6 896.9,748.9 897.5,737.0 898.1,749.9 898.7,738.0 899.3,750.0 899.9,737.2 900.5,749.0 901.1,737.8 901.7,748.9 902.3,737.3 902.9,749.8 903.5,736.9 904.1,749.7 904.7,736.9 905.3,748.2 905.9,736.5 906.5,746.9 907.1,735.5 907.8,746.5 908.4,734.1 909.0,746.5 909.6,734.1 910.2,746.5 910.8,733.9 911.4,746.8 912.0,734.9 912.6,746.9 913.2,734.7 913.8,747.0 914.4,734.5 915.0,747.1 915.6,734.8 916.2,746.6 916.8,739.6 916.8,740.2 916.8,738.3 916.9,739.0 916.9,737.1 916.9,737.8 916.9,736.0 916.9,736.6 917.0,734.8 917.0,735.4 917.0,733.4 917.0,734.1 917.0,732.3 917.1,732.9 917.1,731.0 917.1,731.7 917.1,729.9 917.1,730.5 917.2,728.7 917.2,729.2 917.2,727.4 917.2,728.0 917.2,726.2 917.3,726.8 917.3,725.1 917.3,725.5 917.3,723.7 917.3,724.4 917.4,722.6 917.4,723.2 917.4,721.4 917.4,721.9 917.4,720.2 917.5,720.7 917.5,718.9 917.5,719.5 917.5,717.7 917.5,718.3 917.6,716.5 917.6,717.1 917.6,715.3 917.6,716.0 917.6,714.0 917.7,714.8 917.7,712.9 917.7,713.6 917.7,711.8 917.7,712.3 917.8,710.5 917.8,711.1 917.8,709.4 917.8,709.8 917.8,708.1 917.9,708.7 917.9,706.9 917.9,707.5 917.9,705.7 917.9,706.3 918.0,704.5 918.0,705.1 918.0,703.2 918.0,705.0 918.0,704.4 918.1,706.3 918.1,705.7 918.1,707.6 918.1,707.0 918.1,708.8 918.2,708.2 918.2,710.0 918.2,709.5 918.2,711.3 918.2,710.7 918.3,712.4 918.3,711.8 918.3,713.6 918.3,713.0 918.4,714.9 918.4,714.2 918.4,716.0 918.4,715.4 918.4,717.3 918.5,716.7 918.5,718.6 918.5,718.0 918.5,719.7 918.5,719.2 918.6,721.0 918.6,720.4 918.6,722.1 918.6,721.4 918.6,723.3 918.7,722.7 918.7,724.4 918.7,723.8 918.7,725.5 918.7,725.0 918.8,726.8 918.8,726.2 918.8,728.0 918.8,727.5 918.8,729.4 918.9,728.7 918.9,730.7 918.9,730.1 918.9,731.9 919.0,731.3 919.0,733.1 919.0,732.5 919.0,734.3 919.0,733.6 919.1,735.5 919.1,734.9 919.1,736.8 919.1,736.0 919.1,737.8 919.2,737.2 919.2,739.1 919.2,733.8 919.8,747.4 920.4,734.9 921.0,746.1 921.6,734.7 922.3,746.3 922.9,734.5 923.5,745.8 924.1,734.6 924.7,746.0 925.3,734.4 925.9,745.6 926.5,733.7 927.2,746.5 927.8,734.2 928.4,745.2 929.0,733.1 929.6,745.0 930.2,733.7 930.8,745.9 931.4,733.4 932.0,745.9 932.7,733.5 933.3,745.2 933.9,733.2 934.5,744.2 935.1,732.0 935.7,744.8 936.3,731.9 936.9,743.6 937.6,731.6 938.2,744.2 938.8,731.3 939.4,743.5 940.0,731.3 940.6,742.4 941.2,730.7 941.8,741.3 942.4,729.0 943.0,742.8 943.6,728.5 944.2,741.0 944.8,728.6 945.4,741.6 946.0,728.7 946.6,742.2 947.2,730.1 947.8,743.0 948.4,730.7 949.0,743.4 949.6,731.2 950.2,743.6 950.8,730.6 951.4,742.8 952.0,729.8 952.6,742.2 953.2,729.5 953.8,741.4 954.4,729.2 955.0,740.7 955.6,727.9 956.2,739.9 956.8,728.8 957.4,740.9 958.0,729.0 958.6,740.1 959.2,728.9 959.8,740.8 960.4,728.3 961.0,740.1 961.6,729.2 962.2,741.1 962.8,729.2 963.4,741.4 964.0,729.4 964.6,741.8 965.2,729.0 965.8,741.3 966.4,729.7 967.0,741.2 967.6,728.9 968.2,740.9 968.8,729.2 969.4,740.4 970.0,727.9 970.6,740.7 971.2,728.9 971.8,740.7 972.4,728.1 973.0,739.6 973.6,728.4 974.2,740.0 974.8,728.3 975.4,740.5 976.0,727.1 976.6,740.0 977.2,727.5 977.8,740.3 978.4,727.9 979.0,740.8 979.6,728.8 980.2,740.1 980.8,729.3 981.4,740.7 982.0,729.6 982.6,741.4 983.2,728.2 983.8,741.1 984.4,728.3 985.0,741.9 985.6,728.1 986.2,740.1 986.8,727.2 987.4,739.6 988.0,727.2 988.6,738.6 989.2,727.1 989.8,739.1 990.4,726.2 991.0,738.6 991.6,726.7 992.2,738.7 992.8,725.6 993.4,737.5 994.0,725.9 994.6,738.3 995.2,725.8 995.8,737.1 996.4,725.2 997.0,737.3 997.6,724.9 998.2,737.1 998.8,725.5 999.4,737.7 1000.0,726.1 1000.6,738.8 1001.2,725.8 1001.8,738.6 1002.4,726.6 1003.0,739.3 1003.6,728.5 1004.2,740.2 1004.8,727.7 1005.4,740.0 1006.0,726.9 1006.6,740.2 1007.2,727.6 1007.8,739.1 1008.4,726.7 1009.0,739.3 1009.6,726.8 1010.2,739.0 1010.8,728.3 1011.4,739.5 1012.0,726.8 1012.6,740.5 1013.2,728.3 1013.8,741.1 1014.4,729.2 1015.0,740.6 1015.6,728.9 1016.2,740.4 1016.8,728.1 1017.4,740.6 1018.0,728.9 1018.6,740.5 1019.2,727.4 1019.8,740.7 1020.4,727.7 1021.0,740.6 1021.6,728.2 1022.2,741.7 1022.8,728.2 1023.4,739.9 1024.0,728.2 1024.6,740.7 1025.2,728.2 1025.8,740.3 1026.4,728.8 1027.0,740.5 1027.6,729.0 1028.2,741.6 1028.8,729.0 1029.4,742.4 1030.0,730.2 1030.6,742.0 1031.2,729.5 1031.8,743.4 1032.4,730.9 1033.0,742.4 1033.6,730.3 1034.2,742.8 1034.8,730.0 1035.4,743.2 1036.0,731.2 1036.6,742.6 1037.2,729.9 1037.8,742.1 1038.4,729.6 1039.0,742.5 1039.6,728.8 1040.2,740.2 1040.8,727.7 1041.4,740.6 1042.0,728.0 1042.6,739.8 1043.2,728.2 1043.8,741.6 1044.4,729.3 1045.0,742.0 1045.6,729.8 1046.2,743.0 1046.8,729.5 1047.4,742.5 1048.0,730.3 1048.6,742.5 1049.2,730.1 1049.8,741.9 1050.4,730.7 1051.0,742.9 1051.6,729.8 1052.2,742.1 1052.8,729.5 1053.4,741.5 1054.0,729.7 1054.6,741.9 1055.2,729.4 1055.8,741.4 1056.4,730.1 1057.0,741.8 1057.6,729.3 1058.2,741.1 1058.8,728.6 1059.4,741.7 1060.0,729.1 1060.6,740.9 1061.2,729.5 1061.8,741.4 1062.4,728.5 1063.0,740.8 1063.6,728.7 1064.2,739.7 1064.8,727.0 1065.4,739.8 1066.0,726.0 1066.6,738.2 1067.2,725.8 1067.8,738.0 1068.4,724.7 1069.0,737.1 1069.6,725.1 1070.2,737.7 1070.8,725.6 1071.4,738.6 1072.0,726.4 1072.6,738.7 1073.2,726.7 1073.8,738.9 1074.4,726.2 1075.0,739.0 1075.6,727.0 1076.2,739.1 1076.8,726.8 1077.4,739.3 1078.0,726.5 1078.6,738.9 1079.2,727.0 1079.8,739.2 1080.4,725.7 1081.0,737.1 1081.6,724.9 1082.2,736.5 1082.8,723.6 1083.4,735.3 1084.0,723.5 1084.6,734.4 1085.2,723.1 1085.8,735.1 1086.4,723.2 1087.0,735.3 1087.6,722.4 1088.2,735.7 1088.8,723.0 1089.4,735.7 1090.0,722.7 1090.6,734.4 1091.2,722.1 1091.7,734.4 1092.3,721.6 1092.9,733.8 1093.5,722.3 1094.1,733.5 1094.6,720.8 1095.2,733.6 1095.8,721.2 1096.4,732.7 1097.0,721.5 1097.5,733.6 1098.1,721.4 1098.7,733.4 1099.3,720.0 1099.9,732.8 1100.5,721.0 1101.0,732.3 1101.6,718.5 1102.2,731.8 1102.8,719.7 1103.4,731.9 1103.9,719.1 1104.5,731.3 1105.1,718.6 1105.7,731.1 1106.3,718.0 1106.8,730.2 1107.4,717.7 1108.0,729.5 1108.6,718.3 1109.1,730.8 1109.7,717.8 1110.3,730.7 1110.8,718.9 1111.4,731.2 1111.9,719.8 1112.5,731.7 1113.1,721.0 1113.6,732.6 1114.2,720.8 1114.8,734.3 1115.3,721.2 1115.9,734.0 1116.5,722.2 1117.0,734.1 1117.6,722.3 1118.2,734.0 1118.7,722.2 1119.3,733.2 1119.8,721.2 1120.4,733.4 1121.0,720.8 1121.5,733.8 1122.1,721.4 1122.7,734.0 1123.2,722.6 1123.8,734.5 1124.4,722.8 1124.9,735.9 1125.5,723.5 1126.1,736.0 1126.6,723.4 1127.2,736.9 1127.7,724.8 1128.3,736.7 1128.9,725.2 1129.4,737.6 1130.0,725.1 1130.6,737.8 1131.2,724.5 1131.8,736.7 1132.4,724.7 1133.0,737.5 1133.6,725.0 1134.2,737.4 1134.8,724.7 1135.4,736.9 1136.0,724.1 1136.6,736.3 1137.2,724.2 1137.8,735.9 1138.4,724.1 1139.0,736.1 1139.6,723.7 1140.2,735.2 1140.8,723.4 1141.4,735.7 1142.0,722.5 1142.6,735.3 1143.2,724.2 1143.8,736.9 1144.4,724.3 1145.0,736.7 1145.6,725.1 1146.2,737.9 1146.8,726.0 1147.4,738.3 1148.0,726.3 1148.6,737.7 1149.2,725.1 1149.8,737.4 1150.4,725.0 1151.0,736.8 1151.6,724.3 1152.2,736.5 1152.8,725.0 1153.4,736.6 1154.0,723.7 1154.6,735.4 1155.2,723.0 1155.8,734.0 1156.4,722.2 1157.0,733.1 1157.6,719.8 1158.2,732.7 1158.8,720.5 1159.4,732.9 1160.0,720.3 1160.6,733.2 1161.2,720.8 1161.7,733.2 1162.3,721.0 1162.9,733.1 1163.5,719.9 1164.1,732.0 1164.7,720.2 1165.2,732.5 1165.8,718.8 1166.4,731.8 1167.0,719.0 1167.6,730.3 1168.1,717.6 1168.7,730.5 1169.3,716.9 1169.9,730.7 1170.5,716.6 1171.1,728.6 1171.6,715.9 1172.2,728.6 1172.8,715.8 1173.2,728.7 1173.6,717.0 1174.0,730.1 1174.4,717.5 1174.8,730.9 1175.2,719.1 1175.6,731.6 1176.0,719.7 1176.4,733.3 1176.8,720.7 1177.2,733.2 1177.5,722.5 1177.9,734.8 1178.3,721.8 1178.7,736.9 1179.1,725.2 1179.5,737.0 1179.9,725.7 1180.3,738.3 1180.7,727.5 1181.1,740.4 1181.5,727.4 1181.9,740.0 1182.3,728.1 1182.8,739.7 1183.2,727.5 1183.6,738.5 1184.0,726.0 1184.5,738.1 1184.9,725.3 1185.3,736.5 1185.7,723.3 1186.2,735.6 1186.6,723.1 1187.0,735.3 1187.4,722.3 1187.9,733.7 1188.3,720.2 1188.7,732.0 1189.1,719.8 1189.5,731.9 1190.0,719.1 1190.4,732.0 1190.8,717.8 1191.2,730.3 1191.7,716.7 1192.1,727.8 1192.5,716.2 1193.0,728.0 1193.4,715.1 1193.8,726.6 1194.2,714.7 1194.7,726.2 1195.1,712.8 1195.5,725.6 1196.0,713.2 1196.5,726.1 1196.9,713.7 1197.4,726.8 1197.9,714.6 1198.4,727.5 1198.8,715.4 1199.3,728.2 1199.8,716.1 1200.3,728.1 1200.8,717.1 1201.2,729.5 1201.7,717.1 1202.2,730.3 1202.7,718.5 1203.1,732.0 1203.6,720.5 1204.1,732.2 1204.6,721.5 1205.0,734.4 1205.5,721.7 1206.0,735.0 1206.5,722.0 1206.9,734.5 1207.4,721.1 1207.8,733.2 1208.3,721.2 1208.7,733.7 1209.2,720.1 1209.6,731.1 1210.1,717.9 1210.6,730.7 1211.0,717.4 1211.5,729.3 1211.9,716.9 1212.4,728.0 1212.8,715.5 1213.3,727.0 1213.7,714.1 1214.2,725.9 1214.7,713.0 1215.1,724.6 1215.6,711.3 1216.0,723.9 1216.5,710.7 1216.9,722.8 1217.4,710.6 1217.8,721.4 1218.3,709.9 1218.7,721.6 1219.2,709.5 1219.6,722.8 1220.1,711.5 1220.5,723.8 1221.0,712.4 1221.4,724.3 1221.9,713.1 1222.3,725.6 1222.8,713.5 1223.2,727.1 1223.7,714.3 1224.1,728.0 1224.6,716.1 1225.0,728.4 1225.5,717.4 1225.9,730.4 1226.4,718.6 1226.8,730.2 1227.3,718.0 1227.7,732.3 1228.2,719.3 1228.6,732.8 1229.1,721.2 1229.5,734.4 1230.0,721.9 1230.4,734.5 1230.8,722.3 1231.1,733.7 1231.5,721.9 1231.9,733.4 1232.2,720.8 1232.6,732.4 1232.9,719.5 1233.3,731.4 1233.7,717.6 1234.0,730.3 1234.4,716.5 1234.8,728.2 1235.1,714.4 1235.5,727.3 1235.9,714.7 1236.2,726.5 1236.6,714.0 1237.0,725.8 1237.3,713.4 1237.7,725.0 1238.0,712.4 1238.4,724.5 1238.8,712.1 1239.1,724.4 1239.5,710.5 1239.8,723.8 1240.2,711.3 1240.5,725.0 1240.9,712.5 1241.2,725.8 1241.6,713.5 1242.0,726.7 1242.3,713.8 1242.7,726.8 1243.0,714.9 1243.3,728.5 1243.7,715.9 1244.0,728.4 1244.4,716.2 1244.8,729.5 1245.1,717.5 1245.5,731.0 1245.8,717.9 1246.2,731.5 1246.5,718.9 1246.8,731.7 1247.2,720.6 1247.5,733.3 1247.9,721.6 1248.2,734.1 1248.6,722.3 1249.0,734.8 1249.3,722.7 1249.7,736.4 1250.0,724.8 1250.3,736.3 1250.7,723.2 1251.0,735.6 1251.3,723.3 1251.7,734.4 1252.0,721.8 1252.3,733.6 1252.7,720.4 1253.0,733.2 1253.3,720.8 1253.7,732.2 1254.0,719.1 1254.3,732.0 1254.7,718.9 1255.0,729.9 1255.3,717.1 1255.6,728.7 1256.0,715.6 1256.3,728.1 1256.6,714.3 1257.0,727.1 1257.3,713.9 1257.6,725.3 1258.0,713.1 1258.3,724.7 1258.6,712.3 1259.0,723.8 1259.3,710.4 1259.6,724.4 1259.8,712.2 1260.1,726.0 1260.4,714.1 1260.7,728.1 1261.0,713.9 1261.2,727.5 1261.5,715.8 1261.8,728.7 1262.0,716.4 1262.3,729.2 1262.6,717.4 1262.9,729.5 1263.2,718.8 1263.4,730.8 1263.7,719.4 1264.0,731.3 1264.2,719.4 1264.5,733.1 1264.8,720.7 1265.1,734.2 1265.3,721.3 1265.6,734.2 1265.9,722.4 1266.2,735.7 1266.5,723.8 1266.7,737.5 1267.0,724.4 1267.3,739.3 1267.5,726.4 1267.8,740.5 1268.1,728.5 1268.4,741.1 1268.7,729.8 1268.9,743.4 1269.2,731.6 1269.5,743.5 1269.8,731.7 1270.0,744.9 1270.3,733.7 1270.6,745.5 1270.9,733.2 1271.1,746.7 1271.4,734.7 1271.9,746.0 1272.4,733.2 1272.9,745.7 1273.4,732.5 1273.9,744.4 1274.4,731.6 1274.9,743.0 1275.5,729.8 1276.0,743.0 1276.5,730.1 1277.0,742.7 1277.5,730.6 1278.0,742.0 1278.5,729.4 1279.0,742.6 1279.5,729.8 1280.0,741.1 1280.5,728.5 1281.0,739.9 1281.5,728.4 1282.0,740.6 1282.5,726.7 1283.1,739.9 1283.6,726.5 1284.1,739.1 1284.6,727.1 1285.1,738.1 1285.6,725.7 1286.1,738.7 1286.6,725.7 1287.1,738.9 1287.5,727.2 1288.0,739.7 1288.5,727.9 1289.0,740.5 1289.4,729.0 1289.9,742.0 1290.4,730.0 1290.9,742.1 1291.3,730.4 1291.8,743.1 1292.3,731.3 1292.8,743.7 1293.2,730.4 1293.7,743.7 1294.2,730.7 1294.7,744.0 1295.2,731.2 1295.6,744.7 1296.1,731.5 1296.6,745.5 1297.0,733.6 1297.5,745.5 1298.0,739.4 1298.4,741.2 1298.8,740.4 1299.1,742.3 1299.5,741.6 1299.5,742.2 1299.5,740.3 1299.5,740.9 1299.5,739.1 1299.6,739.7 1299.6,737.9 1299.6,738.6 1299.6,736.7 1299.6,737.3 1299.6,735.4 1299.6,736.1 1299.6,734.3 1299.7,734.9 1299.7,733.0 1299.7,733.6 1299.7,731.7 1299.7,732.4 1299.7,730.5 1299.7,731.1 1299.7,729.2 1299.7,729.9 1299.8,727.9 1299.8,728.7 1299.8,726.9 1299.8,727.5 1299.8,725.8 1299.8,726.3 1299.8,724.6 1299.8,725.1 1299.9,723.2 1299.9,724.0 1299.9,722.1 1299.9,722.6 1299.9,720.8 1299.9,721.5 1299.9,719.6 1299.9,720.2 1299.9,718.3 1300.0,719.0 1300.0,717.2 1300.0,718.0 1300.0,716.1 1300.0,716.8 1300.0,715.0 1300.0,715.7 1300.0,713.8 1300.1,714.4 1300.1,712.6 1300.1,713.2 1300.1,711.4 1300.1,712.0 1300.1,710.1 1300.1,710.9 1300.1,709.0 1300.1,709.6 1300.2,707.8 1300.2,708.4 1300.2,706.6 1300.2,707.3 1300.2,705.4 1300.2,706.0 1300.2,704.3 1300.2,704.9 1300.2,703.0 1300.3,703.7 1300.3,701.8 1300.3,702.4 1300.3,700.6 1300.3,701.2 1300.3,699.4 1300.3,700.0 1300.3,698.2 1300.4,698.8 1300.4,697.0 1300.4,697.7 1300.4,695.8 1300.4,696.4 1300.4,694.6 1300.4,695.2 1300.4,693.4 1300.4,694.0 1300.5,692.1 1300.5,692.8 1300.5,690.9 1300.5,691.6 1300.5,689.7 1300.5,690.4 1300.5,688.5 1300.5,689.2 1300.6,687.4 1300.6,688.0 1300.6,686.1 1300.6,686.7 1300.6,684.9 1300.6,685.6 1300.6,683.7 1300.6,684.3 1300.6,682.5 1300.7,683.1 1300.7,681.2 1300.7,681.9 1300.7,680.0 1300.7,680.6 1300.7,678.8 1300.7,679.4 1300.7,677.5 1300.8,678.2 1300.8,676.3 1300.8,676.9 1300.8,675.0 1300.8,675.7 1300.8,673.9 1300.8,674.5 1300.8,672.7 1300.8,673.4 1300.9,671.5 1300.9,672.3 1300.9,670.4 1300.9,671.0 1300.9,669.2 1300.9,669.7 1300.9,667.9 1300.9,668.6 1301.0,666.7 1301.0,667.3 1301.0,665.4 1301.0,666.1 1301.0,664.2 1301.4,664.9 1301.8,663.2 1302.1,664.0 1302.5,662.2 1302.6,664.1 1302.8,663.4 1302.9,665.2 1303.1,664.4 1303.2,666.5 1303.4,665.9 1303.5,667.7 1303.7,667.0 1303.8,668.8 1304.0,668.1 1304.1,670.1 1304.3,669.5 1304.4,671.4 1304.6,670.7 1304.7,672.5 1304.8,671.8 1305.0,673.5 1305.1,672.9 1305.3,674.6 1305.4,673.9 1305.6,675.8 1305.7,675.0 1305.9,676.9 1306.0,676.3 1306.2,678.1 1306.3,677.4 1306.5,679.2 1306.6,678.6 1306.8,680.4 1306.9,679.8 1307.0,681.7 1307.2,681.0 1307.3,682.8 1307.5,682.1 1307.6,683.9 1307.8,683.3 1307.9,685.2 1308.1,684.5 1308.2,686.4 1308.4,685.6 1308.5,687.6 1308.7,686.9 1308.8,688.8 1308.9,688.1 1309.1,690.1 1309.2,689.4 1309.4,691.3 1309.5,690.6 1309.7,692.6 1309.8,691.8 1310.0,693.6 1310.1,693.0 1310.3,694.7 1310.4,694.1 1310.6,695.9 1310.7,695.2 1310.9,696.9 1311.0,689.1 1311.7,701.3 1312.3,688.9 1313.0,702.3 1313.6,689.4 1314.2,701.0 1314.9,689.4 1315.5,701.8 1316.2,688.6 1316.8,700.8 1317.5,696.2 1317.5,696.9 1317.6,695.1 1317.6,695.8 1317.7,694.0 1317.7,694.6 1317.8,692.8 1317.8,693.5 1317.9,691.6 1317.9,692.2 1318.0,690.4 1318.0,691.0 1318.1,688.9 1318.1,689.6 1318.2,687.9 1318.2,688.4 1318.3,686.5 1318.3,687.1 1318.4,685.3 1318.4,686.0 1318.5,684.1 1318.5,684.9 1318.6,683.0 1318.6,683.6 1318.7,681.8 1318.7,682.6 1318.8,680.8 1318.8,681.3 1318.9,679.5 1318.9,680.1 1319.0,678.2 1319.0,678.8 1319.1,677.0 1319.1,677.7 1319.2,675.8 1319.2,676.4 1319.3,674.5 1319.3,675.2 1320.0,674.0 1320.7,675.3 1320.8,674.6 1320.8,676.5 1320.9,675.8 1321.0,677.6 1321.1,677.0 1321.1,678.8 1321.2,678.2 1321.3,680.0 1321.3,679.5 1321.4,681.2 1321.5,680.6 1321.6,682.5 1321.6,681.9 1321.7,683.7 1321.8,683.1 1321.8,684.9 1321.9,684.2 1322.0,686.1 1322.1,685.3 1322.1,687.2 1322.2,686.5 1322.3,688.4 1322.3,687.6 1322.4,689.5 1322.5,688.8 1322.6,690.7 1322.6,690.1 1322.7,692.0 1322.8,691.3 1322.9,693.1 1322.9,692.6 1323.0,694.4 1323.1,693.6 1323.1,695.5 1323.2,694.8 1323.3,696.7 1323.4,695.9 1323.4,697.8 1323.5,697.1 1323.6,698.9 1323.6,698.2 1323.7,700.1 1323.8,699.3 1323.9,701.4 1323.9,700.7 1324.0,708.2 1324.6,696.7 1325.1,708.8 1325.7,696.4 1326.3,710.2 1326.9,697.3 1327.4,711.1 1328.0,698.3 1328.6,710.3 1329.1,697.7 1329.7,711.4 1330.3,699.0 1330.9,712.1 1331.4,698.6 1332.0,712.1 1332.6,699.0 1333.2,711.4 1333.7,699.3 1334.3,713.0 1334.9,699.8 1335.5,712.9 1336.0,701.5 1336.6,713.6 1337.2,701.2 1337.8,713.5 1338.3,701.3 1338.9,714.1 1339.5,700.5 1340.1,713.9 1340.7,701.2 1341.2,713.5 1341.8,700.4 1342.4,714.6 1343.0,701.4 1343.5,715.2 1344.1,703.3 1344.7,716.8 1345.3,703.9 1345.8,717.7 1346.4,704.8 1347.0,717.7 1347.6,705.5 1348.2,718.7 1348.8,706.5 1349.4,718.9 1350.0,706.9 1350.5,719.9 1351.1,707.4 1351.7,720.1 1352.3,708.1 1352.9,720.4 1353.5,707.3 1354.1,719.8 1354.7,707.3 1355.3,719.4 1355.9,706.7 1356.4,718.5 1357.0,706.4 1357.6,718.2 1358.2,705.5 1358.8,718.3 1359.4,707.0 1359.9,719.1 1360.4,706.2 1360.8,717.6 1361.3,704.9 1361.8,717.4 1362.2,704.7 1362.7,716.7 1363.2,704.3 1363.7,716.9 1364.2,703.3 1364.6,716.3 1365.1,703.7 1365.6,716.1 1366.0,702.8 1366.5,714.5 1367.0,701.8 1367.4,715.6 1367.9,703.5 1368.3,715.9 1368.8,704.4 1369.2,717.2 1369.7,704.9 1370.1,718.8 1370.5,706.3 1371.0,719.6 1371.4,706.7 1371.9,720.0 1372.3,707.9 1372.7,720.5 1373.2,707.5 1373.6,720.0 1374.1,706.5 1374.5,720.7 1374.9,708.7 1375.4,721.0 1375.8,709.1 1376.3,722.0 1376.7,710.7 1377.2,723.7 1377.6,711.0 1378.2,723.9 1378.8,711.2 1379.4,724.0 1380.0,711.5 1380.6,724.5 1381.2,712.1 1381.9,725.6 1382.5,712.0 1383.1,724.6 1383.7,712.3 1384.3,725.2 1384.9,713.3 1385.5,725.9 1386.1,713.5 1386.7,725.8 1387.3,714.6 1387.9,727.3 1388.5,714.2 1389.2,726.9 1389.8,714.9 1390.4,729.0 1391.0,716.0 1391.6,728.4 1392.2,716.3 1392.8,729.0 1393.4,715.9 1394.0,729.6 1394.6,716.5 1395.1,729.5 1395.7,717.2 1396.3,729.7 1396.9,717.3 1397.5,730.1 1398.1,717.0 1398.6,730.0 1399.2,717.8 1399.8,730.1 1400.4,717.2 1401.0,730.5 1401.6,717.3 1402.2,729.9 1402.7,717.2 1403.3,729.9 1403.9,717.4 1404.5,730.2 1405.1,718.3 1405.7,731.0 1406.2,719.0 1406.8,732.1 1407.4,719.0 1408.0,731.4 1408.5,718.8 1409.1,731.4 1409.6,718.1 1410.2,731.2 1410.7,717.8 1411.3,730.4 1411.8,717.4 1412.4,729.3 1412.9,716.0 1413.5,728.5 1414.0,715.4 1414.5,729.7 1415.0,717.1 1415.5,729.5 1416.0,717.3 1416.5,731.0 1417.0,718.8 1417.5,731.4 1418.0,719.0 1418.5,731.5 1419.0,719.1 1419.5,732.2 1420.0,720.2 1420.5,733.7 1421.0,720.2 1421.5,733.6 1422.0,720.5 1422.5,734.6 1423.0,721.2 1423.6,734.5 1424.2,721.2 1424.8,733.1 1425.4,720.7 1426.0,734.0 1426.6,721.8 1427.2,734.6 1427.9,721.4 1428.5,734.4 1429.1,722.1 1429.7,735.1 1430.3,721.9 1430.9,736.6 1431.5,722.8 1432.1,734.7 1432.7,722.9 1433.3,735.8 1433.9,722.4 1434.5,735.3 1435.1,724.0 1435.7,736.9 1436.3,722.5 1437.0,735.9 1437.6,722.6 1438.2,734.7 1438.8,722.4 1439.4,735.1 1440.0,720.8 1440.6,733.2 1441.2,721.1 1441.8,733.4 1442.4,721.2 1443.0,733.4 1443.6,720.7 1444.2,733.5 1444.8,721.9 1445.4,734.5 1446.0,720.7 1446.7,734.5 1447.3,721.5 1447.9,733.9 1448.5,720.2 1449.1,733.1 1449.7,720.7 1450.3,732.7 1450.9,719.0 1451.5,731.4 1452.1,719.5 1452.7,731.9 1453.3,718.1 1453.9,731.5 1454.5,719.9 1455.1,732.8 1455.8,720.7 1456.4,732.3 1457.0,719.8 1457.6,733.3 1458.2,720.5 1458.8,732.7 1459.4,720.5 1460.0,733.1 1460.6,720.9 1461.2,733.1 1461.8,720.5 1462.4,732.5 1463.0,720.8 1463.6,733.6 1464.2,719.9 1464.8,732.8 1465.5,719.8 1466.1,733.1 1466.7,720.1 1467.3,732.8 1467.9,719.0 1468.5,731.5 1469.1,719.1 1469.7,731.9 1470.3,719.7 1470.9,731.1 1471.5,719.3 1472.1,730.9 1472.7,718.8 1473.3,730.7 1473.9,717.9 1474.5,731.0 1475.2,718.4 1475.8,730.2 1476.4,717.6 1477.0,730.4 1477.6,717.6 1478.2,730.0 1478.8,717.3 1479.4,730.9 1480.0,718.0 1480.6,730.1 1481.2,717.6 1481.9,730.1 1482.5,717.2 1483.1,729.6 1483.7,717.6 1484.3,730.1 1485.0,716.7 1485.6,729.7 1486.2,717.3 1486.8,730.2 1487.4,716.8 1488.0,730.1 1488.7,717.4 1489.3,731.8 1489.9,716.9 1490.5,730.6 1491.1,717.3 1491.8,729.3 1492.4,716.4 1493.0,729.1 1493.6,716.2 1494.1,728.7 1494.7,714.3 1495.3,727.6 1495.8,715.0 1496.4,728.7 1497.0,715.1 1497.5,727.8 1498.1,714.4 1498.7,729.1 1499.2,715.7 1499.8,729.7 1500.4,716.6 1500.9,729.1 1501.5,717.4 1502.1,730.0 1502.6,718.3 1503.2,731.6 1503.8,719.8 1504.3,732.0 1504.9,719.7 1505.5,733.4 1506.0,721.9 1506.6,734.4 1507.2,722.3 1507.7,735.2 1508.3,722.4 1508.9,735.9 1509.4,722.5 1510.0,736.0 1510.6,723.7 1511.2,735.6 1511.8,722.5 1512.4,735.7 1513.0,723.2 1513.6,735.7 1514.2,722.8 1514.8,735.8 1515.5,723.3 1516.1,736.6 1516.7,722.8 1517.3,734.9 1517.9,722.3 1518.5,736.4 1519.1,722.6 1519.7,735.5 1520.3,722.3 1520.9,734.7 1521.5,723.0 1522.1,735.9 1522.7,723.3 1523.3,736.1 1523.9,723.3 1524.5,736.3 1525.2,723.4 1525.8,737.1 1526.4,724.3 1527.0,736.8 1527.6,724.2 1528.2,736.7 1528.8,724.0 1529.4,735.8 1530.0,723.3 1530.6,735.8 1531.2,723.7 1531.8,736.6 1532.4,723.1 1533.1,735.9 1533.7,723.0 1534.3,736.3 1534.9,723.7 1535.5,736.6 1536.1,723.2 1536.7,736.2 1537.3,723.5 1537.9,737.3 1538.6,723.8 1539.2,737.0 1539.8,724.6 1540.4,737.1 1541.0,725.2 1541.6,737.2 1542.1,724.4 1542.7,737.1 1543.3,723.3 1543.8,735.9 1544.4,723.0 1545.0,736.3 1545.6,722.8 1546.1,736.5 1546.7,721.6 1547.3,736.3 1547.8,722.8 1548.4,735.9 1549.0,723.0 1549.6,735.5 1550.1,723.1 1550.7,735.5 1551.3,722.3 1551.8,734.9 1552.4,727.3 1552.4,727.9 1552.5,726.0 1552.5,726.8 1552.5,724.9 1552.5,725.4 1552.6,723.7 1552.6,724.3 1552.6,722.4 1552.6,723.1 1552.7,721.2 1552.7,721.8 1552.7,719.9 1552.8,720.5 1552.8,718.7 1552.8,719.5 1552.8,717.6 1552.9,718.2 1552.9,716.4 1552.9,717.0 1553.0,715.1 1553.0,715.9 1553.0,713.9 1553.0,714.6 1553.1,712.8 1553.1,713.4 1553.1,711.5 1553.1,712.4 1553.2,710.4 1553.2,711.1 1553.2,709.2 1553.3,709.8 1553.3,707.9 1553.3,708.5 1553.3,706.6 1553.4,707.2 1553.4,705.3 1553.4,705.9 1553.4,704.0 1553.5,704.6 1553.5,702.8 1553.5,704.8 1553.6,704.0 1553.6,705.9 1553.6,705.3 1553.6,707.2 1553.7,706.5 1553.7,708.6 1553.7,707.8 1553.7,709.7 1553.8,709.0 1553.8,710.9 1553.8,710.2 1553.9,712.1 1553.9,711.5 1553.9,713.3 1553.9,712.6 1554.0,714.5 1554.0,713.8 1554.0,715.8 1554.0,715.2 1554.1,717.1 1554.1,716.3 1554.1,718.4 1554.2,717.7 1554.2,719.6 1554.2,718.9 1554.2,720.8 1554.3,720.1 1554.3,722.0 1554.3,721.3 1554.4,723.3 1554.4,722.6 1554.4,724.3 1554.4,723.7 1554.5,725.6 1554.5,725.0 1554.5,726.8 1554.5,726.1 1554.6,728.0 1554.6,720.7 1555.1,733.5 1555.7,721.0 1556.2,734.7 1556.8,721.6 1557.3,734.5 1557.9,721.9 1558.4,734.9 1558.9,723.1 1559.5,736.1 1560.0,723.7 1560.6,736.5 1561.1,723.9 1561.7,736.3 1562.2,724.8 1562.7,737.3 1563.3,724.2 1563.8,738.2 1564.4,724.9 1564.9,738.0 1565.5,725.9 1566.0,738.4 1566.6,724.3 1567.2,737.7 1567.8,726.1 1568.4,738.4 1568.9,726.1 1569.5,738.0 1570.1,725.4 1570.7,738.8 1571.3,726.7 1571.9,739.5 1572.5,726.1 1573.1,738.4 1573.7,725.6 1574.2,737.4 1574.8,725.3 1575.4,737.3 1576.0,724.6 1576.6,736.8 1577.2,724.5 1577.8,737.0 1578.4,724.3 1579.0,736.5 1579.5,724.0 1580.1,736.4 1580.7,722.8 1581.3,735.3 1581.9,729.2 1581.9,729.9 1582.0,727.9 1582.0,728.7 1582.0,726.7 1582.1,727.5 1582.1,725.6 1582.1,726.2 1582.2,724.4 1582.2,725.0 1582.2,723.2 1582.2,723.8 1582.3,721.9 1582.3,722.5 1582.3,720.7 1582.4,721.4 1582.4,719.5 1582.4,720.2 1582.5,718.3 1582.5,718.8 1582.5,717.0 1582.6,717.7 1582.6,715.8 1582.6,716.6 1582.7,714.6 1582.7,715.3 1582.7,713.5 1582.7,714.2 1582.8,712.3 1582.8,712.9 1582.8,711.0 1582.9,711.7 1582.9,709.6 1582.9,710.3 1583.0,708.4 1583.0,709.0 1583.0,708.4 1583.1,710.2 1583.1,709.6 1583.1,711.5 1583.2,710.9 1583.2,712.9 1583.2,712.2 1583.3,714.2 1583.3,713.5 1583.3,715.4 1583.3,714.8 1583.4,716.7 1583.4,715.9 1583.4,717.9 1583.5,717.2 1583.5,719.1 1583.5,718.3 1583.6,720.4 1583.6,719.5 1583.6,721.4 1583.7,720.7 1583.7,722.6 1583.7,721.9 1583.8,723.9 1583.8,723.3 1583.8,725.2 1583.8,724.5 1583.9,726.4 1583.9,725.6 1583.9,727.6 1584.0,726.9 1584.0,728.9 1584.0,728.2 1584.1,730.0 1584.1,722.4 1584.7,735.8 1585.3,723.7 1585.9,735.6 1586.5,724.0 1587.1,736.7 1587.7,724.0 1588.3,735.9 1588.9,723.9 1589.5,736.7 1590.1,724.0 1590.7,737.2 1591.3,723.8 1591.9,737.2 1592.5,723.8 1593.1,737.6 1593.7,724.3 1594.3,737.1 1594.9,723.8 1595.5,737.2 1596.1,723.7 1596.7,736.2 1597.4,723.6 1598.0,736.8 1598.6,724.0 1599.2,736.7 1599.8,722.5 1600.4,736.3 1601.0,722.7 1601.6,735.2 1602.2,722.9 1602.8,734.8 1603.4,721.7 1604.0,734.4 1604.6,722.1 1605.2,734.4 1605.8,721.6 1606.4,734.6 1607.0,722.0 1607.6,735.0 1608.2,722.0 1608.8,735.3 1609.4,722.5 1610.0,736.2 1610.6,722.3 1611.1,735.3 1611.7,723.1 1612.3,735.8 1612.9,723.8 1613.4,736.6 1614.0,724.3 1614.6,736.4 1615.1,724.6 1615.7,737.1 1616.3,724.8 1616.9,738.4 1617.4,724.8 1618.0,738.6 1618.6,725.7 1619.1,739.3 1619.7,725.5 1620.3,738.4 1620.9,726.3 1621.4,738.9 1622.0,725.8 1622.6,738.4 1623.1,725.1 1623.7,739.1 1624.3,727.1 1624.9,740.1 1625.4,727.4 1626.0,740.5 1626.6,728.2 1627.1,740.6 1627.7,728.8 1628.3,741.8 1628.9,728.7 1629.4,741.6 1630.0,730.2 1630.6,742.2 1631.2,729.7 1631.8,742.8 1632.4,729.5 1633.1,742.4 1633.7,729.7 1634.3,743.5 1634.9,729.9 1635.5,742.4 1636.1,729.3 1636.7,743.2 1637.3,728.3 1637.9,740.7 1638.6,728.8 1639.2,740.1 1639.8,728.3 1640.4,740.8 1641.0,726.8 1641.6,740.7 1642.2,726.9 1642.8,740.6 1643.4,727.1 1644.1,739.6 1644.7,727.3 1645.3,739.7 1645.9,726.3 1646.5,734.5 1646.5,732.7 1646.6,733.4 1646.6,731.4 1646.7,732.1 1646.7,730.3 1646.8,730.9 1646.8,729.1 1646.9,729.7 1646.9,727.9 1646.9,728.6 1647.0,726.8 1647.0,727.4 1647.1,725.6 1647.1,726.4 1647.2,724.5 1647.2,725.1 1647.2,723.1 1647.3,724.0 1647.3,722.0 1647.4,722.7 1647.4,720.8 1647.5,721.5 1647.5,719.7 1647.6,720.3 1647.6,718.4 1647.6,720.4 1647.7,719.7 1647.7,721.5 1647.8,720.9 1647.8,722.9 1647.8,722.2 1647.9,724.0 1647.9,723.4 1648.0,725.2 1648.0,724.6 1648.0,726.5 1648.1,725.8 1648.1,727.6 1648.2,727.0 1648.2,728.8 1648.2,728.1 1648.3,730.0 1648.3,729.2 1648.4,731.1 1648.4,730.4 1648.4,732.4 1648.5,731.6 1648.5,733.4 1648.6,732.7 1648.6,734.6 1648.6,733.9 1648.7,735.7 1648.7,735.0 1648.8,736.9 1648.8,736.2 1648.8,738.2 1648.9,737.5 1648.9,739.4 1649.0,738.6 1649.0,745.3 1649.5,732.1 1649.9,745.3 1650.4,733.6 1650.9,746.4 1651.3,734.7 1651.8,748.4 1652.3,735.5 1652.7,749.5 1653.2,735.9 1653.7,749.0 1654.1,736.6 1654.6,749.9 1655.1,737.1 1655.5,750.9 1656.0,738.0 1656.6,750.7 1657.2,738.2 1657.8,751.0 1658.3,738.3 1658.9,750.8 1659.5,738.4 1660.1,750.9 1660.7,737.6 1661.2,751.1 1661.8,738.2 1662.4,751.6 1663.0,738.1 1663.6,751.0 1664.2,737.6 1664.8,750.4 1665.3,738.6 1665.9,750.9 1666.5,737.9 1667.1,750.1 1667.7,737.2 1668.2,751.0 1668.8,737.7 1669.4,749.8 1670.0,736.5 1670.6,750.5 1671.2,737.2 1671.8,749.5 1672.4,736.6 1673.0,749.6 1673.6,736.5 1674.2,748.6 1674.8,735.6 1675.5,748.1 1676.1,735.5 1676.7,747.0 1677.3,734.1 1677.9,746.2 1678.5,733.1 1679.1,746.3 1679.7,733.5 1680.3,747.1 1680.9,733.5 1681.5,747.2 1682.1,734.8 1682.7,747.0 1683.3,734.3 1683.9,746.8 1684.5,734.3 1685.2,747.8 1685.8,734.1 1686.4,746.4 1687.0,732.9 1687.6,745.5 1688.2,733.1 1688.8,745.2 1689.4,732.6 1690.0,745.2 1690.6,732.1 1691.2,744.5 1691.8,732.8 1692.4,746.4 1692.9,732.4 1693.5,745.8 1694.1,733.6 1694.7,745.7 1695.3,733.7 1695.9,747.0 1696.5,733.9 1697.1,747.2 1697.6,735.1 1698.2,748.5 1698.8,735.8 1699.4,749.3 1700.0,736.7 1700.5,748.8 1701.1,735.1 1701.6,748.1 1702.2,734.8 1702.7,747.3 1703.3,733.6 1703.8,745.2 1704.4,730.8 1704.9,744.5 1705.5,731.9 1706.0,743.6 1706.5,731.0 1707.1,743.3 1707.6,730.2 1708.2,743.2 1708.7,729.7 1709.3,741.7 1709.8,728.4 1710.4,741.4 1710.9,729.4 1711.5,742.4 1712.0,728.9 1712.6,742.3 1713.1,729.6 1713.7,742.7 1714.3,731.7 1714.9,743.8 1715.4,732.1 1716.0,745.1 1716.6,732.1 1717.2,744.1 1717.7,732.2 1718.3,743.9 1718.9,731.3 1719.5,746.0 1720.0,731.3 1720.6,744.9 1721.2,731.1 1721.8,744.5 1722.3,731.9 1722.9,745.4 1723.5,732.8 1724.1,745.8 1724.6,733.0 1725.2,746.3 1725.8,733.8 1726.4,746.4 1726.9,734.7 1727.5,747.7 1728.1,734.4 1728.7,749.1 1729.2,735.7 1729.8,747.8 1730.4,736.3 1731.0,749.3 1731.5,736.8 1732.1,749.5 1732.7,737.1 1733.3,749.3 1733.8,736.5 1734.4,750.1 1735.0,738.1 1735.6,750.3 1736.1,738.5 1736.7,750.7 1737.3,738.0 1737.9,750.9 1738.4,737.5 1739.0,749.8 1739.6,737.6 1740.2,749.7 1740.8,735.9 1741.4,748.5 1742.0,736.7 1742.6,749.5 1743.2,736.1 1743.8,749.6 1744.4,736.8 1745.0,749.1 1745.6,736.2 1746.2,748.5 1746.8,736.6 1747.4,749.5 1748.0,736.0 1748.6,748.5 1749.2,736.8 1749.8,749.3 1750.4,736.6 1751.0,749.7 1751.6,735.9 1752.2,749.5 1752.8,736.3 1753.4,748.3 1754.0,735.9 1754.6,748.6 1755.2,735.4 1755.8,749.0 1756.4,735.3 1757.0,749.1 1757.6,736.4 1758.2,748.0 1758.8,734.6 1759.4,747.9 1760.0,735.4 1760.6,747.0 1761.2,734.0 1761.8,747.0 1762.4,733.4 1763.0,746.3 1763.6,734.2 1764.2,747.2 1764.8,734.3 1765.4,746.4 1766.0,733.8 1766.6,747.3 1767.2,734.3 1767.8,747.4 1768.4,735.6 1769.0,748.5 1769.6,735.9 1770.2,748.0 1770.9,736.4 1771.5,748.7 1772.1,735.7 1772.7,749.7 1773.3,737.1 1773.9,749.8 1774.5,736.3 1775.1,748.7 1775.7,736.7 1776.3,749.4 1776.9,735.4 1777.5,748.0 1778.1,735.2 1778.8,748.1 1779.4,735.4 1780.0,747.4 1780.6,735.2 1781.2,748.7 1781.8,735.9 1782.4,748.3 1783.0,735.1 1783.6,748.4 1784.2,735.8 1784.8,749.3 1785.4,735.9 1786.0,748.8 1786.6,735.1 1787.2,748.4 1787.9,734.6 1788.5,747.6 1789.1,734.5 1789.7,747.0 1790.3,734.1 1790.9,748.1 1791.5,733.5 1792.1,747.5 1792.7,735.3 1793.3,747.9 1793.9,734.7 1794.5,748.6 1795.1,735.6 1795.8,748.1 1796.4,736.3 1797.0,748.0 1797.6,735.6 1798.2,749.6 1798.8,736.3 1799.4,749.5 1800.0,736.6 1800.6,750.0 1801.2,737.3 1801.8,749.8 1802.4,736.7 1803.0,750.0 1803.6,736.8 1804.2,749.5 1804.8,736.4 1805.4,749.3 1806.0,735.2 1806.6,747.5 1807.2,736.2 1807.8,749.1 1808.4,736.4 1809.0,749.1 1809.6,737.1 1810.2,750.4 1810.8,737.4 1811.4,751.7 1812.0,738.4 1812.6,751.5 1813.2,738.3 1813.8,751.8 1814.4,738.6 1815.0,752.4 1815.6,738.3 1816.2,751.9 1816.8,739.0 1817.4,752.1 1818.0,739.2 1818.6,751.6 1819.2,738.2 1819.8,750.8 1820.4,737.2 1821.0,750.4 1821.6,737.2 1822.2,750.7 1822.8,735.6 1823.4,749.0 1824.0,736.4 1824.6,750.1 1825.2,737.6 1825.8,750.7 1826.4,739.2 1827.0,752.2 1827.6,739.6 1828.2,752.6 1828.8,739.8 1829.4,752.6 1830.0,744.0 1830.4,744.8 1830.7,743.0 1831.1,743.7 1831.5,741.9 1831.9,742.7 1832.2,740.8 1832.6,741.6 1832.6,739.8 1832.6,740.5 1832.6,738.6 1832.6,739.3 1832.7,737.4 1832.7,738.1 1832.7,736.2 1832.7,736.9 1832.7,735.0 1832.7,735.7 1832.7,733.8 1832.7,734.5 1832.7,732.6 1832.7,733.4 1832.8,731.5 1832.8,732.1 1832.8,730.3 1832.8,731.0 1832.8,729.0 1832.8,729.7 1832.8,727.7 1832.8,728.4 1832.8,726.6 1832.9,727.1 1832.9,725.3 1832.9,726.0 1832.9,724.0 1832.9,724.8 1832.9,722.8 1832.9,723.6 1832.9,721.7 1832.9,722.3 1832.9,720.6 1833.0,721.3 1833.0,719.4 1833.0,720.1 1833.0,718.2 1833.0,718.8 1833.0,716.9 1833.0,717.6 1833.0,715.7 1833.0,716.5 1833.1,714.5 1833.1,715.2 1833.1,713.4 1833.1,714.1 1833.1,712.2 1833.1,712.9 1833.1,710.9 1833.1,711.7 1833.1,709.7 1833.1,710.4 1833.2,708.6 1833.2,709.3 1833.2,707.4 1833.2,708.0 1833.2,706.1 1833.2,706.7 1833.2,704.8 1833.2,705.5 1833.2,703.6 1833.3,704.3 1833.3,702.3 1833.3,703.1 1833.3,701.2 1833.3,702.0 1833.3,700.1 1833.3,700.8 1833.3,698.9 1833.3,699.6 1833.3,697.8 1833.4,698.5 1833.4,696.6 1833.4,697.3 1833.4,695.3 1833.4,696.1 1833.4,694.3 1833.4,694.8 1833.4,693.0 1833.4,693.8 1833.5,691.8 1833.5,692.4 1833.5,690.6 1833.5,691.3 1833.5,689.4 1833.5,690.0 1833.5,688.1 1833.5,688.7 1833.5,686.9 1833.5,687.6 1833.6,685.7 1833.6,686.4 1833.6,684.4 1833.6,685.1 1833.6,683.3 1833.6,683.9 1833.6,682.1 1833.6,682.7 1833.6,680.8 1833.7,681.5 1833.7,679.5 1833.7,680.2 1833.7,678.3 1833.7,678.9 1833.7,677.1 1833.7,677.7 1833.7,675.9 1833.7,676.6 1833.7,674.6 1833.8,675.3 1833.8,673.4 1833.8,674.1 1833.8,672.3 1833.8,673.1 1833.8,671.2 1833.8,671.9 1833.8,670.0 1833.8,670.6 1833.9,668.8 1833.9,669.4 1833.9,667.6 1833.9,668.2 1833.9,666.3 1833.9,667.0 1833.9,665.1 1833.9,665.8 1833.9,664.0 1833.9,664.6 1834.0,662.7 1834.0,663.5 1834.0,661.6 1834.0,662.2 1834.0,660.4 1834.0,662.3 1834.0,661.6 1834.1,663.6 1834.1,662.9 1834.1,664.8 1834.1,664.0 1834.2,666.0 1834.2,665.3 1834.2,667.2 1834.2,666.5 1834.3,668.5 1834.3,667.7 1834.3,669.6 1834.3,668.9 1834.4,670.8 1834.4,670.1 1834.4,671.9 1834.4,671.3 1834.5,673.2 1834.5,672.5 1834.5,674.4 1834.5,673.7 1834.6,675.7 1834.6,674.9 1834.6,676.8 1834.6,676.0 1834.7,677.9 1834.7,677.3 1834.7,679.2 1834.7,678.5 1834.8,680.3 1834.8,679.8 1834.8,681.6 1834.8,680.8 1834.9,682.9 1834.9,682.3 1834.9,684.1 1834.9,683.5 1835.0,685.3 1835.0,684.7 1835.0,686.5 1835.0,685.9 1835.1,687.7 1835.1,687.1 1835.1,689.0 1835.1,688.4 1835.2,690.2 1835.2,689.5 1835.2,691.4 1835.2,690.6 1835.3,692.6 1835.3,691.9 1835.3,693.7 1835.3,693.0 1835.4,694.9 1835.4,694.2 1835.4,696.1 1835.4,695.5 1835.5,697.4 1835.5,696.8 1835.5,705.2 1836.0,693.2 1836.6,706.0 1837.1,693.5 1837.6,706.5 1838.1,694.4 1838.7,708.3 1839.2,694.8 1839.7,707.4 1840.2,696.1 1840.8,708.0 1841.3,695.4 1841.8,708.4 1842.4,696.8 1842.9,708.8 1843.4,696.5 1843.9,710.1 1844.5,696.4 1845.0,709.4 1845.4,696.6 1845.8,710.7 1846.2,696.9 1846.6,710.8 1847.0,698.7 1847.4,712.5 1847.9,700.9 1848.3,714.1 1848.7,702.5 1849.1,715.9 1849.5,704.2 1849.9,716.8 1850.3,704.9 1850.7,717.7 1851.1,704.8 1851.5,717.9 1851.9,704.5 1852.3,717.5 1852.7,705.3 1853.1,717.7 1853.6,705.4 1854.0,718.9 1854.4,706.1 1854.8,720.0 1855.2,707.1 1855.6,721.6 1856.0,708.5 1856.4,722.5 1856.8,709.9 1857.2,723.6 1857.6,711.1 1858.0,724.6 1858.4,712.5 1858.9,726.0 1859.3,713.8 1859.7,726.5 1860.1,715.2 1860.5,728.3 1860.9,716.5 1861.3,729.2 1861.7,715.1 1862.1,730.0 1862.5,717.1 1862.9,731.3 1863.3,718.4 1863.7,731.7 1864.1,718.9 1864.6,732.2 1865.0,719.2 1865.4,733.5 1865.8,721.0 1866.2,734.0 1866.6,721.3 1867.0,734.4 1867.6,721.7 1868.2,735.7 1868.8,722.7 1869.3,735.7 1869.9,722.2 1870.5,735.8 1871.1,723.6 1871.7,737.0 1872.3,723.4 1872.9,736.8 1873.4,724.5 1874.0,737.8 1874.6,723.9 1875.2,738.1 1875.8,724.7 1876.4,737.5 1877.0,724.6 1877.5,738.5 1878.1,725.5 1878.7,738.3 1879.3,724.8 1879.9,738.5 1880.5,725.8 1881.1,738.4 1881.6,726.3 1882.2,738.4 1882.8,724.7 1883.4,739.2 1884.0,725.6 1884.6,739.5 1885.2,727.1 1885.7,740.1 1886.3,727.2 1886.9,739.4 1887.5,726.9 1888.1,741.4 1888.7,727.7 1889.3,740.0 1889.9,726.7 1890.6,741.6 1891.2,727.6 1891.8,739.4 1892.4,726.4 1893.0,740.5"/>
<line x1="329.3" y1="1050.0" x2="329.3" y2="1098.0" stroke="#008000" stroke-width="6.2" stroke-linecap="butt"/>
<line x1="329.3" y1="1158.0" x2="329.3" y2="1193.0" stroke="#008000" stroke-width="6.2" stroke-linecap="butt"/>
<line x1="336.2" y1="1136.0" x2="336.2" y2="1206.0" stroke="#008000" stroke-width="6.2" stroke-linecap="butt"/>
<polyline stroke="#008000" stroke-width="5.8" points="336.0,1074.6 336.2,1068.8 336.4,1073.6 336.6,1067.8 336.9,1072.1 337.1,1066.3 337.3,1071.3 337.5,1065.3 337.7,1070.1 337.9,1063.8 338.2,1068.9 338.4,1062.9 338.6,1067.6 338.8,1061.7 339.0,1066.6 339.2,1060.9 339.4,1065.2 339.7,1059.4 339.9,1064.1 340.1,1058.3 340.3,1062.9 340.5,1057.3 340.7,1061.7 341.0,1056.4 341.2,1060.7 341.4,1054.8 341.6,1059.9 341.8,1053.9 342.0,1058.3 342.2,1052.4 342.5,1057.6 342.7,1051.4 342.9,1056.4 343.1,1050.2 343.3,1055.3 343.5,1049.4 343.8,1053.9 344.0,1047.9 344.2,1052.9 344.4,1046.6 344.6,1051.6 344.8,1045.7 345.0,1050.8 345.3,1044.5 345.5,1049.3 345.7,1043.4 345.9,1048.7 346.1,1042.8 346.3,1047.3 346.6,1041.7 346.8,1046.5 347.0,1040.1 347.2,1045.2 347.4,1039.1 347.6,1044.3 347.8,1037.7 348.1,1043.1 348.3,1036.9 348.5,1041.7 348.7,1035.6 348.9,1040.6 349.1,1035.0 349.4,1039.8 349.6,1033.5 349.8,1038.1 350.0,1032.1 350.3,1037.8 350.6,1031.4 350.9,1036.5 351.2,1030.1 351.4,1035.6 351.7,1028.4 352.0,1034.1 352.3,1028.1 352.6,1033.0 352.9,1026.9 353.2,1032.3 353.5,1025.9 353.8,1031.3 354.1,1024.9 354.3,1030.1 354.6,1023.2 354.9,1028.5 355.2,1022.3 355.5,1027.6 355.8,1021.5 356.1,1026.8 356.4,1020.7 356.7,1025.9 357.0,1019.6 357.2,1024.8 357.5,1018.3 357.8,1023.7 358.1,1017.2 358.4,1022.6 358.7,1016.5 359.0,1021.7 359.3,1015.4 359.6,1020.3 359.8,1014.1 360.1,1019.1 360.4,1012.8 360.7,1018.6 361.0,1012.0 361.3,1017.2 361.6,1010.9 361.9,1015.9 362.2,1010.0 362.5,1015.1 362.7,1008.9 363.0,1014.1 363.3,1007.4 363.6,1012.7 363.9,1006.3 364.2,1011.9 364.5,1005.7 364.8,1011.1 365.1,1004.4 365.4,1009.9 365.6,1003.1 365.9,1009.1 366.2,1002.3 366.5,1007.9 366.8,1001.3 367.1,1006.6 367.4,1000.3 367.7,1005.9 368.0,999.4 368.2,1004.9 368.5,998.1 368.8,1003.5 369.1,997.3 369.4,1002.8 369.7,996.1 370.0,1001.7 370.3,995.5 370.6,1000.4 370.9,994.0 371.1,999.5 371.4,993.1 371.7,998.6 372.0,991.7 372.3,997.7 372.6,991.0 372.9,996.3 373.2,989.9 373.5,995.2 373.7,989.1 374.0,994.4 374.3,987.7 374.6,993.0 374.9,986.6 375.2,992.5 375.5,985.8 375.8,991.0 376.1,984.7 376.4,990.1 376.6,983.6 376.9,988.9 377.2,982.3 377.5,988.2 377.8,981.7 378.1,987.0 378.4,979.6 378.7,985.9 379.0,979.4 379.3,985.0 379.5,978.3 379.8,983.7 380.1,977.2 380.4,982.1 380.7,976.2 381.0,981.3 381.3,974.7 381.6,980.2 381.8,973.1 382.1,979.2 382.4,972.6 382.7,978.5 383.0,971.5 383.3,976.9 383.6,970.4 383.8,976.0 384.1,969.6 384.4,975.3 384.7,968.7 385.0,974.4 385.3,967.3 385.6,973.4 385.8,966.2 386.1,972.2 386.4,965.3 386.7,971.1 387.0,964.1 387.3,970.3 387.6,963.1 387.8,969.0 388.1,962.6 388.4,968.1 388.7,961.3 389.0,967.1 389.3,959.5 389.6,965.9 389.8,959.2 390.1,964.6 390.4,958.3 390.7,963.9 391.0,957.0 391.3,962.9 391.6,955.7 391.8,961.8 392.1,955.0 392.4,960.8 392.7,953.8 393.0,959.4 393.3,953.1 393.6,958.7 393.8,951.5 394.1,957.6 394.4,950.4 394.7,955.9 395.0,949.3 395.3,954.9 395.6,948.6 395.9,954.0 396.1,947.4 396.4,952.5 396.7,946.0 397.0,951.6 397.3,945.0 397.6,950.8 397.9,944.2 398.1,950.0 398.4,943.3 398.7,948.6 399.0,942.5 399.3,947.7 399.6,940.9 399.9,946.5 400.1,940.1 400.4,945.4 400.7,938.9 401.0,944.9 401.3,937.8 401.6,943.5 401.9,936.6 402.1,942.3 402.4,935.8 402.7,941.5 403.0,934.8 403.3,940.2 403.6,933.4 403.9,939.2 404.1,932.3 404.4,938.5 404.7,931.7 405.0,937.4 405.3,930.3 405.6,936.1 405.9,929.2 406.1,935.2 406.4,928.5 406.7,933.6 407.0,927.4 407.3,932.7 407.6,926.0 407.9,932.0 408.1,925.3 408.4,930.5 408.7,924.0 409.0,929.8 409.3,923.1 409.6,928.5 409.9,921.6 410.1,927.8 410.4,921.1 410.7,926.7 411.0,919.7 411.3,925.2 411.6,918.6 411.9,924.4 412.2,917.4 412.6,923.7 412.9,916.8 413.2,922.3 413.5,915.7 413.8,921.9 414.1,914.9 414.4,920.4 414.7,913.9 415.1,919.8 415.4,912.9 415.7,918.6 416.0,912.0 416.3,917.5 416.6,910.9 416.9,916.4 417.2,909.8 417.5,915.2 417.9,909.0 418.2,914.3 418.5,908.0 418.8,913.2 419.1,906.4 419.4,912.0 419.7,905.6 420.0,911.2 420.3,904.4 420.7,910.0 421.0,903.1 421.3,909.3 421.6,902.4 421.9,908.3 422.2,901.1 422.5,907.2 422.8,900.1 423.1,906.2 423.5,899.6 423.8,905.0 424.1,897.5 424.4,904.1 424.7,897.0 425.0,902.9 425.3,896.5 425.6,902.5 426.0,895.1 426.3,901.5 426.6,894.5 426.9,900.3 427.2,893.1 427.5,899.0 427.8,892.3 428.1,898.1 428.4,891.3 428.8,897.1 429.1,889.9 429.4,896.3 429.7,889.2 430.0,895.0 430.3,887.9 430.6,894.3 430.9,887.3 431.2,892.9 431.6,886.2 431.9,892.1 432.2,885.0 432.5,891.1 432.8,883.8 433.1,890.0 433.4,883.2 433.7,889.0 434.1,881.8 434.4,887.7 434.7,880.9 435.0,887.1 435.3,879.9 435.6,885.8 435.9,878.9 436.2,884.9 436.5,877.5 436.7,883.4 437.0,876.8 437.3,882.5 437.6,875.7 437.9,881.2 438.2,874.6 438.5,880.1 438.8,873.5 439.0,879.2 439.3,872.5 439.6,878.3 439.9,871.4 440.2,877.2 440.5,870.2 440.8,876.5 441.1,869.2 441.3,875.3 441.6,868.1 441.9,874.5 442.2,866.8 442.5,873.2 442.8,866.4 443.1,872.0 443.4,864.8 443.6,871.1 443.9,863.8 444.2,870.1 444.5,863.2 444.8,868.6 445.1,861.6 445.4,867.5 445.7,861.0 446.0,866.8 446.2,859.9 446.5,865.9 446.8,858.5 447.1,864.2 447.4,857.6 447.7,863.4 448.0,856.1 448.3,862.7 448.5,855.0 448.8,861.5 449.1,854.0 449.4,860.5 449.7,853.4 450.0,859.4 450.3,852.3 450.6,858.3 450.8,851.6 451.1,857.3 451.4,850.1 451.7,856.4 452.0,849.2 452.3,855.3 452.6,848.0 452.9,854.3 453.1,846.7 453.4,853.0 453.7,845.7 454.0,851.7 454.3,844.6 454.6,850.5 454.9,843.5 455.2,849.9 455.4,842.6 455.7,848.7 456.0,841.7 456.3,847.3 456.6,840.7 456.9,846.7 457.2,839.6 457.5,845.5 457.8,838.1 458.1,844.2 458.4,837.5 458.7,843.8 459.0,836.1 459.3,842.5 459.6,835.3 459.9,841.8 460.2,834.6 460.5,840.3 460.8,833.2 461.1,839.4 461.4,832.0 461.7,838.6 462.0,830.4 462.3,837.0 462.6,830.1 462.9,836.3 463.2,829.0 463.5,835.2 463.8,828.2 464.1,834.4 464.5,827.4 464.8,832.9 465.1,826.0 465.4,831.8 465.7,824.7 466.0,831.3 466.3,823.8 466.6,829.9 466.9,823.0 467.2,829.2 467.5,822.1 467.8,827.7 468.1,820.5 468.4,826.7 468.7,819.5 469.0,825.7 469.3,818.8 469.6,824.8 469.9,816.7 470.2,823.5 470.5,816.6 470.8,822.4 471.1,815.3 471.4,821.9 471.7,814.6 472.1,820.8 472.4,813.5 472.8,819.9 473.1,812.9 473.5,818.9 473.8,812.0 474.2,817.8 474.5,810.7 474.9,816.7 475.3,809.8 475.6,815.6 476.0,808.8 476.3,814.9 476.7,806.7 477.0,813.3 477.4,806.2 477.7,812.8 478.1,805.6 478.5,811.9 478.8,804.1 479.2,810.7 479.5,803.5 479.9,810.1 480.2,802.8 480.6,808.9 481.0,801.1 481.3,807.6 481.7,800.7 482.0,806.7 482.4,799.8 482.7,805.9 483.1,798.5 483.4,804.9 483.8,797.5 484.2,803.9 484.5,796.4 484.9,803.1 485.2,795.9 485.6,802.0 485.9,794.7 486.3,800.8 486.6,793.9 487.0,800.4 487.4,793.1 487.8,799.4 488.2,792.2 488.5,798.1 488.9,790.8 489.3,797.5 489.7,789.5 490.1,796.5 490.5,788.6 490.8,795.3 491.2,787.6 491.6,794.4 492.0,787.1 492.4,793.7 492.8,785.9 493.2,792.1 493.5,785.3 493.9,791.6 494.3,784.2 494.7,790.6 495.1,783.5 495.5,790.0 495.8,782.4 496.2,789.3 496.6,781.6 497.0,788.3 497.4,780.8 497.8,787.3 498.2,779.6 498.5,786.3 498.9,778.8 499.3,784.9 499.7,777.7 500.1,784.3 500.5,777.0 500.8,783.5 501.2,775.8 501.6,782.1 502.0,775.1 502.4,781.4 502.8,774.2 503.2,780.4 503.6,773.2 504.0,779.8 504.4,771.9 504.7,778.7 505.1,771.1 505.5,777.8 505.9,770.2 506.3,777.4 506.7,769.2 507.1,776.4 507.5,768.3 507.9,775.0 508.3,767.9 508.7,774.4 509.1,766.6 509.5,772.8 509.8,765.3 510.2,772.0 510.6,763.9 511.0,771.1 511.4,762.8 511.8,769.7 512.2,762.0 512.6,769.1 513.0,761.5 513.4,768.3 513.8,760.4 514.2,766.8 514.6,759.2 514.9,766.9 515.3,757.9 515.7,765.7 516.1,757.5 516.5,764.6 516.9,756.8 517.3,763.7 517.7,755.5 518.1,762.5 518.5,754.7 518.8,761.5 519.2,754.2 519.6,761.1 520.0,753.3 520.4,760.4 520.8,752.3 521.2,759.6 521.6,751.2 521.9,758.3 522.3,750.4 522.7,757.6 523.1,749.6 523.5,756.8 523.9,748.3 524.3,755.4 524.7,747.8 525.0,755.0 525.4,746.7 525.8,754.1 526.2,745.3 526.6,752.3 527.0,744.8 527.4,751.8 527.8,743.7 528.1,750.5 528.5,742.7 528.9,750.4 529.3,741.5 529.7,748.6 530.1,740.5 530.5,747.7 530.9,739.6 531.2,747.0 531.6,739.0 532.0,746.1 532.4,737.6 532.8,745.2 533.3,736.9 533.7,744.4 534.1,735.7 534.6,743.1 535.0,734.9 535.4,742.4 535.9,734.5 536.3,741.8 536.7,733.2 537.2,740.5 537.6,732.4 538.0,740.0 538.5,731.5 538.9,739.8 539.3,731.2 539.8,738.6 540.2,730.5 540.7,738.0 541.1,728.6 541.5,736.8 542.0,728.0 542.4,736.0 542.8,727.2 543.3,734.7 543.7,726.4 544.1,734.0 544.6,725.1 545.0,733.1 545.4,724.7 545.9,732.1 546.3,723.9 546.7,732.0 547.2,723.5 547.6,731.0 548.0,722.9 548.5,730.6 548.9,722.1 549.4,729.3 549.8,721.4 550.3,729.0 550.7,720.5 551.2,728.2 551.6,719.6 552.1,727.4 552.5,718.4 553.0,727.0 553.4,718.0 553.9,726.0 554.3,717.5 554.8,725.2 555.2,716.3 555.6,724.3 556.1,715.5 556.5,723.3 557.0,714.5 557.4,722.9 557.9,713.8 558.3,721.9 558.8,712.8 559.2,721.1 559.7,712.0 560.1,720.7 560.6,711.4 561.0,719.3 561.5,710.2 561.9,718.7 562.4,709.7 562.8,718.3 563.3,709.1 563.8,717.8 564.3,707.9 564.8,717.0 565.3,707.6 565.8,715.5 566.3,705.8 566.9,714.3 567.4,704.8 567.9,713.9 568.4,703.9 568.9,712.6 569.4,703.5 569.9,712.4 570.4,702.2 570.9,711.2 571.4,701.7 571.9,710.3 572.4,701.0 572.9,709.8 573.4,700.3 573.9,709.8 574.5,700.2 575.0,709.2 575.5,700.2 576.0,708.8 576.5,699.2 577.0,708.0 577.5,699.4 578.0,708.1 578.6,698.0 579.2,707.1 579.7,698.5 580.3,707.3 580.9,697.1 581.5,706.5 582.0,697.6 582.6,706.3 583.2,697.2 583.8,706.6 584.3,696.0 584.9,705.8 585.5,696.1 586.1,705.1 586.7,694.8 587.2,704.1 587.8,694.3 588.4,704.2 589.0,693.8 589.5,703.4 590.1,693.7 590.7,703.4 591.3,694.0 591.8,703.3 592.4,693.6 593.0,703.7 593.6,693.9 594.2,704.4 594.8,692.4 595.4,702.9 595.9,692.4 596.5,702.9 597.1,692.1 597.7,701.4 598.3,691.7 598.9,701.1 599.5,690.9 600.1,701.6 600.6,690.8 601.2,701.1 601.8,691.1 602.4,700.3 603.0,691.0 603.6,700.6 604.2,689.9 604.8,700.2 605.4,689.3 605.9,699.3 606.5,688.8 607.1,699.2 607.7,688.6 608.3,698.0 608.9,687.4 609.5,697.6 610.1,686.9 610.8,697.5 611.4,687.1 612.0,696.8 612.6,686.7 613.2,696.4 613.8,686.4 614.5,696.4 615.1,686.0 615.7,696.2 616.3,685.8 616.9,697.4 617.5,686.1 618.2,696.4 618.8,685.6 619.4,696.2 620.0,685.8 620.5,696.8 621.1,686.4 621.6,697.2 622.1,687.2 622.6,697.6 623.2,687.6 623.7,697.5 624.2,687.3 624.7,698.1 625.3,687.8 625.8,698.4 626.3,689.1 626.8,699.9 627.4,689.3 627.9,700.5 628.4,690.6 628.9,701.2 629.5,691.1 630.0,701.4 630.5,691.3 631.1,702.5 631.6,692.3 632.1,703.6 632.6,694.2 633.2,704.5 633.7,695.1 634.2,705.7 634.7,695.3 635.3,706.8 635.8,696.2 636.3,706.3 636.8,696.0 637.4,707.7 637.9,696.2 638.4,707.9 638.9,696.8 639.5,707.7 640.0,696.5 640.6,707.5 641.2,697.7 641.8,708.4 642.4,696.7 642.9,708.4 643.5,697.5 644.1,708.6 644.7,697.0 645.3,709.0 645.9,697.8 646.5,708.8 647.1,697.9 647.6,709.3 648.2,697.7 648.8,709.7 649.4,699.2 650.0,710.6 650.6,699.5 651.2,710.2 651.8,699.6 652.4,711.2 652.9,699.3 653.5,711.1 654.1,700.0 654.7,712.0 655.3,700.4 655.9,711.6 656.5,701.2 657.1,712.9 657.6,702.4 658.2,713.8 658.8,702.7 659.4,713.8 660.0,703.1 660.6,714.8 661.2,703.2 661.8,715.5 662.4,704.2 662.9,715.0 663.5,703.6 664.1,714.5 664.7,704.2 665.3,715.0 665.9,704.3 666.5,714.7 667.1,704.2 667.6,715.2 668.2,703.8 668.8,715.9 669.4,704.8 670.0,715.5 670.6,704.7 671.2,717.1 671.7,705.5 672.3,717.8 672.9,705.4 673.5,717.0 674.0,705.5 674.6,716.7 675.2,705.8 675.8,717.6 676.3,706.0 676.9,717.6 677.5,707.2 678.1,719.4 678.7,708.4 679.2,719.8 679.8,708.4 680.4,721.3 681.0,710.0 681.5,722.0 682.1,710.8 682.7,721.8 683.3,710.7 683.8,722.4 684.4,710.2 685.0,722.9 685.6,710.9 686.2,722.8 686.7,710.6 687.3,722.9 687.9,710.2 688.5,722.6 689.0,711.1 689.6,723.3 690.2,711.3 690.8,723.5 691.3,710.6 691.9,722.7 692.5,711.6 693.1,723.7 693.7,711.0 694.2,723.9 694.8,712.5 695.4,724.7 696.0,711.7 696.5,724.8 697.1,712.6 697.7,724.8 698.3,712.5 698.8,724.7 699.4,713.2 700.0,725.6 700.6,713.6 701.2,726.0 701.7,714.2 702.3,725.6 702.9,713.8 703.5,726.0 704.1,714.1 704.6,727.4 705.2,715.0 705.8,728.1 706.4,715.1 707.0,727.5 707.5,714.5 708.1,729.1 708.7,717.3 709.3,729.6 709.9,717.3 710.4,730.0 711.0,718.3 711.6,730.6 712.2,719.0 712.8,731.7 713.3,718.7 713.9,731.1 714.5,719.5 715.1,730.9 715.7,718.2 716.2,731.2 716.8,719.3 717.4,731.5 718.0,718.2 718.6,730.9 719.1,719.6 719.7,731.0 720.3,719.7 720.9,732.4 721.4,719.0 722.0,732.7 722.6,719.2 723.2,732.2 723.8,720.3 724.3,733.7 724.9,720.9 725.5,733.7 726.1,721.5 726.7,734.8 727.2,722.6 727.8,735.1 728.4,723.9 729.0,735.8 729.6,723.5 730.1,735.3 730.7,723.6 731.3,736.5 731.9,723.4 732.5,736.8 733.0,723.4 733.6,736.6 734.2,724.9 734.8,737.9 735.4,724.9 735.9,738.4 736.5,727.0 737.1,739.0 737.7,727.9 738.3,740.5 738.8,728.2 739.4,740.0 740.0,728.1 740.6,740.1 741.2,727.5 741.8,739.0 742.4,726.5 743.0,738.2 743.6,725.5 744.2,738.0 744.8,725.1 745.4,738.4 746.0,726.3 746.7,738.4 747.3,726.1 747.9,738.6 748.5,727.2 749.1,738.9 749.7,725.7 750.3,739.6 750.9,727.9 751.5,739.9 752.1,727.9 752.7,739.9 753.3,728.0 753.9,741.2 754.5,728.3 755.1,741.0 755.7,728.1 756.3,740.8 756.9,727.0 757.5,739.7 758.1,727.6 758.7,740.5 759.3,727.1 760.0,740.0 760.6,726.6 761.2,740.1 761.8,727.7 762.4,741.1 763.0,728.7 763.6,741.5 764.2,728.1 764.8,743.0 765.4,729.1 766.0,734.8 766.1,733.0 766.1,733.5 766.2,731.7 766.2,732.4 766.3,730.5 766.3,731.0 766.4,729.2 766.5,729.8 766.5,727.9 766.6,728.6 766.6,726.7 766.7,727.3 766.8,725.5 766.8,726.0 766.9,724.2 766.9,724.8 767.0,723.0 767.0,723.6 767.1,721.8 767.2,722.4 767.2,720.6 767.3,721.3 767.3,719.4 767.4,720.0 767.5,718.2 767.5,718.8 767.6,717.0 767.6,717.7 767.7,715.8 767.7,716.4 767.8,714.6 767.9,715.2 767.9,713.2 768.0,713.9 768.0,712.0 768.1,712.6 768.2,710.8 768.2,711.5 768.3,709.6 768.3,710.3 768.4,708.4 768.4,709.2 768.5,706.9 768.6,708.3 768.8,705.7 769.0,707.1 769.1,704.6 769.2,706.0 769.4,703.3 769.5,704.8 769.7,702.1 769.8,703.8 770.0,701.0 770.1,702.4 770.3,695.6 770.5,706.2 770.7,697.2 770.9,707.6 771.1,699.5 771.3,708.6 771.5,701.2 771.7,710.9 771.9,701.8 772.1,711.8 772.2,703.4 772.4,713.2 772.6,704.1 772.8,713.7 773.0,706.0 773.2,715.5 773.4,706.5 773.6,716.5 773.8,708.0 774.0,719.6 774.5,706.6 774.9,720.0 775.4,707.2 775.9,720.5 776.4,708.4 776.8,721.1 777.3,709.2 777.8,721.8 778.2,709.3 778.7,721.2 779.2,709.8 779.6,722.1 780.1,710.3 780.6,722.1 781.1,709.7 781.5,723.1 782.0,710.8 782.6,724.1 783.1,711.4 783.7,725.2 784.3,711.8 784.9,725.2 785.4,713.4 786.0,726.0 786.6,712.9 787.1,726.4 787.7,714.5 788.3,727.0 788.9,713.7 789.4,726.8 790.0,715.3 790.6,727.3 791.1,714.2 791.7,728.4 792.3,716.4 792.9,728.7 793.4,716.2 794.0,728.5 794.6,716.1 795.1,729.8 795.7,716.8 796.3,730.2 796.9,717.6 797.4,731.2 798.0,718.5 798.6,731.5 799.1,717.9 799.7,731.1 800.3,718.9 800.9,731.3 801.4,719.3 802.0,732.0 802.6,720.3 803.2,733.3 803.8,719.9 804.4,733.0 805.1,720.2 805.7,732.9 806.3,721.0 806.9,734.1 807.5,721.2 808.1,732.8 808.7,720.6 809.3,731.9 809.9,720.0 810.6,731.9 811.2,716.9 811.8,730.8 812.4,717.6 813.0,727.2 813.2,720.4 813.4,726.2 813.5,719.2 813.7,724.9 813.9,717.7 814.1,723.8 814.2,716.6 814.4,722.8 814.6,715.3 814.8,721.5 814.9,714.7 815.1,720.8 815.3,713.7 815.5,719.9 815.6,713.3 815.8,719.5 816.0,709.4 816.6,723.0 817.2,709.4 817.8,722.4 818.4,710.0 819.0,722.4 819.6,708.3 820.2,721.6 820.8,706.8 821.4,722.2 822.0,708.1 822.6,721.3 823.2,707.4 823.8,720.4 824.4,708.4 825.0,721.1 825.6,708.6 826.2,721.5 826.8,708.1 827.4,721.6 828.0,709.5 828.2,718.2 828.4,708.0 828.6,716.4 828.8,706.8 829.0,715.7 829.1,704.8 829.3,713.9 829.5,704.2 829.7,711.5 829.9,703.3 830.1,711.2 830.3,705.5 830.3,706.1 830.4,704.2 830.4,705.0 830.4,703.0 830.4,703.7 830.5,701.8 830.5,702.5 830.5,700.7 830.5,701.3 830.6,699.3 830.6,700.1 830.6,698.1 830.6,698.8 830.7,696.8 830.7,697.6 830.7,695.6 830.8,696.4 830.8,694.5 830.8,695.1 830.8,693.3 830.9,693.9 830.9,692.1 830.9,692.7 830.9,690.9 831.0,691.5 831.0,689.6 831.0,690.2 831.1,688.4 831.1,689.1 831.1,687.1 831.1,687.8 831.2,685.9 831.2,686.6 831.2,684.7 831.2,685.4 831.3,683.5 831.3,684.2 831.3,682.1 831.3,682.9 831.4,681.0 831.4,681.6 831.4,680.9 831.5,682.8 831.5,682.2 831.5,683.9 831.5,683.4 831.6,685.2 831.6,684.5 831.6,686.4 831.7,685.6 831.7,687.6 831.7,686.9 831.8,688.7 831.8,688.1 831.8,690.0 831.8,689.3 831.9,691.3 831.9,690.5 831.9,692.5 832.0,691.9 832.0,693.8 832.0,693.1 832.0,695.0 832.1,694.4 832.1,696.4 832.1,695.7 832.2,697.7 832.2,697.0 832.2,698.9 832.2,698.2 832.3,700.1 832.3,699.4 832.3,701.3 832.4,700.6 832.4,702.5 832.4,701.9 832.5,703.7 832.5,703.1 832.5,704.9 832.5,704.2 832.6,706.2 832.6,702.7 832.8,713.6 833.0,703.5 833.2,715.1 833.4,704.5 833.6,714.9 833.8,706.1 834.0,716.0 834.2,706.9 834.4,716.1 834.6,706.7 834.8,717.6 835.0,706.6 835.5,719.6 836.0,706.8 836.5,720.0 837.0,707.9 837.5,720.5 838.0,708.2 838.5,721.5 839.0,709.3 839.5,722.8 840.0,711.1 840.5,724.5 841.0,710.9 841.5,724.0 842.0,711.6 842.5,725.2 843.0,712.7 843.5,726.8 844.0,714.3 844.5,727.3 845.0,715.0 845.5,728.0 846.0,714.3 846.5,728.4 847.0,715.5 847.5,729.0 848.0,716.5 848.5,728.5 849.0,715.8 849.5,729.5 850.0,717.2 850.6,729.6 851.2,717.4 851.8,729.6 852.4,717.0 852.9,729.6 853.5,715.2 854.1,729.7 854.7,716.7 855.3,728.5 855.9,715.1 856.5,728.9 857.1,715.0 857.6,729.1 858.2,713.9 858.8,727.2 859.4,713.6 860.0,726.3 860.4,714.2 860.8,727.8 861.2,715.1 861.6,728.4 862.0,716.5 862.4,729.9 862.8,717.9 863.2,731.0 863.6,717.6 864.0,732.4 864.4,719.5 864.8,732.3 865.2,720.6 865.6,732.9 866.0,720.5 866.4,733.8 866.8,722.6 867.2,734.7 867.6,722.2 868.0,735.4 868.4,722.5 868.8,736.5 869.2,723.9 869.6,737.1 870.0,724.0 870.4,736.7 870.8,725.4 871.2,739.2 871.6,726.2 872.0,740.7 872.4,728.3 872.8,741.3 873.2,729.9 873.6,742.7 874.0,731.1 874.5,744.3 874.9,730.1 875.4,742.9 875.8,729.9 876.3,742.0 876.7,729.4 877.2,741.8 877.7,728.5 878.1,741.3 878.6,727.0 879.0,739.6 879.5,725.6 879.9,736.9 880.4,724.1 880.9,735.6 881.3,721.9 881.8,734.4 882.2,719.9 882.7,733.7 883.1,720.5 883.6,734.0 884.1,721.2 884.5,733.4 885.0,721.0 885.4,734.0 885.9,721.2 886.3,734.1 886.8,720.8 887.3,732.2 887.7,720.0 888.2,732.2 888.6,718.8 889.1,730.5 889.5,718.4 890.0,730.7 890.6,716.9 891.2,730.4 891.8,717.6 892.4,729.7 893.0,717.2 893.7,730.1 894.3,716.7 894.9,730.3 895.5,716.0 896.1,729.8 896.7,715.2 897.3,728.2 897.9,715.2 898.5,727.4 899.1,715.1 899.8,728.1 900.4,714.0 901.0,726.4 901.6,713.6 902.2,726.5 902.8,714.2 903.4,727.9 904.0,714.7 904.6,729.1 905.2,716.3 905.9,729.3 906.5,716.1 907.1,730.3 907.7,717.2 908.3,729.1 908.9,716.0 909.5,728.3 910.1,714.9 910.7,727.9 911.4,714.6 912.0,728.0 912.6,714.3 913.2,727.3 913.8,714.3 914.4,728.7 915.0,715.9 915.6,728.5 916.2,716.7 916.8,729.4 917.5,717.2 918.1,731.1 918.7,716.7 919.3,730.8 919.9,716.3 920.5,729.3 921.1,715.9 921.7,729.9 922.3,716.6 922.9,729.6 923.5,715.9 924.1,728.9 924.7,715.7 925.3,728.5 926.0,715.1 926.6,728.0 927.2,714.7 927.8,728.0 928.4,714.6 929.0,726.6 929.6,713.4 930.2,726.4 930.8,714.5 931.4,726.3 932.0,714.6 932.6,727.7 933.2,713.0 933.8,727.0 934.4,714.5 935.0,726.9 935.7,714.8 936.3,727.5 936.9,713.7 937.5,727.7 938.1,715.5 938.7,728.8 939.3,715.5 939.9,728.5 940.5,715.4 940.9,729.3 941.4,716.8 941.8,730.1 942.2,718.2 942.7,730.9 943.1,718.4 943.5,732.0 944.0,719.5 944.4,733.5 944.8,719.3 945.3,733.8 945.7,720.6 946.1,735.3 946.6,721.9 947.0,736.0 947.4,723.9 947.9,737.5 948.3,723.5 948.7,738.0 949.1,724.7 949.6,739.0 950.0,726.0 950.4,740.5 950.9,726.7 951.3,740.5 951.7,728.6 952.2,741.1 952.6,729.1 953.0,742.6 953.5,729.0 953.9,742.2 954.3,729.3 954.8,742.4 955.2,729.8 955.6,743.1 956.1,729.3 956.5,743.0 956.9,730.2 957.4,742.3 957.8,728.1 958.3,741.4 958.7,727.6 959.2,740.1 959.6,726.1 960.1,740.0 960.5,726.7 960.9,739.7 961.4,726.6 961.8,739.1 962.3,726.8 962.7,738.5 963.2,725.9 963.6,739.4 964.1,725.8 964.5,737.4 964.8,724.1 965.0,737.2 965.3,722.9 965.6,737.4 965.9,725.5 966.1,737.7 966.4,725.9 966.7,739.8 967.0,726.9 967.2,741.2 967.5,728.5 967.8,743.2 968.0,731.2 968.3,745.0 968.6,732.7 968.9,747.2 969.1,733.8 969.4,746.7 969.7,734.7 970.0,747.2 970.2,734.2 970.5,747.7 971.0,733.9 971.6,746.9 972.1,732.3 972.6,745.7 973.1,732.5 973.7,746.3 974.2,732.7 974.7,746.1 975.2,732.9 975.8,746.3 976.3,732.8 976.8,746.2 977.3,732.1 977.9,746.0 978.4,732.5 978.9,744.8 979.4,730.6 980.0,744.1 980.5,730.7 981.1,744.4 981.6,731.2 982.2,744.2 982.7,730.9 983.3,744.8 983.8,731.7 984.4,745.3 985.0,732.6 985.5,746.7 986.1,733.7 986.6,746.5 987.2,733.9 987.7,747.7 988.3,734.5 988.9,747.7 989.4,734.2 990.0,747.0 990.5,735.1 991.1,748.2 991.6,734.3 992.2,748.3 992.8,735.1 993.3,748.7 993.9,735.7 994.4,750.9 995.0,737.8 995.5,751.2 996.1,737.7 996.7,752.0 997.2,737.7 997.8,751.3 998.3,737.5 998.9,751.2 999.4,737.9 1000.0,751.0 1000.5,737.2 1001.1,750.3 1001.6,735.7 1002.2,749.2 1002.7,736.2 1003.2,749.1 1003.8,736.3 1004.3,749.4 1004.8,735.5 1005.4,749.3 1005.9,736.2 1006.5,749.1 1007.0,736.1 1007.5,748.4 1008.1,734.4 1008.6,747.2 1009.2,733.0 1009.7,745.9 1010.2,732.3 1010.8,745.3 1011.3,732.1 1011.8,745.4 1012.4,731.9 1012.9,745.5 1013.5,731.5 1014.0,738.7 1014.1,736.9 1014.2,737.6 1014.3,735.7 1014.4,736.5 1014.5,734.5 1014.6,735.2 1014.7,733.2 1014.8,734.1 1014.9,732.1 1015.0,732.7 1015.1,730.8 1015.2,731.6 1015.3,729.6 1015.4,730.3 1015.5,728.4 1015.6,729.2 1015.7,727.2 1015.8,727.9 1015.9,726.0 1016.0,726.6 1016.1,724.6 1016.2,725.5 1016.3,723.5 1016.4,724.3 1016.5,722.4 1016.6,723.1 1016.7,721.1 1016.8,721.8 1016.9,719.9 1017.0,720.7 1017.1,718.8 1017.2,719.4 1017.3,717.4 1017.4,718.2 1017.5,716.2 1017.6,716.9 1017.7,715.0 1017.8,715.7 1017.9,713.7 1018.0,718.5 1018.6,705.8 1019.1,719.4 1019.7,706.7 1020.3,720.1 1020.9,707.0 1021.4,720.6 1022.0,706.1 1022.6,719.6 1023.1,706.6 1023.7,721.2 1024.3,708.6 1024.9,723.6 1025.4,709.1 1026.0,722.1 1026.6,709.6 1027.1,723.8 1027.7,710.5 1028.3,724.8 1028.9,710.7 1029.4,724.1 1030.0,712.0 1030.3,725.7 1030.7,712.4 1031.0,725.8 1031.3,713.8 1031.7,726.6 1032.0,714.1 1032.3,727.8 1032.7,715.0 1033.0,729.8 1033.3,717.1 1033.7,731.6 1034.0,718.8 1034.3,731.9 1034.7,719.8 1035.0,733.1 1035.3,720.3 1035.7,733.9 1036.0,720.9 1036.3,734.8 1036.7,722.4 1037.0,736.0 1037.3,721.4 1037.7,737.2 1038.0,724.3 1038.3,736.7 1038.7,723.9 1039.0,738.4 1039.3,724.6 1039.7,739.1 1040.0,725.6 1040.3,738.5 1040.7,726.2 1041.0,739.3 1041.3,727.0 1041.7,741.3 1042.0,727.6 1042.3,742.1 1042.7,729.7 1043.0,743.1 1043.3,731.1 1043.7,744.9 1044.0,732.0 1044.3,746.2 1044.7,732.4 1045.0,746.7 1045.3,734.1 1045.7,748.0 1046.0,735.2 1046.4,749.6 1046.9,734.7 1047.3,748.1 1047.8,734.6 1048.2,748.0 1048.6,733.0 1049.1,747.0 1049.5,732.8 1049.9,745.2 1050.4,731.4 1050.8,743.7 1051.2,729.9 1051.7,743.2 1052.1,728.1 1052.6,742.1 1053.0,728.1 1053.4,740.2 1053.9,725.4 1054.3,739.4 1054.8,724.6 1055.2,737.3 1055.6,724.0 1056.1,737.3 1056.5,724.0 1056.9,737.5 1057.4,723.2 1057.8,736.7 1058.2,723.7 1058.7,736.7 1059.1,723.6 1059.6,735.8 1060.0,723.0 1060.6,736.6 1061.2,722.9 1061.8,735.4 1062.4,722.9 1063.0,736.1 1063.6,721.9 1064.2,736.6 1064.8,722.2 1065.5,734.7 1066.1,721.2 1066.7,735.3 1067.3,721.3 1067.9,734.5 1068.5,720.9 1069.1,733.3 1069.7,718.9 1070.3,733.4 1070.9,719.7 1071.5,734.3 1072.1,719.8 1072.7,734.4 1073.3,721.5 1073.9,734.5 1074.5,721.1 1075.2,735.2 1075.8,721.0 1076.4,734.7 1077.0,721.7 1077.6,734.7 1078.2,720.4 1078.8,734.3 1079.4,721.0 1080.0,734.4 1080.5,721.1 1080.9,735.4 1081.4,722.9 1081.8,736.3 1082.3,723.8 1082.7,737.8 1083.2,724.4 1083.7,738.2 1084.1,725.2 1084.6,739.9 1085.0,726.9 1085.5,739.6 1085.9,727.4 1086.4,740.2 1086.9,727.4 1087.3,741.1 1087.8,727.1 1088.2,741.5 1088.7,728.1 1089.1,742.5 1089.6,729.2 1090.1,742.7 1090.5,729.0 1091.0,743.2 1091.4,729.5 1091.9,743.5 1092.3,729.3 1092.8,744.6 1093.3,731.7 1093.7,746.5 1094.2,732.5 1094.6,747.7 1095.1,733.7 1095.5,747.9 1096.0,735.2 1096.6,748.5 1097.2,734.6 1097.8,748.2 1098.4,733.7 1099.0,749.0 1099.6,735.4 1100.2,749.1 1100.8,736.0 1101.4,749.5 1102.0,735.7 1102.6,749.4 1103.2,735.0 1103.8,748.6 1104.4,735.3 1105.0,747.5 1105.6,733.2 1106.2,746.4 1106.8,731.1 1107.4,745.5 1108.0,732.3 1108.6,745.5 1109.2,731.9 1109.8,745.6 1110.4,731.6 1111.0,744.7 1111.6,730.3 1112.2,745.1 1112.8,730.6 1113.4,743.9 1114.0,730.2 1114.6,744.8 1115.2,731.2 1115.8,745.4 1116.4,731.6 1117.0,745.6 1117.6,731.9 1118.2,745.2 1118.8,732.4 1119.4,745.2 1120.0,731.4 1120.5,746.3 1121.1,733.1 1121.6,747.2 1122.1,733.8 1122.6,747.4 1123.2,735.1 1123.7,747.8 1124.2,734.9 1124.7,748.1 1125.3,735.5 1125.8,748.5 1126.3,735.5 1126.8,749.2 1127.4,735.6 1127.9,749.7 1128.4,736.7 1128.9,749.5 1129.5,736.2 1130.0,751.0 1130.5,736.3 1131.0,750.5 1131.5,736.7 1132.0,749.0 1132.5,734.5 1133.0,748.3 1133.5,735.0 1134.0,747.4 1134.5,733.8 1135.0,747.8 1135.5,734.7 1136.0,747.7 1136.5,733.8 1137.0,747.9 1137.5,733.7 1138.0,747.0 1138.5,732.2 1139.0,745.6 1139.5,731.8 1140.0,744.7 1140.5,731.5 1141.0,744.2 1141.5,729.9 1142.0,743.7 1142.5,729.1 1143.0,742.1 1143.5,728.1 1144.0,740.7 1144.5,726.6 1145.0,740.0 1145.5,725.0 1146.0,738.1 1146.5,723.6 1147.0,737.2 1147.5,723.7 1148.0,737.2 1148.5,723.3 1149.0,737.9 1149.5,723.4 1150.0,730.7 1150.1,728.8 1150.3,729.7 1150.4,727.7 1150.5,728.4 1150.6,726.4 1150.8,727.1 1150.9,725.2 1151.0,726.0 1151.1,723.9 1151.3,724.6 1151.4,722.7 1151.5,723.5 1151.7,721.5 1151.8,722.2 1151.9,720.2 1152.0,721.1 1152.2,719.0 1152.3,719.9 1152.4,717.9 1152.6,718.7 1152.7,716.7 1152.8,717.6 1152.9,715.4 1153.1,716.4 1153.2,714.5 1153.3,715.2 1153.4,713.4 1153.6,714.1 1153.7,712.1 1153.8,712.9 1154.0,711.0 1154.1,711.7 1154.2,709.6 1154.3,710.5 1154.5,708.4 1154.6,709.3 1154.7,707.2 1154.9,708.0 1155.0,706.0 1155.1,706.9 1155.2,705.0 1155.4,705.7 1155.5,703.8 1155.6,704.6 1155.7,702.6 1155.9,703.5 1156.0,701.4 1156.1,702.2 1156.2,700.1 1156.3,700.9 1156.3,698.9 1156.4,699.7 1156.5,697.6 1156.6,698.3 1156.7,696.3 1156.8,697.0 1156.9,695.2 1157.0,695.9 1157.0,694.0 1157.1,694.7 1157.2,692.8 1157.3,693.6 1157.4,691.6 1157.5,692.4 1157.6,690.5 1157.7,691.2 1157.7,689.3 1157.8,690.0 1157.9,687.9 1158.0,694.5 1158.4,679.6 1158.8,693.6 1159.1,679.1 1159.5,691.8 1159.9,678.1 1160.3,691.4 1160.7,676.9 1161.0,690.3 1161.4,675.0 1161.8,689.4 1162.2,674.3 1162.6,687.3 1162.9,673.6 1163.3,687.6 1163.7,673.0 1164.1,687.4 1164.5,674.9 1164.9,688.0 1165.4,675.0 1165.8,689.7 1166.2,676.3 1166.6,691.5 1167.0,677.7 1167.4,691.1 1167.8,677.8 1168.2,693.3 1168.7,679.2 1169.1,694.0 1169.5,680.5 1169.9,693.4 1170.3,680.9 1170.7,695.3 1171.1,681.3 1171.6,696.3 1172.0,683.3 1172.4,697.4 1172.8,683.5 1173.4,698.4 1174.0,684.6 1174.6,697.8 1175.2,684.7 1175.8,697.3 1176.5,684.2 1177.1,698.7 1177.7,683.9 1178.3,698.7 1178.9,685.1 1179.5,697.8 1180.1,683.9 1180.7,698.7 1181.3,684.2 1182.0,697.9 1182.6,683.6 1183.2,696.6 1183.8,683.7 1184.4,696.4 1185.0,683.1 1185.4,697.1 1185.7,683.4 1186.1,698.1 1186.4,684.0 1186.8,697.3 1187.2,683.8 1187.5,700.0 1187.9,684.8 1188.3,698.1 1188.6,684.5 1189.0,699.3 1189.3,686.2 1189.7,700.9 1190.1,688.3 1190.4,702.1 1190.8,689.1 1191.2,703.0 1191.5,690.0 1191.9,705.1 1192.2,691.0 1192.6,707.7 1193.0,692.3 1193.3,706.8 1193.7,694.1 1194.1,708.5 1194.4,695.1 1194.8,709.4 1195.1,695.6 1195.5,710.5 1196.1,696.3 1196.7,711.0 1197.4,696.4 1198.0,710.9 1198.6,696.9 1199.2,709.4 1199.8,696.3 1200.4,709.7 1201.1,696.1 1201.7,710.4 1202.3,696.6 1202.9,709.6 1203.5,697.0 1204.1,709.5 1204.8,696.8 1205.4,711.0 1206.0,696.1 1206.6,710.9 1207.1,696.8 1207.7,711.2 1208.2,696.6 1208.8,710.6 1209.4,696.5 1209.9,711.4 1210.5,697.9 1211.0,712.1 1211.6,698.0 1212.2,712.4 1212.7,698.7 1213.3,712.1 1213.8,698.0 1214.4,712.6 1214.9,698.9 1215.5,711.7 1216.1,697.7 1216.6,712.5 1217.2,699.2 1217.7,713.7 1218.3,699.7 1218.9,714.8 1219.4,699.1 1220.0,713.7 1220.6,701.1 1221.2,715.5 1221.7,701.5 1222.3,716.3 1222.9,702.1 1223.4,717.0 1224.0,703.6 1224.6,719.5 1225.2,703.8 1225.7,718.5 1226.3,704.4 1226.9,719.8 1227.4,705.5 1228.0,719.1 1228.6,704.3 1229.2,718.2 1229.7,704.5 1230.3,718.1 1230.9,703.4 1231.4,718.7 1232.0,705.5 1232.6,719.6 1233.2,705.4 1233.7,720.7 1234.3,706.9 1234.9,720.8 1235.5,706.7 1236.0,721.9 1236.6,708.0 1237.2,722.6 1237.7,708.8 1238.3,722.4 1238.9,708.9 1239.5,723.3 1240.0,710.5 1240.6,723.3 1241.2,710.5 1241.7,724.3 1242.3,710.4 1242.9,724.4 1243.5,710.9 1244.0,724.2 1244.6,709.2 1245.2,725.1 1245.7,710.7 1246.3,725.3 1246.9,710.8 1247.5,725.6 1248.0,711.7 1248.6,724.9 1249.2,711.4 1249.8,725.5 1250.4,711.8 1251.0,725.5 1251.6,712.3 1252.2,726.4 1252.9,711.5 1253.5,726.6 1254.1,712.5 1254.7,725.4 1255.3,711.8 1255.9,726.0 1256.5,712.3 1257.1,726.1 1257.7,711.7 1258.3,726.6 1258.9,712.7 1259.5,726.4 1260.2,711.8 1260.8,726.1 1261.4,711.1 1262.0,726.1 1262.6,710.9 1263.2,725.3 1263.8,712.4 1264.4,725.5 1265.0,712.1 1265.6,726.1 1266.2,713.4 1266.8,727.7 1267.4,713.9 1268.1,728.4 1268.7,713.6 1269.3,728.7 1269.9,713.6 1270.5,727.3 1271.1,714.4 1271.7,727.3 1272.3,713.3 1272.9,726.5 1273.5,713.2 1274.1,727.2 1274.7,713.8 1275.4,727.9 1276.0,713.3 1276.6,727.2 1277.2,713.4 1277.8,729.2 1278.4,713.9 1279.0,728.4 1279.6,714.6 1280.2,728.9 1280.7,713.6 1281.3,728.1 1281.9,712.6 1282.5,726.1 1283.0,713.1 1283.6,725.8 1284.2,711.2 1284.8,725.3 1285.3,710.9 1285.9,725.8 1286.5,710.6 1287.1,724.7 1287.7,711.8 1288.2,725.2 1288.8,710.8 1289.4,725.3 1290.0,711.0 1290.5,724.9 1291.1,711.2 1291.7,724.8 1292.3,710.8 1292.8,724.5 1293.4,710.7 1294.0,724.9 1294.6,710.8 1295.2,725.4 1295.7,710.5 1296.3,725.8 1296.9,711.3 1297.5,724.7 1298.0,710.6 1298.6,725.6 1299.2,709.6 1299.8,725.8 1300.3,712.1 1300.9,726.2 1301.5,711.8 1302.0,725.8 1302.6,712.3 1303.2,726.0 1303.8,712.5 1304.3,726.8 1304.9,713.0 1305.5,726.9 1306.1,712.9 1306.7,727.1 1307.2,712.9 1307.8,726.6 1308.4,713.0 1309.0,727.9 1309.5,712.5 1310.1,726.8 1310.7,713.4 1311.2,727.9 1311.8,714.0 1312.4,728.6 1313.0,714.7 1313.5,730.5 1314.1,715.8 1314.7,731.5 1315.3,716.7 1315.8,731.2 1316.4,717.0 1317.0,731.6 1317.6,716.7 1318.2,730.9 1318.8,717.5 1319.4,730.6 1320.0,716.3 1320.6,731.3 1321.2,716.1 1321.8,732.5 1322.4,716.4 1323.0,731.7 1323.6,717.3 1324.2,731.2 1324.8,718.2 1325.4,732.6 1326.0,716.9 1326.6,731.8 1327.2,718.0 1327.8,731.9 1328.4,717.1 1329.0,731.2 1329.6,717.0 1330.2,730.8 1330.8,716.2 1331.4,729.8 1332.0,716.6 1332.6,729.6 1333.2,715.8 1333.8,731.1 1334.4,716.8 1335.0,730.4 1335.6,715.5 1336.2,729.9 1336.8,715.5 1337.4,730.7 1338.0,717.0 1338.6,731.1 1339.2,716.6 1339.8,731.3 1340.4,716.2 1341.0,730.1 1341.6,717.0 1342.2,730.2 1342.8,716.7 1343.4,730.5 1344.0,717.7 1344.6,731.5 1345.2,718.7 1345.8,734.2 1346.4,719.0 1347.0,733.8 1347.6,719.9 1348.2,734.1 1348.8,720.4 1349.4,734.0 1350.0,719.8 1350.6,734.1 1351.1,719.7 1351.7,733.8 1352.3,719.5 1352.9,732.4 1353.5,718.5 1354.1,734.0 1354.7,720.1 1355.3,734.9 1355.9,721.2 1356.5,735.3 1357.1,721.1 1357.7,736.5 1358.3,722.8 1358.8,736.8 1359.4,723.3 1360.0,736.7 1360.6,722.1 1361.2,736.8 1361.8,722.7 1362.4,736.8 1362.9,721.5 1363.4,736.8 1363.9,721.7 1364.4,737.6 1364.9,723.7 1365.4,737.2 1365.9,723.5 1366.5,738.0 1367.0,724.5 1367.5,740.3 1368.0,725.4 1368.5,739.9 1369.0,725.8 1369.5,741.4 1370.0,726.1 1370.5,741.4 1371.0,727.8 1371.5,742.5 1372.0,728.6 1372.5,741.8 1373.0,729.0 1373.5,742.2 1374.1,728.1 1374.6,743.7 1375.1,729.7 1375.6,744.1 1376.1,730.4 1376.6,746.1 1377.1,732.5 1377.6,745.8 1378.0,732.7 1378.4,747.8 1378.8,732.6 1379.2,747.6 1379.6,734.1 1380.0,748.6 1380.4,734.3 1380.8,749.3 1381.2,733.9 1381.6,748.9 1382.0,735.5 1382.4,750.6 1382.7,737.4 1383.1,752.4 1383.5,738.8 1383.9,752.6 1384.3,739.9 1384.7,754.9 1385.1,740.2 1385.5,756.2 1385.9,742.0 1386.3,758.0 1386.7,741.8 1387.1,759.3 1387.5,745.9 1388.0,759.7 1388.5,744.3 1389.0,758.3 1389.5,743.6 1390.1,757.3 1390.6,741.6 1391.1,756.3 1391.6,739.3 1392.1,753.9 1392.6,739.4 1393.1,752.9 1393.7,738.6 1394.2,753.2 1394.7,738.4 1395.2,753.0 1395.7,736.6 1396.2,752.1 1396.7,737.7 1397.2,752.0 1397.8,738.7 1398.3,752.1 1398.8,736.9 1399.3,750.8 1399.8,736.2 1400.3,749.2 1400.8,735.0 1401.3,750.3 1401.8,733.5 1402.4,747.5 1402.9,733.3 1403.4,746.7 1403.9,732.8 1404.4,746.7 1404.9,731.5 1405.4,745.9 1406.0,731.6 1406.5,746.0 1407.0,730.4 1407.5,744.0 1408.0,730.0 1408.5,744.5 1409.0,729.4 1409.6,742.9 1410.1,727.4 1410.6,743.9 1411.1,727.6 1411.7,740.3 1412.2,727.0 1412.7,740.5 1413.2,725.3 1413.7,740.2 1414.3,724.4 1414.8,739.4 1415.3,725.1 1415.8,738.6 1416.3,724.3 1416.9,738.2 1417.4,723.7 1417.9,738.3 1418.4,724.5 1419.0,737.9 1419.5,724.4 1420.0,739.1 1420.5,724.5 1421.0,740.8 1421.5,726.3 1421.9,741.4 1422.4,727.3 1422.9,741.3 1423.4,727.3 1423.9,742.1 1424.4,727.3 1424.9,742.2 1425.3,728.0 1425.8,742.8 1426.3,728.6 1426.8,743.4 1427.3,730.2 1427.8,744.8 1428.3,731.0 1428.8,746.2 1429.2,731.4 1429.7,745.6 1430.2,732.0 1430.7,746.9 1431.3,732.8 1431.9,747.0 1432.5,732.6 1433.1,746.8 1433.6,733.3 1434.2,747.7 1434.8,732.7 1435.4,747.5 1436.0,734.4 1436.6,748.4 1437.2,734.6 1437.8,749.6 1438.3,733.9 1438.9,749.1 1439.5,735.5 1440.1,749.6 1440.7,735.4 1441.3,749.7 1441.9,733.8 1442.5,748.2 1443.1,733.4 1443.6,749.0 1444.2,733.0 1444.8,747.2 1445.4,732.9 1446.0,747.3 1446.5,733.9 1447.1,749.4 1447.6,734.7 1448.2,750.0 1448.7,736.8 1449.2,751.0 1449.8,736.8 1450.3,752.5 1450.8,738.4 1451.4,753.2 1451.9,738.7 1452.5,752.5 1453.0,738.7 1453.5,753.2 1454.1,739.4 1454.6,753.4 1455.2,740.5 1455.7,754.6 1456.2,740.9 1456.8,756.2 1457.3,741.0 1457.8,756.2 1458.4,741.3 1458.9,756.6 1459.5,742.8 1460.0,757.5 1460.6,743.9 1461.2,758.0 1461.8,742.9 1462.4,758.8 1463.0,743.1 1463.6,758.2 1464.2,743.8 1464.8,758.2 1465.5,744.5 1466.1,758.9 1466.7,744.9 1467.3,759.2 1467.9,743.2 1468.5,759.0 1469.1,744.0 1469.7,758.7 1470.3,742.9 1470.9,757.9 1471.5,743.3 1472.1,758.9 1472.7,744.4 1473.3,757.6 1473.9,744.6 1474.5,758.1 1475.2,743.3 1475.8,759.1 1476.4,744.2 1477.0,757.5 1477.6,744.1 1478.2,756.8 1478.8,742.6 1479.4,757.4 1480.0,742.4 1480.6,756.2 1481.2,741.7 1481.8,755.5 1482.4,740.2 1483.0,755.3 1483.6,741.5 1484.2,755.9 1484.8,742.3 1485.5,756.0 1486.1,741.7 1486.7,757.6 1487.3,742.4 1487.9,756.6 1488.5,742.6 1489.1,757.4 1489.7,742.7 1490.3,756.9 1490.9,742.2 1491.5,757.3 1492.1,743.0 1492.7,758.5 1493.3,741.7 1493.9,757.9 1494.5,742.9 1495.2,757.7 1495.8,743.0 1496.4,757.0 1497.0,742.8 1497.6,757.1 1498.2,743.4 1498.8,756.8 1499.4,742.9 1500.0,756.5 1500.6,742.0 1501.2,757.6 1501.8,743.0 1502.4,756.9 1503.0,741.6 1503.6,757.3 1504.2,741.7 1504.8,756.6 1505.5,742.4 1506.1,757.5 1506.7,742.1 1507.3,757.2 1507.9,742.3 1508.5,758.1 1509.1,743.4 1509.7,757.3 1510.3,742.5 1510.9,757.6 1511.5,742.1 1512.1,756.1 1512.7,741.2 1513.3,755.7 1513.9,741.5 1514.5,755.4 1515.2,740.8 1515.8,755.5 1516.4,741.8 1517.0,756.6 1517.6,742.5 1518.2,757.8 1518.8,742.7 1519.4,757.8 1520.0,743.9 1520.6,757.5 1521.2,743.3 1521.8,756.6 1522.4,741.3 1522.9,755.6 1523.5,740.3 1524.1,755.7 1524.7,740.5 1525.3,754.8 1525.9,739.9 1526.5,754.9 1527.1,738.7 1527.6,753.9 1528.2,737.6 1528.8,753.1 1529.4,739.7 1530.0,746.8 1530.0,744.8 1530.0,745.6 1530.1,743.5 1530.1,744.4 1530.1,742.4 1530.1,743.2 1530.1,741.2 1530.1,742.1 1530.2,740.0 1530.2,740.9 1530.2,738.8 1530.2,739.7 1530.2,737.6 1530.2,738.5 1530.3,736.3 1530.3,737.2 1530.3,735.2 1530.3,735.9 1530.3,733.9 1530.3,734.7 1530.4,732.7 1530.4,733.5 1530.4,731.4 1530.4,732.3 1530.4,730.2 1530.4,731.1 1530.5,729.0 1530.5,729.8 1530.5,727.7 1530.5,728.6 1530.5,726.5 1530.5,727.3 1530.6,725.3 1530.6,726.2 1530.6,724.1 1530.6,724.9 1530.6,722.9 1530.6,723.7 1530.7,721.7 1530.7,722.7 1530.7,720.5 1530.7,721.3 1530.7,719.3 1530.8,720.1 1530.8,718.0 1530.8,719.0 1530.8,716.8 1530.8,717.8 1530.8,715.8 1530.9,716.7 1530.9,714.5 1530.9,715.3 1530.9,713.4 1530.9,714.3 1530.9,712.3 1531.0,713.2 1531.0,711.0 1531.0,711.9 1531.0,709.8 1531.0,710.8 1531.0,708.7 1531.1,709.6 1531.1,707.5 1531.1,708.4 1531.1,706.4 1531.1,707.2 1531.1,705.2 1531.2,705.9 1531.2,703.9 1531.2,704.8 1531.2,702.7 1531.2,703.6 1531.2,701.5 1531.3,702.3 1531.3,700.1 1531.3,701.0 1531.3,699.0 1531.3,699.8 1531.3,697.8 1531.4,698.5 1531.4,696.4 1531.4,697.4 1531.4,695.3 1531.4,696.3 1531.4,694.0 1531.5,694.9 1531.5,692.8 1531.5,693.6 1531.9,691.8 1532.2,692.7 1532.6,690.6 1533.0,697.2 1533.2,685.1 1533.4,700.4 1533.7,686.2 1533.9,700.0 1534.1,688.0 1534.3,701.4 1534.5,688.9 1534.7,704.3 1535.0,690.4 1535.2,704.9 1535.4,691.0 1535.6,704.3 1535.8,692.3 1536.0,705.9 1536.3,691.9 1536.5,705.7 1536.7,691.2 1536.9,707.5 1537.1,694.8 1537.3,708.8 1537.6,694.9 1537.8,709.9 1538.0,696.2 1538.4,711.3 1538.8,697.5 1539.2,711.7 1539.6,698.6 1540.0,713.1 1540.4,698.1 1540.8,713.4 1541.2,699.7 1541.6,714.5 1542.0,700.5 1542.4,714.1 1542.8,701.0 1543.2,716.4 1543.6,700.8 1544.0,716.0 1544.4,702.3 1544.8,718.4 1545.2,702.7 1545.6,719.0 1546.0,704.8 1546.6,720.1 1547.2,705.8 1547.8,720.9 1548.4,705.8 1549.0,720.8 1549.6,705.7 1550.2,720.7 1550.8,707.0 1551.4,721.8 1552.0,707.8 1552.6,722.5 1553.2,707.3 1553.8,723.5 1554.4,707.6 1555.0,722.3 1555.6,707.9 1556.2,724.9 1556.8,709.3 1557.4,723.4 1558.0,708.5 1558.6,723.9 1559.2,710.2 1559.8,723.9 1560.4,709.2 1561.0,724.4 1561.6,709.3 1562.2,724.9 1562.8,709.9 1563.4,723.9 1564.0,710.5 1564.6,724.4 1565.2,709.9 1565.8,723.7 1566.4,709.4 1567.0,725.2 1567.6,710.6 1568.2,725.2 1568.8,710.0 1569.4,725.7 1570.1,710.8 1570.7,725.4 1571.3,712.1 1571.9,727.3 1572.5,713.0 1573.1,727.7 1573.7,713.7 1574.3,728.0 1574.9,712.7 1575.5,727.1 1576.1,713.3 1576.7,728.2 1577.3,712.3 1577.9,729.2 1578.5,712.9 1579.1,726.6 1579.7,712.1 1580.3,727.6 1580.9,712.7 1581.6,726.9 1582.2,711.2 1582.8,727.3 1583.4,711.9 1584.0,726.8 1584.6,711.7 1585.2,726.6 1585.8,712.6 1586.4,726.2 1587.0,712.9 1587.6,727.7 1588.2,712.1 1588.8,726.1 1589.5,711.9 1590.1,726.4 1590.7,712.2 1591.3,726.3 1591.9,712.8 1592.5,726.8 1593.2,712.7 1593.8,727.5 1594.4,714.4 1595.0,728.5 1595.6,712.8 1596.2,729.7 1596.8,714.9 1597.5,728.9 1598.1,714.3 1598.7,729.2 1599.3,714.3 1599.9,728.6 1600.5,713.3 1601.2,728.9 1601.8,712.7 1602.4,728.0 1603.0,713.9 1603.4,727.6 1603.8,712.1 1604.2,727.1 1604.7,712.0 1605.1,725.2 1605.5,710.2 1605.9,724.7 1606.3,709.9 1606.8,723.4 1607.2,707.8 1607.6,722.3 1608.0,707.2 1608.6,721.2 1609.2,707.5 1609.8,721.8 1610.4,706.9 1611.0,722.0 1611.6,707.6 1612.2,720.7 1612.8,707.4 1613.4,722.2 1614.0,706.7 1614.6,722.1 1615.2,706.5 1615.8,721.3 1616.4,706.7 1617.0,720.6 1617.6,707.5 1618.2,720.6 1618.8,706.3 1619.4,722.0 1620.0,707.2 1620.5,722.2 1621.1,707.3 1621.6,722.6 1622.1,708.4 1622.6,723.0 1623.2,708.3 1623.7,724.7 1624.2,709.1 1624.7,724.8 1625.3,709.7 1625.8,725.5 1626.3,710.6 1626.8,726.4 1627.4,712.5 1627.9,726.0 1628.4,711.8 1628.9,727.8 1629.5,713.7 1630.0,727.7 1630.5,714.6 1631.1,728.4 1631.6,715.9 1632.1,730.4 1632.6,717.1 1633.2,731.6 1633.7,717.5 1634.2,733.1 1634.7,719.1 1635.3,734.2 1635.8,718.8 1636.3,734.6 1636.8,720.6 1637.4,734.6 1637.9,720.8 1638.4,735.7 1638.9,721.8 1639.5,736.4 1640.0,721.1 1640.5,736.1 1641.0,722.8 1641.6,737.0 1642.1,723.6 1642.6,738.5 1643.1,723.5 1643.7,738.7 1644.2,723.5 1644.7,738.1 1645.2,723.9 1645.7,738.2 1646.3,724.8 1646.8,738.0 1647.3,723.9 1647.8,738.2 1648.3,722.5 1648.9,739.4 1649.4,724.9 1649.9,738.8 1650.4,725.2 1651.0,739.8 1651.5,725.5 1652.0,740.8 1652.5,726.8 1653.0,741.5 1653.6,727.5 1654.1,742.3 1654.6,728.1 1655.1,743.2 1655.7,728.3 1656.2,745.2 1656.7,729.2 1657.3,743.6 1657.8,728.7 1658.4,742.9 1659.0,728.3 1659.6,743.8 1660.1,729.4 1660.7,743.0 1661.3,728.5 1661.8,743.4 1662.4,729.5 1663.0,744.1 1663.6,728.8 1664.1,743.0 1664.7,727.8 1665.3,742.4 1665.8,727.0 1666.4,740.3 1667.0,726.2 1667.5,739.1 1668.1,724.7 1668.7,738.6 1669.3,724.1 1669.8,738.6 1670.4,724.8 1671.0,739.3 1671.5,724.5 1672.1,738.9 1672.6,724.7 1673.2,739.1 1673.7,723.6 1674.3,738.0 1674.9,723.7 1675.4,737.4 1676.0,722.3 1676.5,737.8 1677.1,722.7 1677.7,736.0 1678.2,721.0 1678.8,736.1 1679.3,721.3 1679.9,736.1 1680.4,720.0 1681.0,734.4 1681.2,720.0 1681.5,733.9 1681.7,719.0 1681.9,731.8 1682.2,717.4 1682.4,731.9 1682.6,715.7 1682.8,729.9 1683.1,715.4 1683.3,729.2 1683.5,714.3 1683.8,729.4 1684.0,713.5 1684.2,728.1 1684.5,713.2 1684.7,726.6 1684.9,711.0 1685.2,725.1 1685.4,708.3 1685.6,723.2 1685.8,707.5 1686.1,720.2 1686.3,704.7 1686.5,720.0 1686.8,704.3 1687.0,718.8 1687.4,703.8 1687.8,717.3 1688.1,702.2 1688.5,717.2 1688.9,702.5 1689.2,716.5 1689.6,701.2 1690.0,715.4 1690.6,700.8 1691.2,714.2 1691.8,698.5 1692.4,714.2 1693.0,699.7 1693.6,713.9 1694.2,699.6 1694.8,714.7 1695.4,699.5 1696.0,714.7 1696.6,699.7 1697.2,714.2 1697.8,700.5 1698.4,714.2 1699.0,699.5 1699.6,714.6 1700.2,699.9 1700.8,715.2 1701.4,700.0 1702.0,714.8 1702.6,699.9 1703.2,714.8 1703.8,700.1 1704.4,714.3 1705.0,700.9 1705.6,715.8 1706.2,701.3 1706.8,715.1 1707.4,701.2 1708.0,716.1 1708.4,702.1 1708.8,717.5 1709.1,703.2 1709.5,718.0 1709.9,703.9 1710.3,719.7 1710.7,703.3 1711.0,719.6 1711.4,705.4 1711.8,721.3 1712.2,706.4 1712.6,721.8 1713.0,707.6 1713.3,722.3 1713.7,708.5 1714.1,723.0 1714.5,709.0 1714.9,724.2 1715.2,710.1 1715.6,724.7 1716.0,711.4 1716.3,725.6 1716.6,713.1 1716.9,727.6 1717.2,713.1 1717.5,730.1 1717.8,716.6 1718.2,731.2 1718.5,718.8 1718.8,734.3 1719.1,719.9 1719.4,734.7 1719.7,720.4 1720.0,735.3 1720.2,720.6 1720.5,737.7 1720.7,720.9 1720.9,736.0 1721.2,721.8 1721.4,737.3 1721.6,723.0 1721.8,738.0 1722.1,724.9 1722.3,740.3 1722.5,726.9 1722.8,741.7 1723.0,728.7 1723.2,743.3 1723.5,728.9 1723.7,744.5 1723.9,730.8 1724.2,745.4 1724.4,732.1 1724.6,746.4 1724.8,732.4 1725.1,749.2 1725.3,734.2 1725.5,747.8 1725.8,734.8 1726.0,749.9 1726.2,736.1 1726.5,751.7 1726.7,737.6 1726.9,752.7 1727.2,737.3 1727.4,752.5 1727.6,739.7 1727.8,753.6 1728.1,739.7 1728.3,754.8 1728.5,741.6 1728.8,757.0 1729.0,746.0 1729.2,752.3 1729.4,744.4 1729.5,751.0 1729.7,743.2 1729.9,750.3 1730.1,742.6 1730.2,749.5 1730.4,741.3 1730.6,748.3 1730.8,740.5 1730.9,747.6 1731.1,739.7 1731.3,745.8 1731.5,737.2 1731.6,744.9 1731.8,736.9 1732.0,743.8 1732.2,735.6 1732.4,742.4 1732.5,734.4 1732.7,741.4 1732.9,733.0 1733.1,740.2 1733.2,731.7 1733.4,738.8 1733.6,731.1 1733.8,737.4 1733.9,729.2 1734.1,736.4 1734.3,728.6 1734.5,734.6 1734.6,726.7 1734.8,733.9 1735.0,721.0 1735.6,737.3 1736.2,722.6 1736.8,736.6 1737.4,721.3 1738.0,736.0 1738.6,721.0 1739.2,736.4 1739.8,721.9 1740.4,735.3 1741.0,721.1 1741.6,735.0 1742.2,720.1 1742.8,735.6 1743.3,720.1 1743.9,734.6 1744.5,720.5 1745.1,734.9 1745.7,720.2 1746.3,735.1 1746.9,720.3 1747.5,734.5 1748.1,719.4 1748.7,734.6 1749.3,719.8 1749.9,734.6 1750.5,718.8 1751.1,734.1 1751.7,718.9 1752.3,734.1 1752.9,718.7 1753.5,733.3 1754.1,718.6 1754.7,733.3 1755.3,717.9 1755.9,733.5 1756.5,717.5 1757.1,733.3 1757.7,716.8 1758.3,732.9 1758.9,718.8 1759.5,732.1 1760.1,717.5 1760.7,731.5 1761.3,717.3 1761.9,731.2 1762.5,716.2 1763.1,731.2 1763.7,716.2 1764.3,731.0 1764.9,715.3 1765.5,731.0 1766.1,716.0 1766.7,730.7 1767.3,716.7 1767.9,732.6 1768.5,717.0 1769.1,734.3 1769.7,717.6 1770.3,732.7 1770.9,717.3 1771.5,733.2 1772.1,718.2 1772.7,731.8 1773.0,718.1 1773.3,732.4 1773.6,719.2 1773.9,733.4 1774.2,719.3 1774.5,734.7 1774.9,719.8 1775.2,734.3 1775.5,720.4 1775.8,736.0 1776.1,721.7 1776.4,735.5 1776.7,721.6 1777.0,736.6 1777.3,722.9 1777.6,738.1 1777.9,723.6 1778.2,739.6 1778.5,725.7 1778.8,739.9 1779.2,726.7 1779.5,741.8 1779.8,728.0 1780.1,742.7 1780.4,728.2 1780.7,744.3 1781.0,730.2 1781.4,745.5 1781.8,730.6 1782.2,745.4 1782.6,730.6 1783.0,743.8 1783.4,729.3 1783.8,742.5 1784.3,727.0 1784.7,741.0 1785.1,727.1 1785.5,740.4 1785.9,725.6 1786.3,738.6 1786.7,723.6 1787.1,737.9 1787.5,722.3 1787.9,736.5 1788.3,721.2 1788.7,736.5 1789.1,720.5 1789.5,734.9 1789.9,720.1 1790.3,734.1 1790.8,720.5 1791.2,733.4 1791.6,719.2 1792.0,733.0 1792.4,717.9 1792.8,732.2 1793.2,718.1 1793.6,732.8 1794.0,717.4 1794.4,732.2 1794.8,716.0 1795.2,730.8 1795.6,715.8 1796.0,729.6 1796.4,714.2 1796.9,730.0 1797.3,714.5 1797.7,728.8 1798.1,713.7 1798.5,726.9 1798.9,711.6 1799.3,725.0 1799.7,710.4 1800.3,724.9 1800.9,710.1 1801.5,724.5 1802.1,709.7 1802.7,723.6 1803.3,708.3 1803.9,723.8 1804.4,708.2 1805.0,723.9 1805.6,708.3 1806.2,723.1 1806.8,709.0 1807.4,722.1 1808.0,707.4 1808.6,722.1 1809.2,708.5 1809.8,722.6 1810.4,707.9 1811.0,722.1 1811.6,708.0 1812.2,722.5 1812.7,707.1 1813.3,721.2 1813.9,706.9 1814.5,720.5 1815.1,706.6 1815.7,720.9 1816.3,706.3 1816.9,719.7 1817.5,704.6 1818.1,718.7 1818.7,705.1 1819.3,720.5 1819.9,705.7 1820.5,720.6 1821.0,705.3 1821.6,720.7 1822.2,707.3 1822.8,721.8 1823.4,706.6 1824.0,721.9 1824.6,706.1 1825.2,720.0 1825.8,705.2 1826.4,718.9 1827.0,703.4 1827.6,718.1 1828.2,703.4 1828.8,717.6 1829.3,701.5 1829.9,717.6 1830.5,702.4 1831.1,717.9 1831.7,703.8 1832.3,719.8 1832.9,704.1 1833.5,720.4 1834.1,705.9 1834.7,719.7 1835.3,704.9 1835.9,718.6 1836.5,703.7 1837.2,718.9 1837.8,703.8 1838.4,717.4 1839.0,702.0 1839.6,717.5 1840.2,702.3 1840.8,717.1 1841.4,702.5 1842.0,717.0 1842.6,702.6 1843.2,718.0 1843.9,703.1 1844.5,717.2 1845.1,702.5 1845.7,717.4 1846.3,703.0 1846.9,718.2 1847.5,702.9 1848.1,718.8 1848.7,703.6 1849.3,718.6 1849.9,705.3 1850.6,718.9 1851.2,705.8 1851.8,719.3 1852.4,704.8 1853.0,720.0 1853.6,705.5 1854.2,719.4 1854.8,704.4 1855.4,720.1 1856.0,705.7 1856.6,719.8 1857.3,703.8 1857.9,719.0 1858.5,702.8 1859.1,719.7 1859.7,702.9 1860.3,717.9 1860.9,703.4 1861.5,716.6 1862.1,702.1 1862.7,718.8 1863.3,702.0 1864.0,717.3 1864.6,703.8 1865.2,718.5 1865.8,704.0 1866.4,718.2 1867.0,703.4 1867.6,718.6 1868.2,704.0 1868.8,718.4 1869.4,703.9 1870.0,719.6 1870.6,703.9 1871.2,718.9 1871.8,703.8 1872.4,719.8 1872.9,705.3 1873.5,719.4 1874.1,705.6 1874.7,719.3 1875.3,705.4 1875.9,720.8 1876.5,706.3 1877.1,720.7 1877.7,706.6 1878.3,720.5 1878.9,706.1 1879.5,720.9 1880.1,706.4 1880.7,720.1 1881.3,706.1 1881.9,720.8 1882.5,705.6 1883.1,719.7 1883.6,706.0 1884.2,721.9 1884.8,706.9 1885.4,722.2 1886.0,706.9 1886.6,722.4 1887.2,708.0 1887.8,722.8 1888.4,708.2 1889.0,715.9 1889.0,715.0 1889.1,717.1 1889.1,716.3 1889.1,718.3 1889.2,717.5 1889.2,719.6 1889.2,718.7 1889.3,720.8 1889.3,719.9 1889.3,722.0 1889.4,721.2 1889.4,723.2 1889.4,722.3 1889.5,724.4 1889.5,723.4 1889.5,725.5 1889.6,724.7 1889.6,726.8 1889.6,725.9 1889.7,728.0 1889.7,727.1 1889.7,729.3 1889.8,728.4 1889.8,730.5 1889.8,729.6 1889.9,731.6 1889.9,730.8 1889.9,733.0 1890.0,732.1 1890.0,734.1 1890.0,733.3 1890.0,735.3 1890.1,734.5 1890.1,736.6 1890.1,735.6 1890.2,737.8 1890.2,736.9 1890.2,738.8 1890.3,738.0 1890.3,740.1 1890.3,739.2 1890.4,741.2 1890.4,740.3 1890.4,742.3 1890.5,741.6 1890.5,743.7 1890.5,742.7 1890.6,745.0 1890.6,744.0 1890.6,746.1 1890.7,745.3 1890.7,747.4 1890.7,746.7 1890.8,748.6 1890.8,747.8 1890.8,749.9 1890.9,749.0 1890.9,751.0 1890.9,750.3 1891.0,752.2 1891.0,745.9"/>
</g>
<line x1="1892.0" y1="60.0" x2="1892.0" y2="1208.0" stroke="#000" stroke-width="4.8"/>
<g id="main-legend">
<rect x="952.8" y="867.8" width="844.9" height="287.7" fill="#fefefe" stroke="#555" stroke-width="3.4"/>
<line x1="976" y1="909.6" x2="1110.5" y2="909.6" stroke="#000000" stroke-width="6.2" stroke-linecap="butt"/>
<text x="1128.0" y="928.5" font-size="57">Water</text>
<line x1="976" y1="981.6" x2="1110.5" y2="981.6" stroke="#ff0000" stroke-width="6.2" stroke-linecap="butt"/>
<text x="1124.0" y="1001.4" font-size="57">0.1 wt.% fullerenols in water</text>
<line x1="976" y1="1052.6" x2="1110.5" y2="1052.6" stroke="#0000ff" stroke-width="6.2" stroke-linecap="butt"/>
<text x="1124.0" y="1071.9" font-size="57">0.5 wt.% fullerenols in water</text>
<line x1="976" y1="1123.1" x2="1110.5" y2="1123.1" stroke="#008000" stroke-width="6.2" stroke-linecap="butt"/>
<text x="1124.0" y="1142.5" font-size="57">1.0 wt.% fullerenols in water</text>
</g>
</svg></body></html>
